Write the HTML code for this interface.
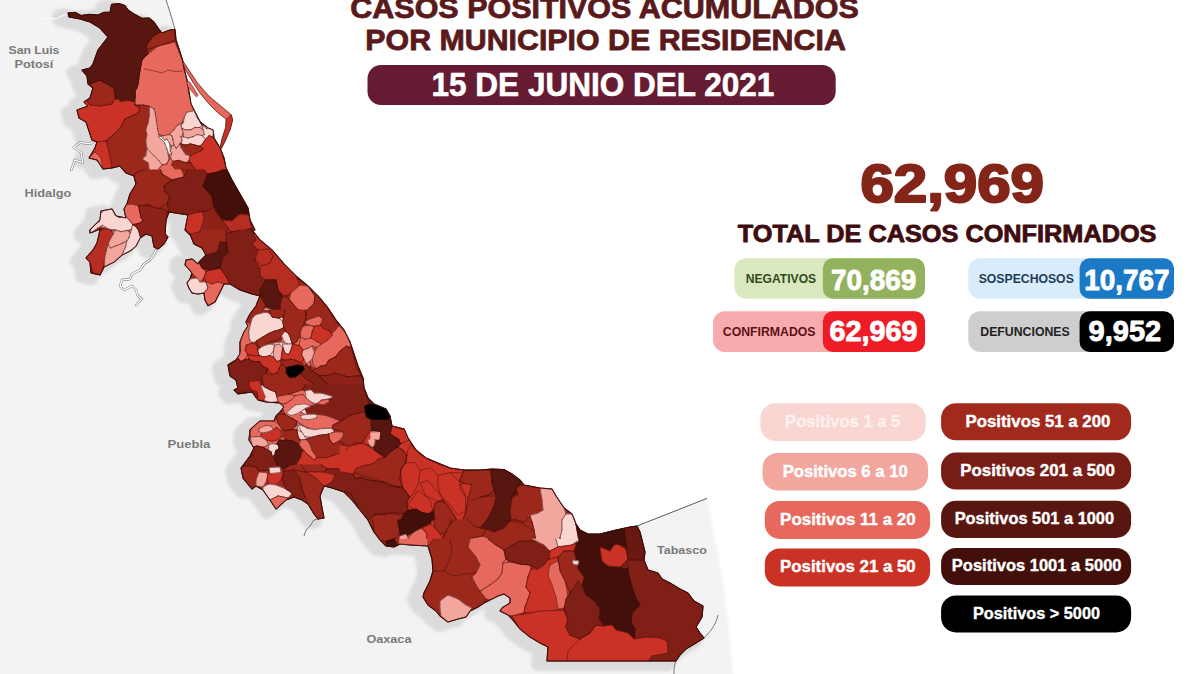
<!DOCTYPE html>
<html><head><meta charset="utf-8"><title>Casos positivos acumulados por municipio</title>
<style>
html,body{margin:0;padding:0;background:#fff;}
body{width:1200px;height:674px;overflow:hidden;font-family:"Liberation Sans",sans-serif;}
svg{display:block;font-family:"Liberation Sans",sans-serif;}
</style></head><body>
<svg width="1200" height="674" viewBox="0 0 1200 674">
<rect width="1200" height="674" fill="#ffffff"/>
<g id="map">
<defs><clipPath id="land"><path d="M-20,-20 L162,-20 L166.0,0.0 L170.0,12.0 L173.0,22.0 L175.0,29.6 L176.0,40.0 L180.0,52.0 L183.0,62.0 L184.0,69.0 L187.0,80.0 L189.0,92.0 L191.0,104.0 L194.0,110.0 L198.0,118.0 L202.0,125.0 L200.0,122.0 L208.0,128.0 L213.0,130.0 L214.0,138.0 L220.0,148.0 L224.0,158.0 L226.0,168.0 L232.0,180.0 L240.0,194.0 L248.0,208.0 L250.0,220.0 L255.0,230.0 L252.0,230.0 L260.0,240.0 L272.0,250.0 L284.0,264.0 L296.0,276.0 L308.0,286.0 L318.0,296.0 L328.0,308.0 L336.0,320.0 L344.0,330.0 L350.0,342.0 L354.0,354.0 L358.0,366.0 L363.0,378.0 L364.0,388.0 L368.0,398.0 L374.0,404.0 L386.0,409.0 L390.0,416.0 L392.0,426.0 L404.0,429.0 L408.0,438.0 L416.0,450.0 L426.0,458.0 L438.0,463.0 L450.0,468.0 L464.0,470.0 L480.0,470.0 L492.0,469.0 L504.0,469.6 L512.0,474.0 L520.0,480.0 L524.0,485.0 L540.0,488.0 L552.0,489.0 L556.0,496.0 L564.0,508.0 L572.0,514.0 L576.0,524.0 L580.0,530.0 L588.0,534.0 L600.0,534.0 L616.0,530.0 L630.0,527.0 L637.0,526.0 L707.0,498.4 L713.0,530.0 L719.0,560.0 L724.0,590.0 L728.0,620.0 L731.0,650.0 L733.0,674.0 L736,700 L-20,700 Z"/></clipPath><filter id="bl" x="-10%" y="-10%" width="120%" height="120%"><feGaussianBlur stdDeviation="1.4"/></filter><filter id="bl2" x="-10%" y="-10%" width="120%" height="120%"><feGaussianBlur stdDeviation="1.2"/></filter></defs>
<path d="M-20,-20 L162,-20 L166.0,0.0 L170.0,12.0 L173.0,22.0 L175.0,29.6 L176.0,40.0 L180.0,52.0 L183.0,62.0 L184.0,69.0 L187.0,80.0 L189.0,92.0 L191.0,104.0 L194.0,110.0 L198.0,118.0 L202.0,125.0 L200.0,122.0 L208.0,128.0 L213.0,130.0 L214.0,138.0 L220.0,148.0 L224.0,158.0 L226.0,168.0 L232.0,180.0 L240.0,194.0 L248.0,208.0 L250.0,220.0 L255.0,230.0 L252.0,230.0 L260.0,240.0 L272.0,250.0 L284.0,264.0 L296.0,276.0 L308.0,286.0 L318.0,296.0 L328.0,308.0 L336.0,320.0 L344.0,330.0 L350.0,342.0 L354.0,354.0 L358.0,366.0 L363.0,378.0 L364.0,388.0 L368.0,398.0 L374.0,404.0 L386.0,409.0 L390.0,416.0 L392.0,426.0 L404.0,429.0 L408.0,438.0 L416.0,450.0 L426.0,458.0 L438.0,463.0 L450.0,468.0 L464.0,470.0 L480.0,470.0 L492.0,469.0 L504.0,469.6 L512.0,474.0 L520.0,480.0 L524.0,485.0 L540.0,488.0 L552.0,489.0 L556.0,496.0 L564.0,508.0 L572.0,514.0 L576.0,524.0 L580.0,530.0 L588.0,534.0 L600.0,534.0 L616.0,530.0 L630.0,527.0 L637.0,526.0 L707.0,498.4 L713.0,530.0 L719.0,560.0 L724.0,590.0 L728.0,620.0 L731.0,650.0 L733.0,674.0 L736,700 L-20,700 Z" fill="#f3f3f3" filter="url(#bl2)"/>
<g clip-path="url(#land)"><path d="M68.0,13.0 L75.0,12.4 L81.0,15.6 L89.0,14.4 L98.0,15.0 L104.0,12.4 L110.0,12.4 L111.6,4.4 L119.0,3.6 L125.0,5.6 L128.0,10.0 L134.0,14.0 L142.0,18.4 L149.0,18.0 L154.0,22.0 L158.0,28.0 L162.0,33.0 L170.0,30.0 L175.0,29.6 L176.0,40.0 L180.0,52.0 L183.0,62.0 L184.0,69.0 L187.0,80.0 L189.0,92.0 L191.0,104.0 L194.0,110.0 L198.0,118.0 L202.0,125.0 L200.0,122.0 L208.0,128.0 L213.0,130.0 L214.0,138.0 L220.0,148.0 L224.0,158.0 L226.0,168.0 L232.0,180.0 L240.0,194.0 L248.0,208.0 L250.0,220.0 L255.0,230.0 L252.0,230.0 L260.0,240.0 L272.0,250.0 L284.0,264.0 L296.0,276.0 L308.0,286.0 L318.0,296.0 L328.0,308.0 L336.0,320.0 L344.0,330.0 L350.0,342.0 L354.0,354.0 L358.0,366.0 L363.0,378.0 L364.0,388.0 L368.0,398.0 L374.0,404.0 L386.0,409.0 L390.0,416.0 L392.0,426.0 L404.0,429.0 L408.0,438.0 L416.0,450.0 L426.0,458.0 L438.0,463.0 L450.0,468.0 L464.0,470.0 L480.0,470.0 L492.0,469.0 L504.0,469.6 L512.0,474.0 L520.0,480.0 L524.0,485.0 L540.0,488.0 L552.0,489.0 L556.0,496.0 L564.0,508.0 L572.0,514.0 L576.0,524.0 L580.0,530.0 L588.0,534.0 L600.0,534.0 L616.0,530.0 L630.0,527.0 L637.0,526.0 L640.0,532.0 L642.0,540.0 L645.0,552.0 L644.0,560.0 L648.0,570.0 L658.0,573.0 L662.0,579.0 L670.0,583.0 L680.0,589.0 L688.0,593.0 L694.0,601.0 L703.0,606.0 L702.0,617.0 L696.0,627.0 L700.0,633.0 L704.0,638.0 L696.0,643.0 L686.0,649.0 L680.0,655.0 L676.0,661.0 L547.0,661.0 L548.0,647.0 L540.0,643.0 L530.0,637.0 L520.0,629.0 L512.0,619.0 L508.0,615.0 L500.0,611.0 L502.0,608.0 L510.0,603.0 L510.0,598.0 L504.0,594.0 L498.0,596.0 L490.0,600.0 L484.0,603.0 L478.0,607.0 L470.0,611.0 L466.0,617.0 L458.0,619.0 L448.0,622.0 L440.0,616.0 L436.0,611.0 L428.0,605.0 L423.0,597.0 L424.0,593.0 L430.0,581.0 L433.0,571.0 L432.0,559.0 L428.0,546.0 L410.0,545.0 L400.0,544.0 L394.0,547.0 L386.0,546.0 L380.0,540.0 L374.0,532.0 L368.0,520.0 L360.0,510.0 L352.0,500.0 L344.0,492.0 L332.0,488.0 L324.0,486.0 L320.0,496.0 L322.0,508.0 L324.0,518.0 L318.0,519.0 L314.0,514.0 L308.0,504.0 L302.0,500.0 L294.0,497.0 L286.0,500.0 L276.0,509.0 L270.0,500.0 L263.0,490.0 L256.0,486.0 L252.0,489.0 L243.0,478.0 L241.0,468.0 L250.0,456.0 L254.0,448.0 L249.0,440.0 L250.0,430.0 L252.0,428.0 L260.0,421.0 L274.0,421.0 L276.0,416.0 L280.0,412.0 L284.0,407.0 L280.0,403.0 L266.0,402.0 L258.0,400.0 L252.0,392.0 L238.0,394.0 L234.0,390.0 L238.0,388.0 L236.0,380.0 L230.0,376.0 L228.0,365.0 L228.0,364.8 L236.0,360.0 L240.0,354.0 L240.0,342.0 L244.0,332.0 L248.0,326.0 L246.0,322.0 L250.0,314.0 L256.0,306.0 L260.0,296.0 L252.0,294.0 L240.0,290.0 L230.0,284.0 L224.0,284.0 L222.0,288.0 L218.0,296.0 L215.0,302.0 L208.0,305.6 L205.0,300.0 L204.0,293.0 L198.0,294.0 L192.0,293.0 L189.0,288.0 L187.0,283.0 L190.0,279.0 L192.0,273.0 L188.0,268.0 L185.0,265.0 L186.0,260.0 L192.0,259.0 L198.0,264.0 L199.0,262.0 L206.0,255.0 L202.0,248.0 L194.0,244.0 L190.0,234.0 L190.0,235.0 L185.0,230.0 L187.0,220.0 L188.0,215.0 L169.0,212.0 L166.0,220.0 L165.0,234.0 L168.0,237.0 L164.0,244.0 L158.0,249.0 L154.0,247.0 L152.0,236.0 L146.0,234.0 L140.0,238.0 L136.0,246.0 L130.0,251.0 L122.0,255.0 L114.0,262.0 L104.0,267.0 L100.0,275.0 L91.0,273.0 L90.0,262.0 L86.0,258.0 L93.0,250.0 L97.0,243.0 L99.0,235.0 L100.0,229.0 L93.0,232.0 L90.0,233.0 L90.0,230.0 L95.0,225.0 L100.0,220.0 L101.0,211.0 L112.0,209.0 L116.0,216.0 L126.0,218.0 L124.0,209.0 L127.0,204.0 L130.0,194.0 L136.0,184.0 L134.0,176.0 L126.0,173.0 L120.0,166.0 L112.0,168.0 L103.0,169.0 L97.0,160.0 L89.0,158.0 L95.0,148.0 L97.0,142.0 L92.0,140.0 L86.0,122.0 L79.0,118.0 L77.0,110.0 L88.0,106.0 L84.0,102.0 L90.0,98.0 L93.0,88.0 L88.0,84.0 L87.0,76.0 L82.0,70.0 L90.0,68.0 L93.0,64.0 L98.0,50.0 L108.0,37.0 L100.0,28.0 L90.0,22.0 L80.0,19.0 L69.0,17.0Z" fill="#dbdbdb" stroke="#dbdbdb" stroke-width="14" stroke-linejoin="round" transform="translate(-9,3)" filter="url(#bl)"/></g>
<path d="M71.3,170.0 L75.0,160.0 L82.6,162.6 L81.3,152.6 L73.8,147.6 L80.0,142.5 L90.0,143.8 L94.0,141.3" fill="none" stroke="#666" stroke-width="2.3" stroke-linejoin="round" stroke-linecap="round"/><path d="M71.3,170.0 L75.0,160.0 L82.6,162.6 L81.3,152.6 L73.8,147.6 L80.0,142.5 L90.0,143.8 L94.0,141.3" fill="none" stroke="#fafafa" stroke-width="1.5" stroke-linejoin="round" stroke-linecap="round"/>
<path d="M156.0,250.0 L154.0,254.0 L150.0,260.0 L144.0,264.0 L140.0,270.0 L132.0,274.0 L130.0,279.0 L122.0,280.0 L120.0,286.0 L124.0,290.0 L132.0,286.0 L136.0,290.0 L138.0,296.0 L142.0,299.0 L136.0,305.0" fill="none" stroke="#666" stroke-width="2.3" stroke-linejoin="round" stroke-linecap="round"/><path d="M156.0,250.0 L154.0,254.0 L150.0,260.0 L144.0,264.0 L140.0,270.0 L132.0,274.0 L130.0,279.0 L122.0,280.0 L120.0,286.0 L124.0,290.0 L132.0,286.0 L136.0,290.0 L138.0,296.0 L142.0,299.0 L136.0,305.0" fill="none" stroke="#fafafa" stroke-width="1.5" stroke-linejoin="round" stroke-linecap="round"/>
<path d="M318,519 L314,520 L310,526 L306,530 L304,536" fill="none" stroke="#444" stroke-width="0.7"/>
<path d="M43,19.5 L50,18 L56,19 L62,16 L68,13.8" fill="none" stroke="#ffffff" stroke-width="1.0"/>
<path d="M68.0,13.0 L75.0,12.4 L81.0,15.6 L89.0,14.4 L98.0,15.0 L104.0,12.4 L110.0,12.4 L111.6,4.4 L119.0,3.6 L125.0,5.6 L128.0,10.0 L134.0,14.0 L142.0,18.4 L149.0,18.0 L154.0,22.0 L158.0,28.0 L162.0,33.0 L170.0,30.0 L175.0,29.6 L176.0,40.0 L180.0,52.0 L183.0,62.0 L184.0,69.0 L187.0,80.0 L189.0,92.0 L191.0,104.0 L194.0,110.0 L198.0,118.0 L202.0,125.0 L200.0,122.0 L208.0,128.0 L213.0,130.0 L214.0,138.0 L220.0,148.0 L224.0,158.0 L226.0,168.0 L232.0,180.0 L240.0,194.0 L248.0,208.0 L250.0,220.0 L255.0,230.0 L252.0,230.0 L260.0,240.0 L272.0,250.0 L284.0,264.0 L296.0,276.0 L308.0,286.0 L318.0,296.0 L328.0,308.0 L336.0,320.0 L344.0,330.0 L350.0,342.0 L354.0,354.0 L358.0,366.0 L363.0,378.0 L364.0,388.0 L368.0,398.0 L374.0,404.0 L386.0,409.0 L390.0,416.0 L392.0,426.0 L404.0,429.0 L408.0,438.0 L416.0,450.0 L426.0,458.0 L438.0,463.0 L450.0,468.0 L464.0,470.0 L480.0,470.0 L492.0,469.0 L504.0,469.6 L512.0,474.0 L520.0,480.0 L524.0,485.0 L540.0,488.0 L552.0,489.0 L556.0,496.0 L564.0,508.0 L572.0,514.0 L576.0,524.0 L580.0,530.0 L588.0,534.0 L600.0,534.0 L616.0,530.0 L630.0,527.0 L637.0,526.0 L640.0,532.0 L642.0,540.0 L645.0,552.0 L644.0,560.0 L648.0,570.0 L658.0,573.0 L662.0,579.0 L670.0,583.0 L680.0,589.0 L688.0,593.0 L694.0,601.0 L703.0,606.0 L702.0,617.0 L696.0,627.0 L700.0,633.0 L704.0,638.0 L696.0,643.0 L686.0,649.0 L680.0,655.0 L676.0,661.0 L547.0,661.0 L548.0,647.0 L540.0,643.0 L530.0,637.0 L520.0,629.0 L512.0,619.0 L508.0,615.0 L500.0,611.0 L502.0,608.0 L510.0,603.0 L510.0,598.0 L504.0,594.0 L498.0,596.0 L490.0,600.0 L484.0,603.0 L478.0,607.0 L470.0,611.0 L466.0,617.0 L458.0,619.0 L448.0,622.0 L440.0,616.0 L436.0,611.0 L428.0,605.0 L423.0,597.0 L424.0,593.0 L430.0,581.0 L433.0,571.0 L432.0,559.0 L428.0,546.0 L410.0,545.0 L400.0,544.0 L394.0,547.0 L386.0,546.0 L380.0,540.0 L374.0,532.0 L368.0,520.0 L360.0,510.0 L352.0,500.0 L344.0,492.0 L332.0,488.0 L324.0,486.0 L320.0,496.0 L322.0,508.0 L324.0,518.0 L318.0,519.0 L314.0,514.0 L308.0,504.0 L302.0,500.0 L294.0,497.0 L286.0,500.0 L276.0,509.0 L270.0,500.0 L263.0,490.0 L256.0,486.0 L252.0,489.0 L243.0,478.0 L241.0,468.0 L250.0,456.0 L254.0,448.0 L249.0,440.0 L250.0,430.0 L252.0,428.0 L260.0,421.0 L274.0,421.0 L276.0,416.0 L280.0,412.0 L284.0,407.0 L280.0,403.0 L266.0,402.0 L258.0,400.0 L252.0,392.0 L238.0,394.0 L234.0,390.0 L238.0,388.0 L236.0,380.0 L230.0,376.0 L228.0,365.0 L228.0,364.8 L236.0,360.0 L240.0,354.0 L240.0,342.0 L244.0,332.0 L248.0,326.0 L246.0,322.0 L250.0,314.0 L256.0,306.0 L260.0,296.0 L252.0,294.0 L240.0,290.0 L230.0,284.0 L224.0,284.0 L222.0,288.0 L218.0,296.0 L215.0,302.0 L208.0,305.6 L205.0,300.0 L204.0,293.0 L198.0,294.0 L192.0,293.0 L189.0,288.0 L187.0,283.0 L190.0,279.0 L192.0,273.0 L188.0,268.0 L185.0,265.0 L186.0,260.0 L192.0,259.0 L198.0,264.0 L199.0,262.0 L206.0,255.0 L202.0,248.0 L194.0,244.0 L190.0,234.0 L190.0,235.0 L185.0,230.0 L187.0,220.0 L188.0,215.0 L169.0,212.0 L166.0,220.0 L165.0,234.0 L168.0,237.0 L164.0,244.0 L158.0,249.0 L154.0,247.0 L152.0,236.0 L146.0,234.0 L140.0,238.0 L136.0,246.0 L130.0,251.0 L122.0,255.0 L114.0,262.0 L104.0,267.0 L100.0,275.0 L91.0,273.0 L90.0,262.0 L86.0,258.0 L93.0,250.0 L97.0,243.0 L99.0,235.0 L100.0,229.0 L93.0,232.0 L90.0,233.0 L90.0,230.0 L95.0,225.0 L100.0,220.0 L101.0,211.0 L112.0,209.0 L116.0,216.0 L126.0,218.0 L124.0,209.0 L127.0,204.0 L130.0,194.0 L136.0,184.0 L134.0,176.0 L126.0,173.0 L120.0,166.0 L112.0,168.0 L103.0,169.0 L97.0,160.0 L89.0,158.0 L95.0,148.0 L97.0,142.0 L92.0,140.0 L86.0,122.0 L79.0,118.0 L77.0,110.0 L88.0,106.0 L84.0,102.0 L90.0,98.0 L93.0,88.0 L88.0,84.0 L87.0,76.0 L82.0,70.0 L90.0,68.0 L93.0,64.0 L98.0,50.0 L108.0,37.0 L100.0,28.0 L90.0,22.0 L80.0,19.0 L69.0,17.0Z" fill="#9c271b" stroke="#3a0c09" stroke-width="1.2" stroke-linejoin="round"/>
<clipPath id="st"><path d="M68.0,13.0 L75.0,12.4 L81.0,15.6 L89.0,14.4 L98.0,15.0 L104.0,12.4 L110.0,12.4 L111.6,4.4 L119.0,3.6 L125.0,5.6 L128.0,10.0 L134.0,14.0 L142.0,18.4 L149.0,18.0 L154.0,22.0 L158.0,28.0 L162.0,33.0 L170.0,30.0 L175.0,29.6 L176.0,40.0 L180.0,52.0 L183.0,62.0 L184.0,69.0 L187.0,80.0 L189.0,92.0 L191.0,104.0 L194.0,110.0 L198.0,118.0 L202.0,125.0 L200.0,122.0 L208.0,128.0 L213.0,130.0 L214.0,138.0 L220.0,148.0 L224.0,158.0 L226.0,168.0 L232.0,180.0 L240.0,194.0 L248.0,208.0 L250.0,220.0 L255.0,230.0 L252.0,230.0 L260.0,240.0 L272.0,250.0 L284.0,264.0 L296.0,276.0 L308.0,286.0 L318.0,296.0 L328.0,308.0 L336.0,320.0 L344.0,330.0 L350.0,342.0 L354.0,354.0 L358.0,366.0 L363.0,378.0 L364.0,388.0 L368.0,398.0 L374.0,404.0 L386.0,409.0 L390.0,416.0 L392.0,426.0 L404.0,429.0 L408.0,438.0 L416.0,450.0 L426.0,458.0 L438.0,463.0 L450.0,468.0 L464.0,470.0 L480.0,470.0 L492.0,469.0 L504.0,469.6 L512.0,474.0 L520.0,480.0 L524.0,485.0 L540.0,488.0 L552.0,489.0 L556.0,496.0 L564.0,508.0 L572.0,514.0 L576.0,524.0 L580.0,530.0 L588.0,534.0 L600.0,534.0 L616.0,530.0 L630.0,527.0 L637.0,526.0 L640.0,532.0 L642.0,540.0 L645.0,552.0 L644.0,560.0 L648.0,570.0 L658.0,573.0 L662.0,579.0 L670.0,583.0 L680.0,589.0 L688.0,593.0 L694.0,601.0 L703.0,606.0 L702.0,617.0 L696.0,627.0 L700.0,633.0 L704.0,638.0 L696.0,643.0 L686.0,649.0 L680.0,655.0 L676.0,661.0 L547.0,661.0 L548.0,647.0 L540.0,643.0 L530.0,637.0 L520.0,629.0 L512.0,619.0 L508.0,615.0 L500.0,611.0 L502.0,608.0 L510.0,603.0 L510.0,598.0 L504.0,594.0 L498.0,596.0 L490.0,600.0 L484.0,603.0 L478.0,607.0 L470.0,611.0 L466.0,617.0 L458.0,619.0 L448.0,622.0 L440.0,616.0 L436.0,611.0 L428.0,605.0 L423.0,597.0 L424.0,593.0 L430.0,581.0 L433.0,571.0 L432.0,559.0 L428.0,546.0 L410.0,545.0 L400.0,544.0 L394.0,547.0 L386.0,546.0 L380.0,540.0 L374.0,532.0 L368.0,520.0 L360.0,510.0 L352.0,500.0 L344.0,492.0 L332.0,488.0 L324.0,486.0 L320.0,496.0 L322.0,508.0 L324.0,518.0 L318.0,519.0 L314.0,514.0 L308.0,504.0 L302.0,500.0 L294.0,497.0 L286.0,500.0 L276.0,509.0 L270.0,500.0 L263.0,490.0 L256.0,486.0 L252.0,489.0 L243.0,478.0 L241.0,468.0 L250.0,456.0 L254.0,448.0 L249.0,440.0 L250.0,430.0 L252.0,428.0 L260.0,421.0 L274.0,421.0 L276.0,416.0 L280.0,412.0 L284.0,407.0 L280.0,403.0 L266.0,402.0 L258.0,400.0 L252.0,392.0 L238.0,394.0 L234.0,390.0 L238.0,388.0 L236.0,380.0 L230.0,376.0 L228.0,365.0 L228.0,364.8 L236.0,360.0 L240.0,354.0 L240.0,342.0 L244.0,332.0 L248.0,326.0 L246.0,322.0 L250.0,314.0 L256.0,306.0 L260.0,296.0 L252.0,294.0 L240.0,290.0 L230.0,284.0 L224.0,284.0 L222.0,288.0 L218.0,296.0 L215.0,302.0 L208.0,305.6 L205.0,300.0 L204.0,293.0 L198.0,294.0 L192.0,293.0 L189.0,288.0 L187.0,283.0 L190.0,279.0 L192.0,273.0 L188.0,268.0 L185.0,265.0 L186.0,260.0 L192.0,259.0 L198.0,264.0 L199.0,262.0 L206.0,255.0 L202.0,248.0 L194.0,244.0 L190.0,234.0 L190.0,235.0 L185.0,230.0 L187.0,220.0 L188.0,215.0 L169.0,212.0 L166.0,220.0 L165.0,234.0 L168.0,237.0 L164.0,244.0 L158.0,249.0 L154.0,247.0 L152.0,236.0 L146.0,234.0 L140.0,238.0 L136.0,246.0 L130.0,251.0 L122.0,255.0 L114.0,262.0 L104.0,267.0 L100.0,275.0 L91.0,273.0 L90.0,262.0 L86.0,258.0 L93.0,250.0 L97.0,243.0 L99.0,235.0 L100.0,229.0 L93.0,232.0 L90.0,233.0 L90.0,230.0 L95.0,225.0 L100.0,220.0 L101.0,211.0 L112.0,209.0 L116.0,216.0 L126.0,218.0 L124.0,209.0 L127.0,204.0 L130.0,194.0 L136.0,184.0 L134.0,176.0 L126.0,173.0 L120.0,166.0 L112.0,168.0 L103.0,169.0 L97.0,160.0 L89.0,158.0 L95.0,148.0 L97.0,142.0 L92.0,140.0 L86.0,122.0 L79.0,118.0 L77.0,110.0 L88.0,106.0 L84.0,102.0 L90.0,98.0 L93.0,88.0 L88.0,84.0 L87.0,76.0 L82.0,70.0 L90.0,68.0 L93.0,64.0 L98.0,50.0 L108.0,37.0 L100.0,28.0 L90.0,22.0 L80.0,19.0 L69.0,17.0Z"/></clipPath>
<g clip-path="url(#st)" stroke-linejoin="round">
<path d="M148.0,54.0 L158.0,46.0 L175.0,42.0 L183.0,62.0 L184.0,69.0 L187.0,80.0 L189.0,92.0 L191.0,104.0 L194.0,110.0 L188.0,114.0 L180.0,124.0 L170.0,134.8 L158.0,134.8 L154.0,120.0 L152.0,108.0 L134.0,98.0 L138.0,84.0 L140.0,70.0 L142.0,60.0Z" fill="#e7695d" stroke="#e7695d" stroke-width="0.7"/>
<path d="M148.0,54.0L158.0,46.0M158.0,46.0L175.0,42.0M175.0,42.0L183.0,62.0M183.0,62.0L184.0,69.0M184.0,69.0L187.0,80.0M187.0,80.0L189.0,92.0M189.0,92.0L191.0,104.0M191.0,104.0L194.0,110.0M194.0,110.0L188.0,114.0M188.0,114.0L180.0,124.0M180.0,124.0L170.0,134.8M158.0,134.8L154.0,120.0M154.0,120.0L152.0,108.0M152.0,108.0L134.0,98.0M134.0,98.0L138.0,84.0M138.0,84.0L140.0,70.0M140.0,70.0L142.0,60.0M142.0,60.0L148.0,54.0" fill="none" stroke="#3a0c09" stroke-width="0.55" stroke-linecap="round"/>
<path d="M152.0,37.0 L160.0,32.0 L170.0,30.0 L174.4,29.0 L175.0,40.0 L168.0,43.0 L158.0,46.0 L149.0,49.0 L146.0,46.0Z" fill="#9c271b" stroke="#9c271b" stroke-width="0.7"/>
<path d="M152.0,37.0L160.0,32.0M160.0,32.0L170.0,30.0M170.0,30.0L174.4,29.0M174.4,29.0L175.0,40.0M175.0,40.0L168.0,43.0M168.0,43.0L158.0,46.0M158.0,46.0L149.0,49.0M149.0,49.0L146.0,46.0M146.0,46.0L152.0,37.0" fill="none" stroke="#3a0c09" stroke-width="0.55" stroke-linecap="round"/>
<path d="M100.0,80.0 L114.0,88.0 L116.0,102.0 L106.0,105.0 L88.0,107.0 L84.0,102.0 L90.0,98.0 L93.0,88.0 L88.0,84.0 L90.0,83.0Z" fill="#9c271b" stroke="#9c271b" stroke-width="0.7"/>
<path d="M100.0,80.0L114.0,88.0M114.0,88.0L116.0,102.0M116.0,102.0L106.0,105.0M106.0,105.0L88.0,107.0M88.0,107.0L84.0,102.0M84.0,102.0L90.0,98.0M90.0,98.0L93.0,88.0M93.0,88.0L88.0,84.0M88.0,84.0L90.0,83.0M90.0,83.0L100.0,80.0" fill="none" stroke="#3a0c09" stroke-width="0.55" stroke-linecap="round"/>
<path d="M77.0,109.0 L88.0,107.0 L106.0,105.0 L116.0,102.0 L134.0,98.0 L140.0,108.0 L130.0,118.0 L124.0,120.0 L112.0,132.0 L110.0,134.8 L92.0,134.8 L86.0,128.0 L79.0,120.0Z" fill="#cb3226" stroke="#cb3226" stroke-width="0.7"/>
<path d="M77.0,109.0L88.0,107.0M88.0,107.0L106.0,105.0M106.0,105.0L116.0,102.0M116.0,102.0L134.0,98.0M134.0,98.0L140.0,108.0M140.0,108.0L130.0,118.0M130.0,118.0L124.0,120.0M124.0,120.0L112.0,132.0M112.0,132.0L110.0,134.8M92.0,134.8L86.0,128.0M86.0,128.0L79.0,120.0M79.0,120.0L77.0,109.0" fill="none" stroke="#3a0c09" stroke-width="0.55" stroke-linecap="round"/>
<path d="M140.0,108.0 L152.0,108.0 L154.0,120.0 L149.0,128.0 L146.0,134.8 L110.0,134.8 L112.0,132.0 L124.0,120.0 L130.0,118.0Z" fill="#9c271b" stroke="#9c271b" stroke-width="0.7"/>
<path d="M140.0,108.0L152.0,108.0M152.0,108.0L154.0,120.0M154.0,120.0L149.0,128.0M149.0,128.0L146.0,134.8M110.0,134.8L112.0,132.0M112.0,132.0L124.0,120.0M124.0,120.0L130.0,118.0M130.0,118.0L140.0,108.0" fill="none" stroke="#3a0c09" stroke-width="0.55" stroke-linecap="round"/>
<path d="M154.0,120.0 L158.0,134.8 L146.0,134.8 L149.0,128.0Z" fill="#f3a69e" stroke="#f3a69e" stroke-width="0.7"/>
<path d="M154.0,120.0L158.0,134.8M146.0,134.8L149.0,128.0M149.0,128.0L154.0,120.0" fill="none" stroke="#3a0c09" stroke-width="0.55" stroke-linecap="round"/>
<path d="M188.0,114.0 L194.0,110.0 L198.0,118.0 L202.0,125.0 L210.0,128.0 L212.0,134.8 L180.0,134.8 L180.0,124.0Z" fill="#f9d6d2" stroke="#f9d6d2" stroke-width="0.7"/>
<path d="M188.0,114.0L194.0,110.0M194.0,110.0L198.0,118.0M198.0,118.0L202.0,125.0M202.0,125.0L210.0,128.0M210.0,128.0L212.0,134.8M180.0,134.8L180.0,124.0M180.0,124.0L188.0,114.0" fill="none" stroke="#3a0c09" stroke-width="0.55" stroke-linecap="round"/>
<path d="M68.0,13.0 L75.0,12.4 L81.0,15.6 L89.0,14.4 L98.0,15.0 L104.0,12.4 L110.0,12.4 L111.6,4.4 L119.0,3.6 L125.0,5.6 L128.0,10.0 L134.0,14.0 L142.0,18.4 L149.0,18.0 L154.0,22.0 L158.0,28.0 L160.0,32.0 L152.0,37.0 L146.0,46.0 L148.0,54.0 L142.0,60.0 L140.0,70.0 L138.0,84.0 L134.0,98.0 L116.0,102.0 L114.0,88.0 L100.0,80.0 L90.0,84.0 L87.0,76.0 L82.0,70.0 L90.0,68.0 L93.0,64.0 L98.0,50.0 L108.0,37.0 L100.0,28.0 L90.0,22.0 L80.0,19.0 L69.0,17.0Z" fill="#57160f" stroke="#57160f" stroke-width="0.7"/>
<path d="M68.0,13.0L75.0,12.4M75.0,12.4L81.0,15.6M81.0,15.6L89.0,14.4M89.0,14.4L98.0,15.0M98.0,15.0L104.0,12.4M104.0,12.4L110.0,12.4M110.0,12.4L111.6,4.4M111.6,4.4L119.0,3.6M119.0,3.6L125.0,5.6M125.0,5.6L128.0,10.0M128.0,10.0L134.0,14.0M134.0,14.0L142.0,18.4M142.0,18.4L149.0,18.0M149.0,18.0L154.0,22.0M154.0,22.0L158.0,28.0M158.0,28.0L160.0,32.0M160.0,32.0L152.0,37.0M152.0,37.0L146.0,46.0M146.0,46.0L148.0,54.0M148.0,54.0L142.0,60.0M142.0,60.0L140.0,70.0M140.0,70.0L138.0,84.0M138.0,84.0L134.0,98.0M134.0,98.0L116.0,102.0M116.0,102.0L114.0,88.0M114.0,88.0L100.0,80.0M100.0,80.0L90.0,84.0M90.0,84.0L87.0,76.0M87.0,76.0L82.0,70.0M82.0,70.0L90.0,68.0M90.0,68.0L93.0,64.0M93.0,64.0L98.0,50.0M98.0,50.0L108.0,37.0M108.0,37.0L100.0,28.0M100.0,28.0L90.0,22.0M90.0,22.0L80.0,19.0M80.0,19.0L69.0,17.0M69.0,17.0L68.0,13.0" fill="none" stroke="#3a0c09" stroke-width="0.55" stroke-linecap="round"/>
<path d="M86.0,100.0 L77.0,110.0 L79.0,118.0 L86.0,122.0 L92.0,140.0 L97.0,142.0 L106.0,141.0 L113.0,135.0 L120.0,128.0 L124.0,120.0 L136.0,115.0 L144.0,108.0 L140.0,100.0Z" fill="#cb3226" stroke="#cb3226" stroke-width="0.7"/>
<path d="M86.0,100.0L77.0,110.0M77.0,110.0L79.0,118.0M79.0,118.0L86.0,122.0M86.0,122.0L92.0,140.0M92.0,140.0L97.0,142.0M97.0,142.0L106.0,141.0M106.0,141.0L113.0,135.0M113.0,135.0L120.0,128.0M120.0,128.0L124.0,120.0M124.0,120.0L136.0,115.0M136.0,115.0L144.0,108.0M144.0,108.0L140.0,100.0" fill="none" stroke="#3a0c09" stroke-width="0.55" stroke-linecap="round"/>
<path d="M144.0,108.0 L153.0,114.0 L149.0,124.0 L146.0,134.0 L148.0,148.0 L142.0,158.0 L148.0,168.0 L136.0,173.0 L134.0,176.0 L126.0,173.0 L120.0,166.0 L112.0,168.0 L109.0,152.0 L106.0,141.0 L113.0,135.0 L120.0,128.0 L124.0,120.0 L136.0,115.0Z" fill="#9c271b" stroke="#9c271b" stroke-width="0.7"/>
<path d="M144.0,108.0L153.0,114.0M153.0,114.0L149.0,124.0M149.0,124.0L146.0,134.0M146.0,134.0L148.0,148.0M148.0,148.0L142.0,158.0M142.0,158.0L148.0,168.0M148.0,168.0L136.0,173.0M136.0,173.0L134.0,176.0M134.0,176.0L126.0,173.0M126.0,173.0L120.0,166.0M120.0,166.0L112.0,168.0M112.0,168.0L109.0,152.0M109.0,152.0L106.0,141.0M106.0,141.0L113.0,135.0M113.0,135.0L120.0,128.0M120.0,128.0L124.0,120.0M124.0,120.0L136.0,115.0M136.0,115.0L144.0,108.0" fill="none" stroke="#3a0c09" stroke-width="0.55" stroke-linecap="round"/>
<path d="M86.0,100.0 L114.0,100.0 L112.0,104.0 L100.0,106.0 L90.0,105.0Z" fill="#9c271b" stroke="#9c271b" stroke-width="0.7"/>
<path d="M114.0,100.0L112.0,104.0M112.0,104.0L100.0,106.0M100.0,106.0L90.0,105.0M90.0,105.0L86.0,100.0" fill="none" stroke="#3a0c09" stroke-width="0.55" stroke-linecap="round"/>
<path d="M97.0,142.0 L106.0,141.0 L109.0,152.0 L112.0,168.0 L103.0,169.0 L97.0,160.0 L89.0,158.0 L95.0,148.0Z" fill="#cb3226" stroke="#cb3226" stroke-width="0.7"/>
<path d="M97.0,142.0L106.0,141.0M106.0,141.0L109.0,152.0M109.0,152.0L112.0,168.0M112.0,168.0L103.0,169.0M103.0,169.0L97.0,160.0M97.0,160.0L89.0,158.0M89.0,158.0L95.0,148.0M95.0,148.0L97.0,142.0" fill="none" stroke="#3a0c09" stroke-width="0.55" stroke-linecap="round"/>
<path d="M89.0,158.0 L95.0,152.0 L101.0,158.0 L103.0,169.0 L97.0,160.0Z" fill="#e7695d" stroke="#e7695d" stroke-width="0.7"/>
<path d="M89.0,158.0L95.0,152.0M95.0,152.0L101.0,158.0M101.0,158.0L103.0,169.0M103.0,169.0L97.0,160.0M97.0,160.0L89.0,158.0" fill="none" stroke="#3a0c09" stroke-width="0.55" stroke-linecap="round"/>
<path d="M153.0,114.0 L156.0,126.0 L160.0,136.0 L168.0,139.0 L172.0,148.0 L169.0,156.0 L164.0,166.0 L154.0,170.0 L148.0,168.0 L142.0,158.0 L148.0,148.0 L146.0,134.0 L149.0,124.0Z" fill="#f3a69e" stroke="#f3a69e" stroke-width="0.7"/>
<path d="M153.0,114.0L156.0,126.0M156.0,126.0L160.0,136.0M160.0,136.0L168.0,139.0M168.0,139.0L172.0,148.0M172.0,148.0L169.0,156.0M169.0,156.0L164.0,166.0M164.0,166.0L154.0,170.0M154.0,170.0L148.0,168.0M148.0,168.0L142.0,158.0M142.0,158.0L148.0,148.0M148.0,148.0L146.0,134.0M146.0,134.0L149.0,124.0M149.0,124.0L153.0,114.0" fill="none" stroke="#3a0c09" stroke-width="0.55" stroke-linecap="round"/>
<path d="M140.0,100.0 L190.0,100.0 L192.0,110.0 L186.0,114.0 L182.0,124.0 L176.0,130.0 L168.0,139.0 L160.0,136.0 L156.0,126.0 L153.0,114.0 L144.0,108.0Z" fill="#e7695d" stroke="#e7695d" stroke-width="0.7"/>
<path d="M190.0,100.0L192.0,110.0M192.0,110.0L186.0,114.0M186.0,114.0L182.0,124.0M182.0,124.0L176.0,130.0M176.0,130.0L168.0,139.0M168.0,139.0L160.0,136.0M160.0,136.0L156.0,126.0M156.0,126.0L153.0,114.0M153.0,114.0L144.0,108.0M144.0,108.0L140.0,100.0" fill="none" stroke="#3a0c09" stroke-width="0.55" stroke-linecap="round"/>
<path d="M186.0,114.0 L192.0,110.0 L200.0,122.0 L203.0,128.0 L198.0,130.0 L190.0,130.0 L182.0,132.0 L182.0,124.0Z" fill="#f9d6d2" stroke="#f9d6d2" stroke-width="0.7"/>
<path d="M186.0,114.0L192.0,110.0M192.0,110.0L200.0,122.0M200.0,122.0L203.0,128.0M203.0,128.0L198.0,130.0M198.0,130.0L190.0,130.0M190.0,130.0L182.0,132.0M182.0,132.0L182.0,124.0M182.0,124.0L186.0,114.0" fill="none" stroke="#3a0c09" stroke-width="0.55" stroke-linecap="round"/>
<path d="M182.0,132.0 L190.0,130.0 L203.0,128.0 L204.0,135.0 L198.0,138.0 L188.0,137.0 L182.0,139.0Z" fill="#f3a69e" stroke="#f3a69e" stroke-width="0.7"/>
<path d="M182.0,132.0L190.0,130.0M190.0,130.0L203.0,128.0M203.0,128.0L204.0,135.0M204.0,135.0L198.0,138.0M198.0,138.0L188.0,137.0M188.0,137.0L182.0,139.0M182.0,139.0L182.0,132.0" fill="none" stroke="#3a0c09" stroke-width="0.55" stroke-linecap="round"/>
<path d="M182.0,139.0 L188.0,137.0 L198.0,138.0 L204.0,135.0 L208.0,130.0 L213.0,130.0 L214.0,138.0 L204.0,143.0 L198.0,145.0 L184.0,146.0 L180.0,143.0Z" fill="#f9d6d2" stroke="#f9d6d2" stroke-width="0.7"/>
<path d="M182.0,139.0L188.0,137.0M188.0,137.0L198.0,138.0M198.0,138.0L204.0,135.0M204.0,135.0L208.0,130.0M208.0,130.0L213.0,130.0M213.0,130.0L214.0,138.0M214.0,138.0L204.0,143.0M204.0,143.0L198.0,145.0M198.0,145.0L184.0,146.0M184.0,146.0L180.0,143.0M180.0,143.0L182.0,139.0" fill="none" stroke="#3a0c09" stroke-width="0.55" stroke-linecap="round"/>
<path d="M171.0,152.0 L180.0,148.0 L188.0,156.0 L190.0,160.0 L180.0,160.0 L170.0,160.0 L169.0,156.0Z" fill="#f3a69e" stroke="#f3a69e" stroke-width="0.7"/>
<path d="M171.0,152.0L180.0,148.0M180.0,148.0L188.0,156.0M188.0,156.0L190.0,160.0M190.0,160.0L180.0,160.0M180.0,160.0L170.0,160.0M170.0,160.0L169.0,156.0M169.0,156.0L171.0,152.0" fill="none" stroke="#3a0c09" stroke-width="0.55" stroke-linecap="round"/>
<path d="M168.0,139.0 L176.0,130.0 L182.0,132.0 L182.0,139.0 L180.0,143.0 L180.0,148.0 L171.0,152.0 L172.0,148.0Z" fill="#f3a69e" stroke="#f3a69e" stroke-width="0.7"/>
<path d="M168.0,139.0L176.0,130.0M176.0,130.0L182.0,132.0M182.0,132.0L182.0,139.0M182.0,139.0L180.0,143.0M180.0,143.0L180.0,148.0M180.0,148.0L171.0,152.0M171.0,152.0L172.0,148.0M172.0,148.0L168.0,139.0" fill="none" stroke="#3a0c09" stroke-width="0.55" stroke-linecap="round"/>
<path d="M180.0,148.0 L184.0,146.0 L198.0,145.0 L203.0,148.0 L200.0,152.0 L192.0,155.0 L188.0,156.0Z" fill="#9c271b" stroke="#9c271b" stroke-width="0.7"/>
<path d="M180.0,148.0L184.0,146.0M184.0,146.0L198.0,145.0M198.0,145.0L203.0,148.0M203.0,148.0L200.0,152.0M200.0,152.0L192.0,155.0M192.0,155.0L188.0,156.0M188.0,156.0L180.0,148.0" fill="none" stroke="#3a0c09" stroke-width="0.55" stroke-linecap="round"/>
<path d="M190.0,160.0 L192.0,155.0 L200.0,152.0 L203.0,148.0 L204.0,143.0 L214.0,138.0 L220.0,148.0 L224.0,158.0 L226.0,168.0 L218.0,172.0 L208.0,174.0 L200.0,166.0 L190.0,164.0Z" fill="#cb3226" stroke="#cb3226" stroke-width="0.7"/>
<path d="M190.0,160.0L192.0,155.0M192.0,155.0L200.0,152.0M200.0,152.0L203.0,148.0M203.0,148.0L204.0,143.0M204.0,143.0L214.0,138.0M214.0,138.0L220.0,148.0M220.0,148.0L224.0,158.0M224.0,158.0L226.0,168.0M226.0,168.0L218.0,172.0M218.0,172.0L208.0,174.0M208.0,174.0L200.0,166.0M200.0,166.0L190.0,164.0M190.0,164.0L190.0,160.0" fill="none" stroke="#3a0c09" stroke-width="0.55" stroke-linecap="round"/>
<path d="M164.0,166.0 L169.0,156.0 L170.0,160.0 L180.0,160.0 L182.0,170.0 L184.0,177.0 L172.0,180.0 L162.0,174.0 L160.0,168.0Z" fill="#e7695d" stroke="#e7695d" stroke-width="0.7"/>
<path d="M164.0,166.0L169.0,156.0M169.0,156.0L170.0,160.0M170.0,160.0L180.0,160.0M180.0,160.0L182.0,170.0M182.0,170.0L184.0,177.0M184.0,177.0L172.0,180.0M172.0,180.0L162.0,174.0M162.0,174.0L160.0,168.0M160.0,168.0L164.0,166.0" fill="none" stroke="#3a0c09" stroke-width="0.55" stroke-linecap="round"/>
<path d="M180.0,160.0 L190.0,160.0 L190.0,164.0 L184.0,170.0 L182.0,170.0Z" fill="#9c271b" stroke="#9c271b" stroke-width="0.7"/>
<path d="M180.0,160.0L190.0,160.0M190.0,160.0L190.0,164.0M190.0,164.0L184.0,170.0M184.0,170.0L182.0,170.0M182.0,170.0L180.0,160.0" fill="none" stroke="#3a0c09" stroke-width="0.55" stroke-linecap="round"/>
<path d="M134.0,176.0 L136.0,173.0 L148.0,168.0 L154.0,170.0 L160.0,168.0 L162.0,174.0 L172.0,180.0 L164.0,186.0 L165.0,192.0 L170.0,196.0 L167.0,204.0 L158.0,209.0 L148.0,205.0 L140.0,207.0 L127.0,204.0 L130.0,194.0 L136.0,184.0Z" fill="#9c271b" stroke="#9c271b" stroke-width="0.7"/>
<path d="M134.0,176.0L136.0,173.0M136.0,173.0L148.0,168.0M148.0,168.0L154.0,170.0M154.0,170.0L160.0,168.0M160.0,168.0L162.0,174.0M162.0,174.0L172.0,180.0M172.0,180.0L164.0,186.0M164.0,186.0L165.0,192.0M165.0,192.0L170.0,196.0M170.0,196.0L167.0,204.0M167.0,204.0L158.0,209.0M158.0,209.0L148.0,205.0M148.0,205.0L140.0,207.0M140.0,207.0L127.0,204.0M127.0,204.0L130.0,194.0M130.0,194.0L136.0,184.0M136.0,184.0L134.0,176.0" fill="none" stroke="#3a0c09" stroke-width="0.55" stroke-linecap="round"/>
<path d="M172.0,180.0 L184.0,177.0 L190.0,164.0 L200.0,166.0 L208.0,174.0 L203.0,186.0 L212.0,196.0 L214.0,207.0 L208.0,211.0 L200.0,212.0 L188.0,215.0 L169.0,212.0 L167.0,204.0 L170.0,196.0 L165.0,192.0 L164.0,186.0Z" fill="#801f16" stroke="#801f16" stroke-width="0.7"/>
<path d="M172.0,180.0L184.0,177.0M184.0,177.0L190.0,164.0M190.0,164.0L200.0,166.0M200.0,166.0L208.0,174.0M208.0,174.0L203.0,186.0M203.0,186.0L212.0,196.0M212.0,196.0L214.0,207.0M214.0,207.0L208.0,211.0M208.0,211.0L200.0,212.0M200.0,212.0L188.0,215.0M188.0,215.0L169.0,212.0M169.0,212.0L167.0,204.0M167.0,204.0L170.0,196.0M170.0,196.0L165.0,192.0M165.0,192.0L164.0,186.0M164.0,186.0L172.0,180.0" fill="none" stroke="#3a0c09" stroke-width="0.55" stroke-linecap="round"/>
<path d="M208.0,174.0 L218.0,172.0 L226.0,168.0 L232.0,180.0 L240.0,194.0 L248.0,208.0 L249.0,215.0 L240.0,214.0 L232.0,221.0 L222.0,220.0 L216.0,212.0 L214.0,207.0 L212.0,196.0 L203.0,186.0Z" fill="#420f0b" stroke="#420f0b" stroke-width="0.7"/>
<path d="M208.0,174.0L218.0,172.0M218.0,172.0L226.0,168.0M226.0,168.0L232.0,180.0M232.0,180.0L240.0,194.0M240.0,194.0L248.0,208.0M248.0,208.0L249.0,215.0M249.0,215.0L240.0,214.0M240.0,214.0L232.0,221.0M232.0,221.0L222.0,220.0M222.0,220.0L216.0,212.0M216.0,212.0L214.0,207.0M214.0,207.0L212.0,196.0M212.0,196.0L203.0,186.0M203.0,186.0L208.0,174.0" fill="none" stroke="#3a0c09" stroke-width="0.55" stroke-linecap="round"/>
<path d="M127.0,204.0 L140.0,207.0 L142.0,220.0 L136.0,224.0 L131.0,222.0 L126.0,218.0 L124.0,209.0Z" fill="#e7695d" stroke="#e7695d" stroke-width="0.7"/>
<path d="M127.0,204.0L140.0,207.0M140.0,207.0L142.0,220.0M142.0,220.0L136.0,224.0M136.0,224.0L131.0,222.0M131.0,222.0L126.0,218.0M126.0,218.0L124.0,209.0M124.0,209.0L127.0,204.0" fill="none" stroke="#3a0c09" stroke-width="0.55" stroke-linecap="round"/>
<path d="M140.0,207.0 L148.0,205.0 L158.0,209.0 L169.0,212.0 L166.0,220.0 L166.0,234.8 L140.0,234.8 L138.0,228.0 L142.0,220.0Z" fill="#9c271b" stroke="#9c271b" stroke-width="0.7"/>
<path d="M140.0,207.0L148.0,205.0M148.0,205.0L158.0,209.0M158.0,209.0L169.0,212.0M169.0,212.0L166.0,220.0M166.0,220.0L166.0,234.8M140.0,234.8L138.0,228.0M138.0,228.0L142.0,220.0M142.0,220.0L140.0,207.0" fill="none" stroke="#3a0c09" stroke-width="0.55" stroke-linecap="round"/>
<path d="M188.0,215.0 L200.0,212.0 L204.0,216.0 L200.0,228.0 L198.0,234.8 L185.0,234.8 L187.0,220.0Z" fill="#cb3226" stroke="#cb3226" stroke-width="0.7"/>
<path d="M188.0,215.0L200.0,212.0M200.0,212.0L204.0,216.0M204.0,216.0L200.0,228.0M200.0,228.0L198.0,234.8M185.0,234.8L187.0,220.0M187.0,220.0L188.0,215.0" fill="none" stroke="#3a0c09" stroke-width="0.55" stroke-linecap="round"/>
<path d="M200.0,212.0 L208.0,211.0 L214.0,207.0 L216.0,212.0 L222.0,220.0 L228.0,228.0 L230.0,234.8 L198.0,234.8 L200.0,228.0 L204.0,216.0Z" fill="#8d2219" stroke="#8d2219" stroke-width="0.7"/>
<path d="M200.0,212.0L208.0,211.0M208.0,211.0L214.0,207.0M214.0,207.0L216.0,212.0M216.0,212.0L222.0,220.0M222.0,220.0L228.0,228.0M228.0,228.0L230.0,234.8M198.0,234.8L200.0,228.0M200.0,228.0L204.0,216.0M204.0,216.0L200.0,212.0" fill="none" stroke="#3a0c09" stroke-width="0.55" stroke-linecap="round"/>
<path d="M222.0,220.0 L232.0,221.0 L240.0,214.0 L249.0,215.0 L250.0,220.0 L255.0,230.0 L258.0,234.8 L230.0,234.8 L228.0,228.0Z" fill="#b62d21" stroke="#b62d21" stroke-width="0.7"/>
<path d="M222.0,220.0L232.0,221.0M232.0,221.0L240.0,214.0M240.0,214.0L249.0,215.0M249.0,215.0L250.0,220.0M250.0,220.0L255.0,230.0M255.0,230.0L258.0,234.8M230.0,234.8L228.0,228.0M228.0,228.0L222.0,220.0" fill="none" stroke="#3a0c09" stroke-width="0.55" stroke-linecap="round"/>
<path d="M166.0,140.0 L170.0,139.0 L171.0,152.0 L168.0,154.0Z" fill="#ffffff" stroke="#ffffff" stroke-width="0.7"/>
<path d="M166.0,140.0L170.0,139.0M170.0,139.0L171.0,152.0M171.0,152.0L168.0,154.0M168.0,154.0L166.0,140.0" fill="none" stroke="#3a0c09" stroke-width="0.55" stroke-linecap="round"/>
<path d="M101.0,211.0 L112.0,209.0 L116.0,217.0 L126.0,218.0 L131.0,222.0 L132.0,229.0 L122.0,232.0 L114.0,230.0 L105.0,228.0 L100.0,226.0 L93.0,232.0 L90.0,233.0 L90.0,230.0 L95.0,225.0 L100.0,220.0Z" fill="#f9d6d2" stroke="#f9d6d2" stroke-width="0.7"/>
<path d="M101.0,211.0L112.0,209.0M112.0,209.0L116.0,217.0M116.0,217.0L126.0,218.0M126.0,218.0L131.0,222.0M131.0,222.0L132.0,229.0M132.0,229.0L122.0,232.0M122.0,232.0L114.0,230.0M114.0,230.0L105.0,228.0M105.0,228.0L100.0,226.0M100.0,226.0L93.0,232.0M93.0,232.0L90.0,233.0M90.0,233.0L90.0,230.0M90.0,230.0L95.0,225.0M95.0,225.0L100.0,220.0M100.0,220.0L101.0,211.0" fill="none" stroke="#3a0c09" stroke-width="0.55" stroke-linecap="round"/>
<path d="M100.0,229.0 L112.0,231.0 L108.0,240.0 L106.0,248.0 L103.0,266.0 L100.0,275.0 L91.0,273.0 L90.0,262.0 L86.0,258.0 L93.0,250.0 L97.0,243.0 L99.0,235.0Z" fill="#9c271b" stroke="#9c271b" stroke-width="0.7"/>
<path d="M100.0,229.0L112.0,231.0M112.0,231.0L108.0,240.0M108.0,240.0L106.0,248.0M106.0,248.0L103.0,266.0M103.0,266.0L100.0,275.0M100.0,275.0L91.0,273.0M91.0,273.0L90.0,262.0M90.0,262.0L86.0,258.0M86.0,258.0L93.0,250.0M93.0,250.0L97.0,243.0M97.0,243.0L99.0,235.0M99.0,235.0L100.0,229.0" fill="none" stroke="#3a0c09" stroke-width="0.55" stroke-linecap="round"/>
<path d="M112.0,231.0 L122.0,232.0 L130.0,234.0 L126.0,246.0 L122.0,255.0 L114.0,262.0 L104.0,267.0 L103.0,266.0 L106.0,248.0 L108.0,240.0Z" fill="#f3a69e" stroke="#f3a69e" stroke-width="0.7"/>
<path d="M112.0,231.0L122.0,232.0M122.0,232.0L130.0,234.0M130.0,234.0L126.0,246.0M126.0,246.0L122.0,255.0M122.0,255.0L114.0,262.0M114.0,262.0L104.0,267.0M104.0,267.0L103.0,266.0M103.0,266.0L106.0,248.0M106.0,248.0L108.0,240.0M108.0,240.0L112.0,231.0" fill="none" stroke="#3a0c09" stroke-width="0.55" stroke-linecap="round"/>
<path d="M130.0,234.0 L132.0,229.0 L131.0,222.0 L136.0,224.0 L139.0,230.0 L140.0,238.0 L136.0,246.0 L130.0,251.0 L122.0,255.0 L126.0,246.0Z" fill="#f9d6d2" stroke="#f9d6d2" stroke-width="0.7"/>
<path d="M130.0,234.0L132.0,229.0M132.0,229.0L131.0,222.0M131.0,222.0L136.0,224.0M136.0,224.0L139.0,230.0M139.0,230.0L140.0,238.0M140.0,238.0L136.0,246.0M136.0,246.0L130.0,251.0M130.0,251.0L122.0,255.0M122.0,255.0L126.0,246.0M126.0,246.0L130.0,234.0" fill="none" stroke="#3a0c09" stroke-width="0.55" stroke-linecap="round"/>
<path d="M127.0,204.0 L140.0,207.0 L142.0,220.0 L136.0,224.0 L131.0,222.0 L126.0,218.0 L124.0,209.0Z" fill="#e7695d" stroke="#e7695d" stroke-width="0.7"/>
<path d="M127.0,204.0L140.0,207.0M140.0,207.0L142.0,220.0M142.0,220.0L136.0,224.0M136.0,224.0L131.0,222.0M131.0,222.0L126.0,218.0M126.0,218.0L124.0,209.0M124.0,209.0L127.0,204.0" fill="none" stroke="#3a0c09" stroke-width="0.55" stroke-linecap="round"/>
<path d="M140.0,207.0 L148.0,205.0 L158.0,209.0 L169.0,212.0 L166.0,220.0 L165.0,234.0 L168.0,237.0 L164.0,244.0 L158.0,249.0 L154.0,247.0 L152.0,236.0 L146.0,234.0 L140.0,238.0 L139.0,230.0 L136.0,224.0 L142.0,220.0Z" fill="#9c271b" stroke="#9c271b" stroke-width="0.7"/>
<path d="M140.0,207.0L148.0,205.0M148.0,205.0L158.0,209.0M158.0,209.0L169.0,212.0M169.0,212.0L166.0,220.0M166.0,220.0L165.0,234.0M165.0,234.0L168.0,237.0M168.0,237.0L164.0,244.0M164.0,244.0L158.0,249.0M158.0,249.0L154.0,247.0M154.0,247.0L152.0,236.0M152.0,236.0L146.0,234.0M146.0,234.0L140.0,238.0M140.0,238.0L139.0,230.0M139.0,230.0L136.0,224.0M136.0,224.0L142.0,220.0M142.0,220.0L140.0,207.0" fill="none" stroke="#3a0c09" stroke-width="0.55" stroke-linecap="round"/>
<path d="M188.0,215.0 L200.0,212.0 L204.0,216.0 L200.0,228.0 L198.0,235.0 L190.0,235.0 L185.0,230.0 L187.0,220.0Z" fill="#cb3226" stroke="#cb3226" stroke-width="0.7"/>
<path d="M188.0,215.0L200.0,212.0M200.0,212.0L204.0,216.0M204.0,216.0L200.0,228.0M200.0,228.0L198.0,235.0M198.0,235.0L190.0,235.0M190.0,235.0L185.0,230.0M185.0,230.0L187.0,220.0M187.0,220.0L188.0,215.0" fill="none" stroke="#3a0c09" stroke-width="0.55" stroke-linecap="round"/>
<path d="M200.0,212.0 L208.0,211.0 L214.0,207.0 L216.0,212.0 L222.0,220.0 L228.0,228.0 L231.0,232.0 L226.0,238.0 L222.0,246.0 L218.0,250.0 L212.0,251.0 L207.0,247.0 L198.0,245.0 L192.0,240.0 L190.0,235.0 L198.0,235.0 L200.0,228.0 L204.0,216.0Z" fill="#8d2219" stroke="#8d2219" stroke-width="0.7"/>
<path d="M200.0,212.0L208.0,211.0M208.0,211.0L214.0,207.0M214.0,207.0L216.0,212.0M216.0,212.0L222.0,220.0M222.0,220.0L228.0,228.0M228.0,228.0L231.0,232.0M231.0,232.0L226.0,238.0M226.0,238.0L222.0,246.0M222.0,246.0L218.0,250.0M218.0,250.0L212.0,251.0M212.0,251.0L207.0,247.0M207.0,247.0L198.0,245.0M198.0,245.0L192.0,240.0M192.0,240.0L190.0,235.0M190.0,235.0L198.0,235.0M198.0,235.0L200.0,228.0M200.0,228.0L204.0,216.0M204.0,216.0L200.0,212.0" fill="none" stroke="#3a0c09" stroke-width="0.55" stroke-linecap="round"/>
<path d="M222.0,220.0 L232.0,221.0 L240.0,214.0 L249.0,215.0 L250.0,220.0 L252.0,228.0 L240.0,232.0 L231.0,232.0 L228.0,228.0Z" fill="#b62d21" stroke="#b62d21" stroke-width="0.7"/>
<path d="M222.0,220.0L232.0,221.0M232.0,221.0L240.0,214.0M240.0,214.0L249.0,215.0M249.0,215.0L250.0,220.0M250.0,220.0L252.0,228.0M252.0,228.0L240.0,232.0M240.0,232.0L231.0,232.0M231.0,232.0L228.0,228.0M228.0,228.0L222.0,220.0" fill="none" stroke="#3a0c09" stroke-width="0.55" stroke-linecap="round"/>
<path d="M231.0,232.0 L240.0,232.0 L252.0,228.0 L255.0,238.0 L252.0,246.0 L258.0,254.0 L260.0,266.0 L266.0,278.0 L262.0,284.0 L260.0,294.0 L246.0,288.0 L232.0,284.0 L228.0,278.0 L220.0,272.0 L222.0,264.0 L226.0,254.0 L228.0,246.0 L222.0,246.0 L226.0,238.0Z" fill="#801f16" stroke="#801f16" stroke-width="0.7"/>
<path d="M231.0,232.0L240.0,232.0M240.0,232.0L252.0,228.0M252.0,228.0L255.0,238.0M255.0,238.0L252.0,246.0M252.0,246.0L258.0,254.0M258.0,254.0L260.0,266.0M260.0,266.0L266.0,278.0M266.0,278.0L262.0,284.0M262.0,284.0L260.0,294.0M260.0,294.0L246.0,288.0M246.0,288.0L232.0,284.0M232.0,284.0L228.0,278.0M228.0,278.0L220.0,272.0M220.0,272.0L222.0,264.0M222.0,264.0L226.0,254.0M226.0,254.0L228.0,246.0M228.0,246.0L222.0,246.0M222.0,246.0L226.0,238.0M226.0,238.0L231.0,232.0" fill="none" stroke="#3a0c09" stroke-width="0.55" stroke-linecap="round"/>
<path d="M212.0,251.0 L218.0,250.0 L222.0,246.0 L228.0,246.0 L226.0,254.0 L222.0,264.0 L220.0,272.0 L210.0,270.0 L204.0,268.0 L200.0,262.0 L204.0,257.0Z" fill="#57160f" stroke="#57160f" stroke-width="0.7"/>
<path d="M212.0,251.0L218.0,250.0M218.0,250.0L222.0,246.0M222.0,246.0L228.0,246.0M228.0,246.0L226.0,254.0M226.0,254.0L222.0,264.0M222.0,264.0L220.0,272.0M220.0,272.0L210.0,270.0M210.0,270.0L204.0,268.0M204.0,268.0L200.0,262.0M200.0,262.0L204.0,257.0M204.0,257.0L212.0,251.0" fill="none" stroke="#3a0c09" stroke-width="0.55" stroke-linecap="round"/>
<path d="M252.0,228.0 L255.0,238.0 L252.0,246.0 L258.0,254.0 L260.0,266.0 L266.0,278.0 L276.0,276.0 L288.0,275.0 L299.6,280.0 L299.6,278.0 L288.0,266.0 L276.0,254.0 L264.0,242.0 L255.0,230.0 L250.0,220.0Z" fill="#b62d21" stroke="#b62d21" stroke-width="0.7"/>
<path d="M252.0,228.0L255.0,238.0M255.0,238.0L252.0,246.0M252.0,246.0L258.0,254.0M258.0,254.0L260.0,266.0M260.0,266.0L266.0,278.0M266.0,278.0L276.0,276.0M276.0,276.0L288.0,275.0M288.0,275.0L299.6,280.0M299.6,278.0L288.0,266.0M288.0,266.0L276.0,254.0M276.0,254.0L264.0,242.0M264.0,242.0L255.0,230.0M255.0,230.0L250.0,220.0M250.0,220.0L252.0,228.0" fill="none" stroke="#3a0c09" stroke-width="0.55" stroke-linecap="round"/>
<path d="M255.0,240.0 L262.0,245.0 L272.0,254.0 L270.0,262.0 L262.0,266.0 L258.0,254.0 L252.0,246.0Z" fill="#b62d21" stroke="#b62d21" stroke-width="0.7"/>
<path d="M255.0,240.0L262.0,245.0M262.0,245.0L272.0,254.0M272.0,254.0L270.0,262.0M270.0,262.0L262.0,266.0M262.0,266.0L258.0,254.0M258.0,254.0L252.0,246.0M252.0,246.0L255.0,240.0" fill="none" stroke="#3a0c09" stroke-width="0.55" stroke-linecap="round"/>
<path d="M266.0,278.0 L276.0,276.0 L280.0,286.0 L282.0,296.0 L280.0,308.0 L282.0,314.0 L278.0,317.0 L272.0,308.0 L266.0,300.0 L260.0,294.0 L262.0,284.0Z" fill="#57160f" stroke="#57160f" stroke-width="0.7"/>
<path d="M266.0,278.0L276.0,276.0M276.0,276.0L280.0,286.0M280.0,286.0L282.0,296.0M282.0,296.0L280.0,308.0M280.0,308.0L282.0,314.0M282.0,314.0L278.0,317.0M278.0,317.0L272.0,308.0M272.0,308.0L266.0,300.0M266.0,300.0L260.0,294.0M260.0,294.0L262.0,284.0M262.0,284.0L266.0,278.0" fill="none" stroke="#3a0c09" stroke-width="0.55" stroke-linecap="round"/>
<path d="M276.0,276.0 L288.0,275.0 L299.6,280.0 L299.6,290.0 L290.0,296.0 L282.0,296.0 L280.0,286.0Z" fill="#9c271b" stroke="#9c271b" stroke-width="0.7"/>
<path d="M276.0,276.0L288.0,275.0M288.0,275.0L299.6,280.0M299.6,290.0L290.0,296.0M290.0,296.0L282.0,296.0M282.0,296.0L280.0,286.0M280.0,286.0L276.0,276.0" fill="none" stroke="#3a0c09" stroke-width="0.55" stroke-linecap="round"/>
<path d="M260.0,294.0 L266.0,300.0 L272.0,308.0 L264.0,312.0 L256.0,318.0 L250.0,324.0 L246.0,320.0 L252.0,312.0 L254.0,304.0Z" fill="#9c271b" stroke="#9c271b" stroke-width="0.7"/>
<path d="M260.0,294.0L266.0,300.0M266.0,300.0L272.0,308.0M272.0,308.0L264.0,312.0M264.0,312.0L256.0,318.0M256.0,318.0L250.0,324.0M250.0,324.0L246.0,320.0M246.0,320.0L252.0,312.0M252.0,312.0L254.0,304.0M254.0,304.0L260.0,294.0" fill="none" stroke="#3a0c09" stroke-width="0.55" stroke-linecap="round"/>
<path d="M272.0,308.0 L278.0,317.0 L282.0,314.0 L284.0,324.0 L290.0,334.8 L248.0,334.8 L250.0,324.0 L256.0,318.0 L264.0,312.0Z" fill="#f9d6d2" stroke="#f9d6d2" stroke-width="0.7"/>
<path d="M272.0,308.0L278.0,317.0M278.0,317.0L282.0,314.0M282.0,314.0L284.0,324.0M284.0,324.0L290.0,334.8M248.0,334.8L250.0,324.0M250.0,324.0L256.0,318.0M256.0,318.0L264.0,312.0M264.0,312.0L272.0,308.0" fill="none" stroke="#3a0c09" stroke-width="0.55" stroke-linecap="round"/>
<path d="M246.0,320.0 L250.0,324.0 L248.0,334.8 L241.0,334.8 L243.0,328.0Z" fill="#e7695d" stroke="#e7695d" stroke-width="0.7"/>
<path d="M246.0,320.0L250.0,324.0M250.0,324.0L248.0,334.8M241.0,334.8L243.0,328.0M243.0,328.0L246.0,320.0" fill="none" stroke="#3a0c09" stroke-width="0.55" stroke-linecap="round"/>
<path d="M186.0,260.0 L192.0,259.0 L198.0,264.0 L199.0,262.0 L202.0,268.0 L206.0,272.0 L204.0,278.0 L200.0,282.0 L197.0,278.0 L192.0,273.0 L188.0,268.0 L185.0,265.0Z" fill="#e7695d" stroke="#e7695d" stroke-width="0.7"/>
<path d="M186.0,260.0L192.0,259.0M192.0,259.0L198.0,264.0M198.0,264.0L199.0,262.0M199.0,262.0L202.0,268.0M202.0,268.0L206.0,272.0M206.0,272.0L204.0,278.0M204.0,278.0L200.0,282.0M200.0,282.0L197.0,278.0M197.0,278.0L192.0,273.0M192.0,273.0L188.0,268.0M188.0,268.0L185.0,265.0M185.0,265.0L186.0,260.0" fill="none" stroke="#3a0c09" stroke-width="0.55" stroke-linecap="round"/>
<path d="M206.0,272.0 L210.0,270.0 L220.0,268.0 L226.0,276.0 L230.0,284.0 L224.0,284.0 L218.0,282.0 L212.0,284.0 L206.0,282.0 L204.0,278.0Z" fill="#cb3226" stroke="#cb3226" stroke-width="0.7"/>
<path d="M206.0,272.0L210.0,270.0M210.0,270.0L220.0,268.0M220.0,268.0L226.0,276.0M226.0,276.0L230.0,284.0M230.0,284.0L224.0,284.0M224.0,284.0L218.0,282.0M218.0,282.0L212.0,284.0M212.0,284.0L206.0,282.0M206.0,282.0L204.0,278.0M204.0,278.0L206.0,272.0" fill="none" stroke="#3a0c09" stroke-width="0.55" stroke-linecap="round"/>
<path d="M190.0,279.0 L197.0,278.0 L200.0,282.0 L206.0,282.0 L208.0,288.0 L204.0,293.0 L198.0,294.0 L192.0,293.0 L189.0,288.0 L187.0,283.0Z" fill="#f9d6d2" stroke="#f9d6d2" stroke-width="0.7"/>
<path d="M190.0,279.0L197.0,278.0M197.0,278.0L200.0,282.0M200.0,282.0L206.0,282.0M206.0,282.0L208.0,288.0M208.0,288.0L204.0,293.0M204.0,293.0L198.0,294.0M198.0,294.0L192.0,293.0M192.0,293.0L189.0,288.0M189.0,288.0L187.0,283.0M187.0,283.0L190.0,279.0" fill="none" stroke="#3a0c09" stroke-width="0.55" stroke-linecap="round"/>
<path d="M206.0,282.0 L212.0,284.0 L218.0,282.0 L224.0,284.0 L222.0,288.0 L218.0,296.0 L215.0,302.0 L208.0,305.6 L205.0,300.0 L204.0,293.0 L208.0,288.0Z" fill="#e7695d" stroke="#e7695d" stroke-width="0.7"/>
<path d="M206.0,282.0L212.0,284.0M212.0,284.0L218.0,282.0M218.0,282.0L224.0,284.0M224.0,284.0L222.0,288.0M222.0,288.0L218.0,296.0M218.0,296.0L215.0,302.0M215.0,302.0L208.0,305.6M208.0,305.6L205.0,300.0M205.0,300.0L204.0,293.0M204.0,293.0L208.0,288.0M208.0,288.0L206.0,282.0" fill="none" stroke="#3a0c09" stroke-width="0.55" stroke-linecap="round"/>
<path d="M226.0,234.0 L240.0,230.0 L252.0,230.0 L256.0,240.0 L252.0,244.0 L258.0,250.0 L254.0,260.0 L260.0,268.0 L260.0,276.0 L266.0,280.0 L260.0,290.0 L260.0,296.0 L252.0,294.0 L240.0,290.0 L230.0,284.0 L226.0,276.0 L220.0,268.0 L222.0,258.0 L228.0,252.0 L226.0,242.0Z" fill="#801f16" stroke="#801f16" stroke-width="0.7"/>
<path d="M226.0,234.0L240.0,230.0M252.0,230.0L256.0,240.0M256.0,240.0L252.0,244.0M252.0,244.0L258.0,250.0M258.0,250.0L254.0,260.0M254.0,260.0L260.0,268.0M260.0,268.0L260.0,276.0M260.0,276.0L266.0,280.0M266.0,280.0L260.0,290.0M260.0,290.0L260.0,296.0M260.0,296.0L252.0,294.0M252.0,294.0L240.0,290.0M240.0,290.0L230.0,284.0M230.0,284.0L226.0,276.0M226.0,276.0L220.0,268.0M220.0,268.0L222.0,258.0M222.0,258.0L228.0,252.0M228.0,252.0L226.0,242.0M226.0,242.0L226.0,234.0" fill="none" stroke="#3a0c09" stroke-width="0.55" stroke-linecap="round"/>
<path d="M220.0,242.0 L226.0,242.0 L228.0,252.0 L222.0,258.0 L220.0,268.0 L210.0,270.0 L202.0,268.0 L199.0,262.0 L206.0,255.0 L217.0,252.0Z" fill="#57160f" stroke="#57160f" stroke-width="0.7"/>
<path d="M220.0,242.0L226.0,242.0M226.0,242.0L228.0,252.0M228.0,252.0L222.0,258.0M222.0,258.0L220.0,268.0M220.0,268.0L210.0,270.0M210.0,270.0L202.0,268.0M202.0,268.0L199.0,262.0M199.0,262.0L206.0,255.0M206.0,255.0L217.0,252.0M217.0,252.0L220.0,242.0" fill="none" stroke="#3a0c09" stroke-width="0.55" stroke-linecap="round"/>
<path d="M190.0,234.0 L200.0,230.0 L226.0,230.0 L226.0,234.0 L226.0,242.0 L220.0,242.0 L217.0,252.0 L206.0,255.0 L202.0,248.0 L194.0,244.0Z" fill="#9c271b" stroke="#9c271b" stroke-width="0.7"/>
<path d="M190.0,234.0L200.0,230.0M226.0,230.0L226.0,234.0M226.0,234.0L226.0,242.0M226.0,242.0L220.0,242.0M220.0,242.0L217.0,252.0M217.0,252.0L206.0,255.0M206.0,255.0L202.0,248.0M202.0,248.0L194.0,244.0M194.0,244.0L190.0,234.0" fill="none" stroke="#3a0c09" stroke-width="0.55" stroke-linecap="round"/>
<path d="M252.0,230.0 L260.0,240.0 L272.0,250.0 L284.0,264.0 L296.0,276.0 L300.0,285.0 L290.0,294.0 L284.0,296.0 L278.0,290.0 L276.0,280.0 L266.0,280.0 L260.0,276.0 L260.0,268.0 L254.0,260.0 L258.0,250.0 L252.0,244.0 L256.0,240.0Z" fill="#b62d21" stroke="#b62d21" stroke-width="0.7"/>
<path d="M252.0,230.0L260.0,240.0M260.0,240.0L272.0,250.0M272.0,250.0L284.0,264.0M284.0,264.0L296.0,276.0M296.0,276.0L300.0,285.0M300.0,285.0L290.0,294.0M290.0,294.0L284.0,296.0M284.0,296.0L278.0,290.0M278.0,290.0L276.0,280.0M276.0,280.0L266.0,280.0M266.0,280.0L260.0,276.0M260.0,276.0L260.0,268.0M260.0,268.0L254.0,260.0M254.0,260.0L258.0,250.0M258.0,250.0L252.0,244.0M252.0,244.0L256.0,240.0M256.0,240.0L252.0,230.0" fill="none" stroke="#3a0c09" stroke-width="0.55" stroke-linecap="round"/>
<path d="M258.0,250.0 L268.0,249.0 L273.0,256.0 L270.0,263.0 L262.0,266.0 L255.0,260.0Z" fill="#b62d21" stroke="#b62d21" stroke-width="0.7"/>
<path d="M258.0,250.0L268.0,249.0M268.0,249.0L273.0,256.0M273.0,256.0L270.0,263.0M270.0,263.0L262.0,266.0M262.0,266.0L255.0,260.0M255.0,260.0L258.0,250.0" fill="none" stroke="#3a0c09" stroke-width="0.55" stroke-linecap="round"/>
<path d="M266.0,280.0 L276.0,280.0 L278.0,290.0 L282.0,298.0 L280.0,306.0 L282.0,316.0 L276.0,318.0 L272.0,310.0 L266.0,306.0 L262.0,298.0 L260.0,290.0Z" fill="#57160f" stroke="#57160f" stroke-width="0.7"/>
<path d="M266.0,280.0L276.0,280.0M276.0,280.0L278.0,290.0M278.0,290.0L282.0,298.0M282.0,298.0L280.0,306.0M280.0,306.0L282.0,316.0M282.0,316.0L276.0,318.0M276.0,318.0L272.0,310.0M272.0,310.0L266.0,306.0M266.0,306.0L262.0,298.0M262.0,298.0L260.0,290.0M260.0,290.0L266.0,280.0" fill="none" stroke="#3a0c09" stroke-width="0.55" stroke-linecap="round"/>
<path d="M300.0,285.0 L308.0,286.0 L315.0,296.0 L314.0,304.0 L306.0,311.0 L298.0,310.0 L293.0,304.0 L289.0,299.0 L291.0,293.0Z" fill="#e7695d" stroke="#e7695d" stroke-width="0.7"/>
<path d="M300.0,285.0L308.0,286.0M308.0,286.0L315.0,296.0M315.0,296.0L314.0,304.0M314.0,304.0L306.0,311.0M306.0,311.0L298.0,310.0M298.0,310.0L293.0,304.0M293.0,304.0L289.0,299.0M289.0,299.0L291.0,293.0M291.0,293.0L300.0,285.0" fill="none" stroke="#3a0c09" stroke-width="0.55" stroke-linecap="round"/>
<path d="M308.0,286.0 L318.0,296.0 L328.0,308.0 L336.0,320.0 L335.0,328.0 L330.0,332.0 L324.0,326.0 L320.0,314.0 L312.0,316.0 L306.0,311.0 L314.0,304.0 L315.0,296.0Z" fill="#9c271b" stroke="#9c271b" stroke-width="0.7"/>
<path d="M308.0,286.0L318.0,296.0M318.0,296.0L328.0,308.0M328.0,308.0L336.0,320.0M336.0,320.0L335.0,328.0M335.0,328.0L330.0,332.0M330.0,332.0L324.0,326.0M324.0,326.0L320.0,314.0M320.0,314.0L312.0,316.0M312.0,316.0L306.0,311.0M306.0,311.0L314.0,304.0M314.0,304.0L315.0,296.0M315.0,296.0L308.0,286.0" fill="none" stroke="#3a0c09" stroke-width="0.55" stroke-linecap="round"/>
<path d="M284.0,296.0 L289.0,299.0 L293.0,304.0 L298.0,310.0 L306.0,311.0 L305.0,318.0 L304.0,326.0 L300.0,334.0 L296.0,342.0 L292.0,338.0 L288.0,326.0 L284.0,318.0 L282.0,316.0 L280.0,306.0 L282.0,298.0Z" fill="#9c271b" stroke="#9c271b" stroke-width="0.7"/>
<path d="M284.0,296.0L289.0,299.0M289.0,299.0L293.0,304.0M293.0,304.0L298.0,310.0M298.0,310.0L306.0,311.0M306.0,311.0L305.0,318.0M305.0,318.0L304.0,326.0M304.0,326.0L300.0,334.0M300.0,334.0L296.0,342.0M296.0,342.0L292.0,338.0M292.0,338.0L288.0,326.0M288.0,326.0L284.0,318.0M284.0,318.0L282.0,316.0M282.0,316.0L280.0,306.0M280.0,306.0L282.0,298.0M282.0,298.0L284.0,296.0" fill="none" stroke="#3a0c09" stroke-width="0.55" stroke-linecap="round"/>
<path d="M306.0,311.0 L312.0,316.0 L320.0,314.0 L322.0,320.0 L318.0,328.0 L310.0,326.0 L305.0,322.0Z" fill="#e7695d" stroke="#e7695d" stroke-width="0.7"/>
<path d="M306.0,311.0L312.0,316.0M312.0,316.0L320.0,314.0M320.0,314.0L322.0,320.0M322.0,320.0L318.0,328.0M318.0,328.0L310.0,326.0M310.0,326.0L305.0,322.0M305.0,322.0L306.0,311.0" fill="none" stroke="#3a0c09" stroke-width="0.55" stroke-linecap="round"/>
<path d="M304.0,326.0 L310.0,326.0 L313.0,330.0 L310.0,339.0 L302.0,339.0 L300.0,334.0Z" fill="#e7695d" stroke="#e7695d" stroke-width="0.7"/>
<path d="M304.0,326.0L310.0,326.0M310.0,326.0L313.0,330.0M313.0,330.0L310.0,339.0M310.0,339.0L302.0,339.0M302.0,339.0L300.0,334.0M300.0,334.0L304.0,326.0" fill="none" stroke="#3a0c09" stroke-width="0.55" stroke-linecap="round"/>
<path d="M318.0,328.0 L324.0,326.0 L330.0,332.0 L328.0,338.0 L320.0,342.0 L313.0,340.0 L310.0,339.0 L313.0,330.0Z" fill="#cb3226" stroke="#cb3226" stroke-width="0.7"/>
<path d="M318.0,328.0L324.0,326.0M324.0,326.0L330.0,332.0M330.0,332.0L328.0,338.0M328.0,338.0L320.0,342.0M320.0,342.0L313.0,340.0M313.0,340.0L310.0,339.0M310.0,339.0L313.0,330.0M313.0,330.0L318.0,328.0" fill="none" stroke="#3a0c09" stroke-width="0.55" stroke-linecap="round"/>
<path d="M335.0,328.0 L344.0,330.0 L350.0,342.0 L349.0,348.0 L342.0,350.0 L336.0,358.0 L328.0,362.0 L326.0,364.8 L308.0,364.8 L312.0,354.0 L318.0,348.0 L320.0,342.0 L328.0,338.0 L330.0,332.0Z" fill="#e7695d" stroke="#e7695d" stroke-width="0.7"/>
<path d="M335.0,328.0L344.0,330.0M344.0,330.0L350.0,342.0M350.0,342.0L349.0,348.0M349.0,348.0L342.0,350.0M342.0,350.0L336.0,358.0M336.0,358.0L328.0,362.0M328.0,362.0L326.0,364.8M308.0,364.8L312.0,354.0M312.0,354.0L318.0,348.0M318.0,348.0L320.0,342.0M320.0,342.0L328.0,338.0M328.0,338.0L330.0,332.0M330.0,332.0L335.0,328.0" fill="none" stroke="#3a0c09" stroke-width="0.55" stroke-linecap="round"/>
<path d="M342.0,350.0 L349.0,348.0 L354.0,354.0 L356.0,364.8 L326.0,364.8 L328.0,362.0 L336.0,358.0Z" fill="#9c271b" stroke="#9c271b" stroke-width="0.7"/>
<path d="M342.0,350.0L349.0,348.0M349.0,348.0L354.0,354.0M354.0,354.0L356.0,364.8M326.0,364.8L328.0,362.0M328.0,362.0L336.0,358.0M336.0,358.0L342.0,350.0" fill="none" stroke="#3a0c09" stroke-width="0.55" stroke-linecap="round"/>
<path d="M266.0,308.0 L272.0,310.0 L276.0,318.0 L282.0,316.0 L284.0,322.0 L283.0,328.0 L274.0,330.0 L266.0,334.0 L260.0,340.0 L256.0,344.0 L250.0,342.0 L249.0,334.0 L251.0,326.0 L256.0,318.0 L260.0,312.0Z" fill="#f9d6d2" stroke="#f9d6d2" stroke-width="0.7"/>
<path d="M266.0,308.0L272.0,310.0M272.0,310.0L276.0,318.0M276.0,318.0L282.0,316.0M282.0,316.0L284.0,322.0M284.0,322.0L283.0,328.0M283.0,328.0L274.0,330.0M274.0,330.0L266.0,334.0M266.0,334.0L260.0,340.0M260.0,340.0L256.0,344.0M256.0,344.0L250.0,342.0M250.0,342.0L249.0,334.0M249.0,334.0L251.0,326.0M251.0,326.0L256.0,318.0M256.0,318.0L260.0,312.0M260.0,312.0L266.0,308.0" fill="none" stroke="#3a0c09" stroke-width="0.55" stroke-linecap="round"/>
<path d="M260.0,296.0 L266.0,306.0 L260.0,312.0 L256.0,318.0 L251.0,326.0 L248.0,326.0 L246.0,322.0 L250.0,314.0 L256.0,306.0Z" fill="#9c271b" stroke="#9c271b" stroke-width="0.7"/>
<path d="M260.0,296.0L266.0,306.0M266.0,306.0L260.0,312.0M260.0,312.0L256.0,318.0M256.0,318.0L251.0,326.0M251.0,326.0L248.0,326.0M248.0,326.0L246.0,322.0M246.0,322.0L250.0,314.0M250.0,314.0L256.0,306.0M256.0,306.0L260.0,296.0" fill="none" stroke="#3a0c09" stroke-width="0.55" stroke-linecap="round"/>
<path d="M248.0,326.0 L251.0,326.0 L249.0,334.0 L250.0,342.0 L246.0,348.0 L244.0,358.0 L240.0,354.0 L240.0,342.0 L244.0,332.0Z" fill="#e7695d" stroke="#e7695d" stroke-width="0.7"/>
<path d="M248.0,326.0L251.0,326.0M251.0,326.0L249.0,334.0M249.0,334.0L250.0,342.0M250.0,342.0L246.0,348.0M246.0,348.0L244.0,358.0M244.0,358.0L240.0,354.0M240.0,354.0L240.0,342.0M240.0,342.0L244.0,332.0M244.0,332.0L248.0,326.0" fill="none" stroke="#3a0c09" stroke-width="0.55" stroke-linecap="round"/>
<path d="M274.0,330.0 L283.0,328.0 L284.0,334.0 L280.0,341.0 L272.0,344.0 L266.0,346.0 L260.0,345.0 L260.0,340.0 L266.0,334.0Z" fill="#9c271b" stroke="#9c271b" stroke-width="0.7"/>
<path d="M274.0,330.0L283.0,328.0M283.0,328.0L284.0,334.0M284.0,334.0L280.0,341.0M280.0,341.0L272.0,344.0M272.0,344.0L266.0,346.0M266.0,346.0L260.0,345.0M260.0,345.0L260.0,340.0M260.0,340.0L266.0,334.0M266.0,334.0L274.0,330.0" fill="none" stroke="#3a0c09" stroke-width="0.55" stroke-linecap="round"/>
<path d="M284.0,322.0 L288.0,326.0 L292.0,338.0 L289.0,344.0 L283.0,343.0 L280.0,341.0 L284.0,334.0Z" fill="#f9d6d2" stroke="#f9d6d2" stroke-width="0.7"/>
<path d="M284.0,322.0L288.0,326.0M288.0,326.0L292.0,338.0M292.0,338.0L289.0,344.0M289.0,344.0L283.0,343.0M283.0,343.0L280.0,341.0M280.0,341.0L284.0,334.0M284.0,334.0L284.0,322.0" fill="none" stroke="#3a0c09" stroke-width="0.55" stroke-linecap="round"/>
<path d="M240.0,330.0 L344.0,330.0 L330.0,338.0 L320.0,342.0 L314.0,350.0 L310.0,358.0 L311.0,366.0 L302.0,366.0 L294.0,365.0 L285.0,367.0 L268.0,370.0 L260.0,363.0 L246.0,362.0 L234.0,360.0 L240.0,352.0 L242.0,342.0Z" fill="#e7695d" stroke="#e7695d" stroke-width="0.7"/>
<path d="M344.0,330.0L330.0,338.0M330.0,338.0L320.0,342.0M320.0,342.0L314.0,350.0M314.0,350.0L310.0,358.0M310.0,358.0L311.0,366.0M311.0,366.0L302.0,366.0M302.0,366.0L294.0,365.0M294.0,365.0L285.0,367.0M285.0,367.0L268.0,370.0M268.0,370.0L260.0,363.0M260.0,363.0L246.0,362.0M246.0,362.0L234.0,360.0M234.0,360.0L240.0,352.0M240.0,352.0L242.0,342.0M242.0,342.0L240.0,330.0" fill="none" stroke="#3a0c09" stroke-width="0.55" stroke-linecap="round"/>
<path d="M250.0,330.0 L266.0,330.0 L264.0,338.0 L254.0,343.0 L249.0,340.0Z" fill="#f9d6d2" stroke="#f9d6d2" stroke-width="0.7"/>
<path d="M266.0,330.0L264.0,338.0M264.0,338.0L254.0,343.0M254.0,343.0L249.0,340.0M249.0,340.0L250.0,330.0" fill="none" stroke="#3a0c09" stroke-width="0.55" stroke-linecap="round"/>
<path d="M266.0,330.0 L280.0,330.0 L284.0,336.0 L280.0,342.0 L270.0,344.0 L260.0,347.0 L258.0,342.0 L264.0,338.0Z" fill="#9c271b" stroke="#9c271b" stroke-width="0.7"/>
<path d="M280.0,330.0L284.0,336.0M284.0,336.0L280.0,342.0M280.0,342.0L270.0,344.0M270.0,344.0L260.0,347.0M260.0,347.0L258.0,342.0M258.0,342.0L264.0,338.0M264.0,338.0L266.0,330.0" fill="none" stroke="#3a0c09" stroke-width="0.55" stroke-linecap="round"/>
<path d="M260.0,347.0 L270.0,344.0 L280.0,342.0 L288.0,344.0 L296.0,348.0 L294.0,356.0 L286.0,360.0 L276.0,359.0 L266.0,358.0 L258.0,356.0Z" fill="#f9d6d2" stroke="#f9d6d2" stroke-width="0.7"/>
<path d="M260.0,347.0L270.0,344.0M270.0,344.0L280.0,342.0M280.0,342.0L288.0,344.0M288.0,344.0L296.0,348.0M296.0,348.0L294.0,356.0M294.0,356.0L286.0,360.0M286.0,360.0L276.0,359.0M276.0,359.0L266.0,358.0M266.0,358.0L258.0,356.0M258.0,356.0L260.0,347.0" fill="none" stroke="#3a0c09" stroke-width="0.55" stroke-linecap="round"/>
<path d="M288.0,352.0 L296.0,348.0 L303.0,352.0 L306.0,360.0 L302.0,366.0 L294.0,365.0 L286.0,360.0Z" fill="#cb3226" stroke="#cb3226" stroke-width="0.7"/>
<path d="M288.0,352.0L296.0,348.0M296.0,348.0L303.0,352.0M303.0,352.0L306.0,360.0M306.0,360.0L302.0,366.0M302.0,366.0L294.0,365.0M294.0,365.0L286.0,360.0M286.0,360.0L288.0,352.0" fill="none" stroke="#3a0c09" stroke-width="0.55" stroke-linecap="round"/>
<path d="M283.0,330.0 L291.0,330.0 L292.0,340.0 L288.0,344.0 L284.0,336.0Z" fill="#f9d6d2" stroke="#f9d6d2" stroke-width="0.7"/>
<path d="M291.0,330.0L292.0,340.0M292.0,340.0L288.0,344.0M288.0,344.0L284.0,336.0M284.0,336.0L283.0,330.0" fill="none" stroke="#3a0c09" stroke-width="0.55" stroke-linecap="round"/>
<path d="M312.0,330.0 L332.0,330.0 L330.0,338.0 L320.0,342.0 L314.0,338.0Z" fill="#cb3226" stroke="#cb3226" stroke-width="0.7"/>
<path d="M332.0,330.0L330.0,338.0M330.0,338.0L320.0,342.0M320.0,342.0L314.0,338.0M314.0,338.0L312.0,330.0" fill="none" stroke="#3a0c09" stroke-width="0.55" stroke-linecap="round"/>
<path d="M247.0,344.0 L258.0,342.0 L260.0,347.0 L258.0,356.0 L250.0,355.0 L246.0,350.0Z" fill="#9c271b" stroke="#9c271b" stroke-width="0.7"/>
<path d="M247.0,344.0L258.0,342.0M258.0,342.0L260.0,347.0M260.0,347.0L258.0,356.0M258.0,356.0L250.0,355.0M250.0,355.0L246.0,350.0M246.0,350.0L247.0,344.0" fill="none" stroke="#3a0c09" stroke-width="0.55" stroke-linecap="round"/>
<path d="M303.0,352.0 L308.0,347.0 L314.0,350.0 L310.0,358.0 L306.0,360.0Z" fill="#f3a69e" stroke="#f3a69e" stroke-width="0.7"/>
<path d="M303.0,352.0L308.0,347.0M308.0,347.0L314.0,350.0M314.0,350.0L310.0,358.0M310.0,358.0L306.0,360.0M306.0,360.0L303.0,352.0" fill="none" stroke="#3a0c09" stroke-width="0.55" stroke-linecap="round"/>
<path d="M266.0,358.0 L276.0,359.0 L280.0,364.0 L276.0,370.0 L268.0,370.0 L264.0,364.0Z" fill="#cb3226" stroke="#cb3226" stroke-width="0.7"/>
<path d="M266.0,358.0L276.0,359.0M276.0,359.0L280.0,364.0M280.0,364.0L276.0,370.0M276.0,370.0L268.0,370.0M268.0,370.0L264.0,364.0M264.0,364.0L266.0,358.0" fill="none" stroke="#3a0c09" stroke-width="0.55" stroke-linecap="round"/>
<path d="M234.0,360.0 L246.0,362.0 L260.0,363.0 L268.0,370.0 L266.0,377.0 L260.0,380.0 L250.0,382.0 L248.0,388.0 L252.0,392.0 L238.0,394.0 L234.0,390.0 L238.0,388.0 L236.0,380.0 L230.0,376.0 L228.0,365.0Z" fill="#801f16" stroke="#801f16" stroke-width="0.7"/>
<path d="M234.0,360.0L246.0,362.0M246.0,362.0L260.0,363.0M260.0,363.0L268.0,370.0M268.0,370.0L266.0,377.0M266.0,377.0L260.0,380.0M260.0,380.0L250.0,382.0M250.0,382.0L248.0,388.0M248.0,388.0L252.0,392.0M252.0,392.0L238.0,394.0M238.0,394.0L234.0,390.0M234.0,390.0L238.0,388.0M238.0,388.0L236.0,380.0M236.0,380.0L230.0,376.0M230.0,376.0L228.0,365.0M228.0,365.0L234.0,360.0" fill="none" stroke="#3a0c09" stroke-width="0.55" stroke-linecap="round"/>
<path d="M250.0,382.0 L260.0,380.0 L262.0,384.0 L260.0,390.0 L264.0,398.0 L258.0,400.0 L252.0,392.0 L248.0,388.0Z" fill="#cb3226" stroke="#cb3226" stroke-width="0.7"/>
<path d="M250.0,382.0L260.0,380.0M260.0,380.0L262.0,384.0M262.0,384.0L260.0,390.0M260.0,390.0L264.0,398.0M264.0,398.0L258.0,400.0M258.0,400.0L252.0,392.0M252.0,392.0L248.0,388.0M248.0,388.0L250.0,382.0" fill="none" stroke="#3a0c09" stroke-width="0.55" stroke-linecap="round"/>
<path d="M262.0,384.0 L266.0,388.0 L274.0,390.0 L278.0,396.0 L276.0,401.0 L266.0,402.0 L264.0,398.0 L260.0,390.0Z" fill="#f9d6d2" stroke="#f9d6d2" stroke-width="0.7"/>
<path d="M262.0,384.0L266.0,388.0M266.0,388.0L274.0,390.0M274.0,390.0L278.0,396.0M278.0,396.0L276.0,401.0M276.0,401.0L266.0,402.0M266.0,402.0L264.0,398.0M264.0,398.0L260.0,390.0M260.0,390.0L262.0,384.0" fill="none" stroke="#3a0c09" stroke-width="0.55" stroke-linecap="round"/>
<path d="M266.0,377.0 L276.0,376.0 L290.0,378.0 L298.0,376.4 L304.0,382.0 L302.0,388.0 L292.0,390.0 L280.0,389.0 L274.0,390.0 L266.0,388.0 L262.0,384.0 L260.0,380.0Z" fill="#9c271b" stroke="#9c271b" stroke-width="0.7"/>
<path d="M266.0,377.0L276.0,376.0M276.0,376.0L290.0,378.0M290.0,378.0L298.0,376.4M298.0,376.4L304.0,382.0M304.0,382.0L302.0,388.0M302.0,388.0L292.0,390.0M292.0,390.0L280.0,389.0M280.0,389.0L274.0,390.0M274.0,390.0L266.0,388.0M266.0,388.0L262.0,384.0M262.0,384.0L260.0,380.0M260.0,380.0L266.0,377.0" fill="none" stroke="#3a0c09" stroke-width="0.55" stroke-linecap="round"/>
<path d="M268.0,370.0 L285.0,367.0 L285.0,373.0 L290.0,377.6 L276.0,376.0 L266.0,377.0Z" fill="#cb3226" stroke="#cb3226" stroke-width="0.7"/>
<path d="M268.0,370.0L285.0,367.0M285.0,367.0L285.0,373.0M285.0,373.0L290.0,377.6M290.0,377.6L276.0,376.0M276.0,376.0L266.0,377.0M266.0,377.0L268.0,370.0" fill="none" stroke="#3a0c09" stroke-width="0.55" stroke-linecap="round"/>
<path d="M311.0,366.0 L320.0,366.0 L328.0,362.0 L336.0,354.0 L344.0,348.0 L350.0,349.0 L354.0,354.0 L358.0,366.0 L360.6,375.2 L345.4,362.8 L330.4,365.2 L318.0,370.0 L307.8,372.8Z" fill="#9c271b" stroke="#9c271b" stroke-width="0.7"/>
<path d="M311.0,366.0L320.0,366.0M320.0,366.0L328.0,362.0M328.0,362.0L336.0,354.0M336.0,354.0L344.0,348.0M344.0,348.0L350.0,349.0M350.0,349.0L354.0,354.0M354.0,354.0L358.0,366.0M358.0,366.0L360.6,375.2M360.6,375.2L345.4,362.8M345.4,362.8L330.4,365.2M330.4,365.2L318.0,370.0M318.0,370.0L307.8,372.8M307.8,372.8L311.0,366.0" fill="none" stroke="#3a0c09" stroke-width="0.55" stroke-linecap="round"/>
<path d="M303.0,371.0 L307.8,372.8 L318.0,370.0 L330.4,365.2 L345.4,362.8 L360.6,375.2 L363.0,378.0 L364.0,388.0 L368.0,398.0 L340.0,396.0 L312.0,390.0 L304.0,390.0 L304.0,382.0 L298.0,376.4Z" fill="#8d2219" stroke="#8d2219" stroke-width="0.7"/>
<path d="M303.0,371.0L307.8,372.8M307.8,372.8L318.0,370.0M318.0,370.0L330.4,365.2M330.4,365.2L345.4,362.8M345.4,362.8L360.6,375.2M360.6,375.2L363.0,378.0M363.0,378.0L364.0,388.0M364.0,388.0L368.0,398.0M368.0,398.0L340.0,396.0M340.0,396.0L312.0,390.0M312.0,390.0L304.0,390.0M304.0,390.0L304.0,382.0M304.0,382.0L298.0,376.4M298.0,376.4L303.0,371.0" fill="none" stroke="#3a0c09" stroke-width="0.55" stroke-linecap="round"/>
<path d="M320.0,342.0 L330.0,338.0 L344.0,330.0 L350.0,342.0 L350.0,349.0 L344.0,348.0 L336.0,354.0 L328.0,362.0 L320.0,366.0 L318.0,370.0 L311.0,366.0 L310.0,358.0 L314.0,350.0Z" fill="#e7695d" stroke="#e7695d" stroke-width="0.7"/>
<path d="M320.0,342.0L330.0,338.0M330.0,338.0L344.0,330.0M344.0,330.0L350.0,342.0M350.0,342.0L350.0,349.0M350.0,349.0L344.0,348.0M344.0,348.0L336.0,354.0M336.0,354.0L328.0,362.0M328.0,362.0L320.0,366.0M320.0,366.0L318.0,370.0M318.0,370.0L311.0,366.0M311.0,366.0L310.0,358.0M310.0,358.0L314.0,350.0M314.0,350.0L320.0,342.0" fill="none" stroke="#3a0c09" stroke-width="0.55" stroke-linecap="round"/>
<path d="M312.0,390.0 L324.0,394.0 L336.0,392.0 L340.0,386.0 L348.0,382.0 L363.0,378.0 L364.0,388.0 L368.0,398.0 L374.0,404.0 L363.0,407.0 L366.0,416.0 L356.0,414.0 L344.0,416.0 L336.0,414.0 L324.0,410.0 L312.0,412.0 L308.0,408.0 L320.0,400.0 L328.0,396.0Z" fill="#801f16" stroke="#801f16" stroke-width="0.7"/>
<path d="M312.0,390.0L324.0,394.0M324.0,394.0L336.0,392.0M336.0,392.0L340.0,386.0M340.0,386.0L348.0,382.0M348.0,382.0L363.0,378.0M363.0,378.0L364.0,388.0M364.0,388.0L368.0,398.0M368.0,398.0L374.0,404.0M374.0,404.0L363.0,407.0M363.0,407.0L366.0,416.0M366.0,416.0L356.0,414.0M356.0,414.0L344.0,416.0M344.0,416.0L336.0,414.0M336.0,414.0L324.0,410.0M324.0,410.0L312.0,412.0M312.0,412.0L308.0,408.0M308.0,408.0L320.0,400.0M320.0,400.0L328.0,396.0M328.0,396.0L312.0,390.0" fill="none" stroke="#3a0c09" stroke-width="0.55" stroke-linecap="round"/>
<path d="M352.0,390.0 L363.0,384.0 L364.0,388.0 L368.0,398.0 L374.0,404.0 L363.0,407.0 L358.0,400.0Z" fill="#57160f" stroke="#57160f" stroke-width="0.7"/>
<path d="M352.0,390.0L363.0,384.0M363.0,384.0L364.0,388.0M364.0,388.0L368.0,398.0M368.0,398.0L374.0,404.0M374.0,404.0L363.0,407.0M363.0,407.0L358.0,400.0M358.0,400.0L352.0,390.0" fill="none" stroke="#3a0c09" stroke-width="0.55" stroke-linecap="round"/>
<path d="M292.0,390.0 L302.0,388.0 L304.0,390.0 L308.0,396.0 L300.0,402.0 L288.0,408.0 L282.0,410.0 L284.0,407.0 L280.0,403.0 L286.0,398.0Z" fill="#e7695d" stroke="#e7695d" stroke-width="0.7"/>
<path d="M292.0,390.0L302.0,388.0M302.0,388.0L304.0,390.0M304.0,390.0L308.0,396.0M308.0,396.0L300.0,402.0M300.0,402.0L288.0,408.0M288.0,408.0L282.0,410.0M282.0,410.0L284.0,407.0M284.0,407.0L280.0,403.0M280.0,403.0L286.0,398.0M286.0,398.0L292.0,390.0" fill="none" stroke="#3a0c09" stroke-width="0.55" stroke-linecap="round"/>
<path d="M304.0,390.0 L312.0,390.0 L328.0,396.0 L320.0,400.0 L314.0,404.0 L308.0,396.0Z" fill="#f9d6d2" stroke="#f9d6d2" stroke-width="0.7"/>
<path d="M304.0,390.0L312.0,390.0M312.0,390.0L328.0,396.0M328.0,396.0L320.0,400.0M320.0,400.0L314.0,404.0M314.0,404.0L308.0,396.0M308.0,396.0L304.0,390.0" fill="none" stroke="#3a0c09" stroke-width="0.55" stroke-linecap="round"/>
<path d="M288.0,408.0 L300.0,402.0 L308.0,404.0 L312.0,412.0 L318.0,415.0 L312.0,419.0 L300.0,419.0 L290.0,416.0Z" fill="#f9d6d2" stroke="#f9d6d2" stroke-width="0.7"/>
<path d="M288.0,408.0L300.0,402.0M300.0,402.0L308.0,404.0M308.0,404.0L312.0,412.0M312.0,412.0L318.0,415.0M318.0,415.0L312.0,419.0M312.0,419.0L300.0,419.0M300.0,419.0L290.0,416.0M290.0,416.0L288.0,408.0" fill="none" stroke="#3a0c09" stroke-width="0.55" stroke-linecap="round"/>
<path d="M312.0,419.0 L318.0,415.0 L324.0,410.0 L336.0,414.0 L340.0,420.0 L336.0,424.0 L332.0,428.0 L320.0,428.0 L304.0,426.0 L296.0,423.0 L300.0,419.0Z" fill="#e7695d" stroke="#e7695d" stroke-width="0.7"/>
<path d="M312.0,419.0L318.0,415.0M318.0,415.0L324.0,410.0M324.0,410.0L336.0,414.0M336.0,414.0L340.0,420.0M340.0,420.0L336.0,424.0M336.0,424.0L332.0,428.0M332.0,428.0L320.0,428.0M320.0,428.0L304.0,426.0M304.0,426.0L296.0,423.0M296.0,423.0L300.0,419.0M300.0,419.0L312.0,419.0" fill="none" stroke="#3a0c09" stroke-width="0.55" stroke-linecap="round"/>
<path d="M296.0,423.0 L304.0,426.0 L320.0,428.0 L332.0,428.0 L336.0,432.0 L328.0,434.0 L316.0,437.0 L306.0,439.0 L298.0,439.0 L296.0,430.0Z" fill="#f9d6d2" stroke="#f9d6d2" stroke-width="0.7"/>
<path d="M296.0,423.0L304.0,426.0M304.0,426.0L320.0,428.0M320.0,428.0L332.0,428.0M332.0,428.0L336.0,432.0M336.0,432.0L328.0,434.0M328.0,434.0L316.0,437.0M316.0,437.0L306.0,439.0M306.0,439.0L298.0,439.0M298.0,439.0L296.0,430.0M296.0,430.0L296.0,423.0" fill="none" stroke="#3a0c09" stroke-width="0.55" stroke-linecap="round"/>
<path d="M276.0,416.0 L284.0,414.0 L290.0,416.0 L300.0,419.0 L296.0,423.0 L296.0,430.0 L288.0,430.0 L280.0,428.0 L274.0,421.0Z" fill="#9c271b" stroke="#9c271b" stroke-width="0.7"/>
<path d="M276.0,416.0L284.0,414.0M284.0,414.0L290.0,416.0M290.0,416.0L300.0,419.0M300.0,419.0L296.0,423.0M296.0,423.0L296.0,430.0M296.0,430.0L288.0,430.0M288.0,430.0L280.0,428.0M280.0,428.0L274.0,421.0M274.0,421.0L276.0,416.0" fill="none" stroke="#3a0c09" stroke-width="0.55" stroke-linecap="round"/>
<path d="M336.0,414.0 L344.0,416.0 L356.0,414.0 L366.0,416.0 L372.0,420.0 L370.0,430.0 L366.0,434.0 L362.0,442.0 L352.0,446.0 L344.0,444.0 L340.0,436.0 L336.0,432.0 L332.0,428.0 L336.0,424.0 L340.0,420.0Z" fill="#801f16" stroke="#801f16" stroke-width="0.7"/>
<path d="M336.0,414.0L344.0,416.0M344.0,416.0L356.0,414.0M356.0,414.0L366.0,416.0M366.0,416.0L372.0,420.0M372.0,420.0L370.0,430.0M370.0,430.0L366.0,434.0M366.0,434.0L362.0,442.0M362.0,442.0L352.0,446.0M352.0,446.0L344.0,444.0M344.0,444.0L340.0,436.0M340.0,436.0L336.0,432.0M336.0,432.0L332.0,428.0M332.0,428.0L336.0,424.0M336.0,424.0L340.0,420.0M340.0,420.0L336.0,414.0" fill="none" stroke="#3a0c09" stroke-width="0.55" stroke-linecap="round"/>
<path d="M368.0,431.0 L381.0,431.0 L380.0,439.0 L374.0,448.0 L370.0,446.0 L366.0,438.0Z" fill="#f3a69e" stroke="#f3a69e" stroke-width="0.7"/>
<path d="M368.0,431.0L381.0,431.0M381.0,431.0L380.0,439.0M380.0,439.0L374.0,448.0M374.0,448.0L370.0,446.0M370.0,446.0L366.0,438.0M366.0,438.0L368.0,431.0" fill="none" stroke="#3a0c09" stroke-width="0.55" stroke-linecap="round"/>
<path d="M372.0,420.0 L380.0,424.0 L388.0,422.0 L392.0,426.0 L390.0,434.0 L400.0,440.0 L398.0,448.0 L392.0,452.0 L386.0,458.0 L380.0,452.0 L374.0,448.0 L380.0,439.0 L381.0,431.0 L370.0,430.0Z" fill="#57160f" stroke="#57160f" stroke-width="0.7"/>
<path d="M372.0,420.0L380.0,424.0M380.0,424.0L388.0,422.0M388.0,422.0L392.0,426.0M392.0,426.0L390.0,434.0M390.0,434.0L400.0,440.0M400.0,440.0L398.0,448.0M398.0,448.0L392.0,452.0M392.0,452.0L386.0,458.0M386.0,458.0L380.0,452.0M380.0,452.0L374.0,448.0M374.0,448.0L380.0,439.0M380.0,439.0L381.0,431.0M381.0,431.0L370.0,430.0M370.0,430.0L372.0,420.0" fill="none" stroke="#3a0c09" stroke-width="0.55" stroke-linecap="round"/>
<path d="M392.0,426.0 L404.0,429.0 L408.0,438.0 L416.0,450.0 L428.0,458.0 L439.6,463.0 L439.6,464.8 L406.0,464.8 L406.0,454.0 L398.0,448.0 L400.0,440.0 L390.0,434.0Z" fill="#9c271b" stroke="#9c271b" stroke-width="0.7"/>
<path d="M392.0,426.0L404.0,429.0M404.0,429.0L408.0,438.0M408.0,438.0L416.0,450.0M416.0,450.0L428.0,458.0M428.0,458.0L439.6,463.0M406.0,464.8L406.0,454.0M406.0,454.0L398.0,448.0M398.0,448.0L400.0,440.0M400.0,440.0L390.0,434.0M390.0,434.0L392.0,426.0" fill="none" stroke="#3a0c09" stroke-width="0.55" stroke-linecap="round"/>
<path d="M344.0,444.0 L352.0,446.0 L362.0,442.0 L370.0,446.0 L374.0,448.0 L380.0,452.0 L386.0,458.0 L392.0,452.0 L398.0,448.0 L406.0,454.0 L406.0,464.8 L312.0,464.8 L320.0,458.0 L332.0,454.0 L340.0,450.0Z" fill="#cb3226" stroke="#cb3226" stroke-width="0.7"/>
<path d="M344.0,444.0L352.0,446.0M352.0,446.0L362.0,442.0M362.0,442.0L370.0,446.0M370.0,446.0L374.0,448.0M374.0,448.0L380.0,452.0M380.0,452.0L386.0,458.0M386.0,458.0L392.0,452.0M392.0,452.0L398.0,448.0M398.0,448.0L406.0,454.0M406.0,454.0L406.0,464.8M312.0,464.8L320.0,458.0M320.0,458.0L332.0,454.0M332.0,454.0L340.0,450.0M340.0,450.0L344.0,444.0" fill="none" stroke="#3a0c09" stroke-width="0.55" stroke-linecap="round"/>
<path d="M306.0,439.0 L316.0,437.0 L328.0,434.0 L336.0,432.0 L340.0,436.0 L344.0,444.0 L340.0,450.0 L332.0,454.0 L320.0,458.0 L312.0,450.0 L308.0,444.0Z" fill="#9c271b" stroke="#9c271b" stroke-width="0.7"/>
<path d="M306.0,439.0L316.0,437.0M316.0,437.0L328.0,434.0M328.0,434.0L336.0,432.0M336.0,432.0L340.0,436.0M340.0,436.0L344.0,444.0M344.0,444.0L340.0,450.0M340.0,450.0L332.0,454.0M332.0,454.0L320.0,458.0M320.0,458.0L312.0,450.0M312.0,450.0L308.0,444.0M308.0,444.0L306.0,439.0" fill="none" stroke="#3a0c09" stroke-width="0.55" stroke-linecap="round"/>
<path d="M298.0,439.0 L306.0,439.0 L308.0,444.0 L312.0,450.0 L320.0,458.0 L312.0,464.8 L304.0,464.8 L304.0,454.0 L300.0,446.0Z" fill="#e7695d" stroke="#e7695d" stroke-width="0.7"/>
<path d="M298.0,439.0L306.0,439.0M306.0,439.0L308.0,444.0M308.0,444.0L312.0,450.0M312.0,450.0L320.0,458.0M320.0,458.0L312.0,464.8M304.0,464.8L304.0,454.0M304.0,454.0L300.0,446.0M300.0,446.0L298.0,439.0" fill="none" stroke="#3a0c09" stroke-width="0.55" stroke-linecap="round"/>
<path d="M260.0,421.0 L274.0,421.0 L280.0,428.0 L280.0,434.0 L276.0,440.0 L268.0,442.0 L260.0,444.0 L250.0,442.0 L249.0,434.0 L252.0,428.0Z" fill="#e7695d" stroke="#e7695d" stroke-width="0.7"/>
<path d="M260.0,421.0L274.0,421.0M274.0,421.0L280.0,428.0M280.0,428.0L280.0,434.0M280.0,434.0L276.0,440.0M276.0,440.0L268.0,442.0M268.0,442.0L260.0,444.0M260.0,444.0L250.0,442.0M250.0,442.0L249.0,434.0M249.0,434.0L252.0,428.0M252.0,428.0L260.0,421.0" fill="none" stroke="#3a0c09" stroke-width="0.55" stroke-linecap="round"/>
<path d="M264.0,427.0 L274.0,426.0 L279.0,432.0 L274.0,438.0 L266.0,438.0 L260.0,433.0Z" fill="#cb3226" stroke="#cb3226" stroke-width="0.7"/>
<path d="M264.0,427.0L274.0,426.0M274.0,426.0L279.0,432.0M279.0,432.0L274.0,438.0M274.0,438.0L266.0,438.0M266.0,438.0L260.0,433.0M260.0,433.0L264.0,427.0" fill="none" stroke="#3a0c09" stroke-width="0.55" stroke-linecap="round"/>
<path d="M280.0,428.0 L288.0,430.0 L296.0,430.0 L298.0,439.0 L298.0,444.0 L290.0,440.0 L280.0,442.0 L276.0,440.0 L280.0,434.0Z" fill="#9c271b" stroke="#9c271b" stroke-width="0.7"/>
<path d="M280.0,428.0L288.0,430.0M288.0,430.0L296.0,430.0M296.0,430.0L298.0,439.0M298.0,439.0L298.0,444.0M298.0,444.0L290.0,440.0M290.0,440.0L280.0,442.0M280.0,442.0L276.0,440.0M276.0,440.0L280.0,434.0M280.0,434.0L280.0,428.0" fill="none" stroke="#3a0c09" stroke-width="0.55" stroke-linecap="round"/>
<path d="M250.0,442.0 L260.0,444.0 L268.0,442.0 L276.0,446.0 L275.0,454.0 L280.0,460.0 L276.0,464.8 L244.0,464.8 L248.0,460.0 L253.0,454.0 L248.0,448.0Z" fill="#9c271b" stroke="#9c271b" stroke-width="0.7"/>
<path d="M250.0,442.0L260.0,444.0M260.0,444.0L268.0,442.0M268.0,442.0L276.0,446.0M276.0,446.0L275.0,454.0M275.0,454.0L280.0,460.0M280.0,460.0L276.0,464.8M244.0,464.8L248.0,460.0M248.0,460.0L253.0,454.0M253.0,454.0L248.0,448.0M248.0,448.0L250.0,442.0" fill="none" stroke="#3a0c09" stroke-width="0.55" stroke-linecap="round"/>
<path d="M280.0,442.0 L290.0,440.0 L298.0,444.0 L300.0,450.0 L296.0,458.0 L288.0,462.0 L280.0,460.0 L275.0,454.0 L276.0,446.0Z" fill="#57160f" stroke="#57160f" stroke-width="0.7"/>
<path d="M280.0,442.0L290.0,440.0M290.0,440.0L298.0,444.0M298.0,444.0L300.0,450.0M300.0,450.0L296.0,458.0M296.0,458.0L288.0,462.0M288.0,462.0L280.0,460.0M280.0,460.0L275.0,454.0M275.0,454.0L276.0,446.0M276.0,446.0L280.0,442.0" fill="none" stroke="#3a0c09" stroke-width="0.55" stroke-linecap="round"/>
<path d="M285.0,367.0 L294.0,365.0 L302.0,366.0 L303.0,371.0 L298.0,376.0 L290.0,377.6 L285.0,373.0Z" fill="#000000" stroke="#000000" stroke-width="0.7"/>
<path d="M285.0,367.0L294.0,365.0M294.0,365.0L302.0,366.0M302.0,366.0L303.0,371.0M303.0,371.0L298.0,376.0M298.0,376.0L290.0,377.6M290.0,377.6L285.0,373.0M285.0,373.0L285.0,367.0" fill="none" stroke="#3a0c09" stroke-width="0.55" stroke-linecap="round"/>
<path d="M363.0,407.0 L370.0,405.0 L376.0,404.0 L386.0,409.0 L390.0,416.0 L388.0,422.0 L380.0,424.0 L372.0,420.0 L366.0,416.0Z" fill="#000000" stroke="#000000" stroke-width="0.7"/>
<path d="M363.0,407.0L370.0,405.0M370.0,405.0L376.0,404.0M376.0,404.0L386.0,409.0M386.0,409.0L390.0,416.0M390.0,416.0L388.0,422.0M388.0,422.0L380.0,424.0M380.0,424.0L372.0,420.0M372.0,420.0L366.0,416.0M366.0,416.0L363.0,407.0" fill="none" stroke="#3a0c09" stroke-width="0.55" stroke-linecap="round"/>
<path d="M256.0,420.0 L278.0,420.0 L296.0,424.0 L300.0,432.0 L296.0,442.0 L288.0,440.0 L280.0,442.0 L270.0,448.0 L254.0,448.0 L249.0,440.0 L250.0,430.0Z" fill="#e7695d" stroke="#e7695d" stroke-width="0.7"/>
<path d="M278.0,420.0L296.0,424.0M296.0,424.0L300.0,432.0M300.0,432.0L296.0,442.0M296.0,442.0L288.0,440.0M288.0,440.0L280.0,442.0M280.0,442.0L270.0,448.0M270.0,448.0L254.0,448.0M254.0,448.0L249.0,440.0M249.0,440.0L250.0,430.0M250.0,430.0L256.0,420.0" fill="none" stroke="#3a0c09" stroke-width="0.55" stroke-linecap="round"/>
<path d="M260.0,429.0 L270.0,425.0 L278.0,429.0 L280.0,436.0 L272.0,440.0 L263.0,438.0Z" fill="#cb3226" stroke="#cb3226" stroke-width="0.7"/>
<path d="M260.0,429.0L270.0,425.0M270.0,425.0L278.0,429.0M278.0,429.0L280.0,436.0M280.0,436.0L272.0,440.0M272.0,440.0L263.0,438.0M263.0,438.0L260.0,429.0" fill="none" stroke="#3a0c09" stroke-width="0.55" stroke-linecap="round"/>
<path d="M254.0,448.0 L270.0,448.0 L280.0,447.0 L276.0,452.0 L275.0,460.0 L278.0,467.0 L270.0,470.0 L260.0,471.0 L256.0,467.0 L250.0,466.0 L244.0,466.0 L250.0,456.0Z" fill="#801f16" stroke="#801f16" stroke-width="0.7"/>
<path d="M254.0,448.0L270.0,448.0M270.0,448.0L280.0,447.0M280.0,447.0L276.0,452.0M276.0,452.0L275.0,460.0M275.0,460.0L278.0,467.0M278.0,467.0L270.0,470.0M270.0,470.0L260.0,471.0M260.0,471.0L256.0,467.0M256.0,467.0L250.0,466.0M250.0,466.0L244.0,466.0M244.0,466.0L250.0,456.0M250.0,456.0L254.0,448.0" fill="none" stroke="#3a0c09" stroke-width="0.55" stroke-linecap="round"/>
<path d="M280.0,442.0 L288.0,440.0 L296.0,442.0 L299.0,450.0 L304.0,456.0 L300.0,463.0 L290.0,465.0 L284.0,469.0 L278.0,467.0 L275.0,460.0 L276.0,452.0 L280.0,447.0Z" fill="#57160f" stroke="#57160f" stroke-width="0.7"/>
<path d="M280.0,442.0L288.0,440.0M288.0,440.0L296.0,442.0M296.0,442.0L299.0,450.0M299.0,450.0L304.0,456.0M304.0,456.0L300.0,463.0M300.0,463.0L290.0,465.0M290.0,465.0L284.0,469.0M284.0,469.0L278.0,467.0M278.0,467.0L275.0,460.0M275.0,460.0L276.0,452.0M276.0,452.0L280.0,447.0M280.0,447.0L280.0,442.0" fill="none" stroke="#3a0c09" stroke-width="0.55" stroke-linecap="round"/>
<path d="M241.0,468.0 L244.0,466.0 L250.0,466.0 L256.0,467.0 L259.0,472.0 L256.0,480.0 L256.0,486.0 L252.0,489.0 L243.0,478.0Z" fill="#9c271b" stroke="#9c271b" stroke-width="0.7"/>
<path d="M241.0,468.0L244.0,466.0M244.0,466.0L250.0,466.0M250.0,466.0L256.0,467.0M256.0,467.0L259.0,472.0M259.0,472.0L256.0,480.0M256.0,480.0L256.0,486.0M256.0,486.0L252.0,489.0M252.0,489.0L243.0,478.0M243.0,478.0L241.0,468.0" fill="none" stroke="#3a0c09" stroke-width="0.55" stroke-linecap="round"/>
<path d="M259.0,472.0 L268.0,473.0 L267.0,480.0 L263.0,487.0 L256.0,486.0 L256.0,480.0Z" fill="#f3a69e" stroke="#f3a69e" stroke-width="0.7"/>
<path d="M259.0,472.0L268.0,473.0M268.0,473.0L267.0,480.0M267.0,480.0L263.0,487.0M263.0,487.0L256.0,486.0M256.0,486.0L256.0,480.0M256.0,480.0L259.0,472.0" fill="none" stroke="#3a0c09" stroke-width="0.55" stroke-linecap="round"/>
<path d="M268.0,473.0 L284.0,471.0 L282.0,479.0 L276.0,485.0 L269.0,484.0 L267.0,480.0Z" fill="#cb3226" stroke="#cb3226" stroke-width="0.7"/>
<path d="M268.0,473.0L284.0,471.0M284.0,471.0L282.0,479.0M282.0,479.0L276.0,485.0M276.0,485.0L269.0,484.0M269.0,484.0L267.0,480.0M267.0,480.0L268.0,473.0" fill="none" stroke="#3a0c09" stroke-width="0.55" stroke-linecap="round"/>
<path d="M269.0,467.6 L280.0,467.0 L281.0,472.4 L270.0,473.6Z" fill="#f9d6d2" stroke="#f9d6d2" stroke-width="0.7"/>
<path d="M269.0,467.6L280.0,467.0M280.0,467.0L281.0,472.4M281.0,472.4L270.0,473.6M270.0,473.6L269.0,467.6" fill="none" stroke="#3a0c09" stroke-width="0.55" stroke-linecap="round"/>
<path d="M263.0,487.0 L269.0,484.0 L276.0,485.0 L286.0,489.0 L292.0,493.0 L288.0,498.0 L278.0,496.0 L270.0,500.0 L263.0,490.0Z" fill="#f9d6d2" stroke="#f9d6d2" stroke-width="0.7"/>
<path d="M263.0,487.0L269.0,484.0M269.0,484.0L276.0,485.0M276.0,485.0L286.0,489.0M286.0,489.0L292.0,493.0M292.0,493.0L288.0,498.0M288.0,498.0L278.0,496.0M278.0,496.0L270.0,500.0M270.0,500.0L263.0,490.0M263.0,490.0L263.0,487.0" fill="none" stroke="#3a0c09" stroke-width="0.55" stroke-linecap="round"/>
<path d="M270.0,500.0 L278.0,496.0 L288.0,498.0 L286.0,500.0 L276.0,509.0Z" fill="#e7695d" stroke="#e7695d" stroke-width="0.7"/>
<path d="M270.0,500.0L278.0,496.0M278.0,496.0L288.0,498.0M288.0,498.0L286.0,500.0M286.0,500.0L276.0,509.0M276.0,509.0L270.0,500.0" fill="none" stroke="#3a0c09" stroke-width="0.55" stroke-linecap="round"/>
<path d="M284.0,471.0 L294.0,470.0 L300.0,478.0 L302.0,488.0 L305.0,497.0 L302.0,500.0 L294.0,497.0 L292.0,493.0 L286.0,489.0 L282.0,479.0Z" fill="#801f16" stroke="#801f16" stroke-width="0.7"/>
<path d="M284.0,471.0L294.0,470.0M294.0,470.0L300.0,478.0M300.0,478.0L302.0,488.0M302.0,488.0L305.0,497.0M305.0,497.0L302.0,500.0M302.0,500.0L294.0,497.0M294.0,497.0L292.0,493.0M292.0,493.0L286.0,489.0M286.0,489.0L282.0,479.0M282.0,479.0L284.0,471.0" fill="none" stroke="#3a0c09" stroke-width="0.55" stroke-linecap="round"/>
<path d="M294.0,470.0 L306.0,472.0 L316.0,478.0 L324.0,486.0 L320.0,496.0 L322.0,508.0 L324.0,518.0 L318.0,519.0 L314.0,514.0 L308.0,504.0 L305.0,497.0 L302.0,488.0 L300.0,478.0Z" fill="#9c271b" stroke="#9c271b" stroke-width="0.7"/>
<path d="M294.0,470.0L306.0,472.0M306.0,472.0L316.0,478.0M316.0,478.0L324.0,486.0M324.0,486.0L320.0,496.0M320.0,496.0L322.0,508.0M322.0,508.0L324.0,518.0M324.0,518.0L318.0,519.0M318.0,519.0L314.0,514.0M314.0,514.0L308.0,504.0M308.0,504.0L305.0,497.0M305.0,497.0L302.0,488.0M302.0,488.0L300.0,478.0M300.0,478.0L294.0,470.0" fill="none" stroke="#3a0c09" stroke-width="0.55" stroke-linecap="round"/>
<path d="M297.0,425.0 L306.0,429.0 L320.0,430.0 L332.0,428.0 L334.0,433.0 L324.0,436.0 L312.0,436.0 L304.0,440.0 L298.0,437.0Z" fill="#f9d6d2" stroke="#f9d6d2" stroke-width="0.7"/>
<path d="M297.0,425.0L306.0,429.0M306.0,429.0L320.0,430.0M320.0,430.0L332.0,428.0M332.0,428.0L334.0,433.0M334.0,433.0L324.0,436.0M324.0,436.0L312.0,436.0M312.0,436.0L304.0,440.0M304.0,440.0L298.0,437.0M298.0,437.0L297.0,425.0" fill="none" stroke="#3a0c09" stroke-width="0.55" stroke-linecap="round"/>
<path d="M304.0,440.0 L312.0,436.0 L316.0,446.0 L314.0,454.0 L308.0,457.0 L303.0,450.0Z" fill="#e7695d" stroke="#e7695d" stroke-width="0.7"/>
<path d="M304.0,440.0L312.0,436.0M312.0,436.0L316.0,446.0M316.0,446.0L314.0,454.0M314.0,454.0L308.0,457.0M308.0,457.0L303.0,450.0M303.0,450.0L304.0,440.0" fill="none" stroke="#3a0c09" stroke-width="0.55" stroke-linecap="round"/>
<path d="M312.0,436.0 L324.0,436.0 L332.0,440.0 L340.0,446.0 L344.0,450.0 L338.0,454.0 L328.0,456.0 L320.0,459.0 L314.0,454.0 L316.0,446.0Z" fill="#9c271b" stroke="#9c271b" stroke-width="0.7"/>
<path d="M312.0,436.0L324.0,436.0M324.0,436.0L332.0,440.0M332.0,440.0L340.0,446.0M340.0,446.0L344.0,450.0M344.0,450.0L338.0,454.0M338.0,454.0L328.0,456.0M328.0,456.0L320.0,459.0M320.0,459.0L314.0,454.0M314.0,454.0L316.0,446.0M316.0,446.0L312.0,436.0" fill="none" stroke="#3a0c09" stroke-width="0.55" stroke-linecap="round"/>
<path d="M334.0,433.0 L344.0,434.0 L343.0,442.0 L336.0,444.0 L332.0,440.0 L324.0,436.0Z" fill="#e7695d" stroke="#e7695d" stroke-width="0.7"/>
<path d="M334.0,433.0L344.0,434.0M344.0,434.0L343.0,442.0M343.0,442.0L336.0,444.0M336.0,444.0L332.0,440.0M332.0,440.0L324.0,436.0M324.0,436.0L334.0,433.0" fill="none" stroke="#3a0c09" stroke-width="0.55" stroke-linecap="round"/>
<path d="M334.0,424.0 L340.0,420.0 L370.0,420.0 L372.0,430.0 L368.0,432.0 L367.0,440.0 L360.0,443.0 L352.0,446.0 L343.0,442.0 L344.0,434.0 L334.0,433.0 L332.0,428.0Z" fill="#9c271b" stroke="#9c271b" stroke-width="0.7"/>
<path d="M334.0,424.0L340.0,420.0M370.0,420.0L372.0,430.0M372.0,430.0L368.0,432.0M368.0,432.0L367.0,440.0M367.0,440.0L360.0,443.0M360.0,443.0L352.0,446.0M352.0,446.0L343.0,442.0M343.0,442.0L344.0,434.0M344.0,434.0L334.0,433.0M334.0,433.0L332.0,428.0M332.0,428.0L334.0,424.0" fill="none" stroke="#3a0c09" stroke-width="0.55" stroke-linecap="round"/>
<path d="M368.0,432.0 L381.0,431.6 L380.0,440.0 L374.0,448.0 L370.0,446.0 L367.0,440.0Z" fill="#f3a69e" stroke="#f3a69e" stroke-width="0.7"/>
<path d="M368.0,432.0L381.0,431.6M381.0,431.6L380.0,440.0M380.0,440.0L374.0,448.0M374.0,448.0L370.0,446.0M370.0,446.0L367.0,440.0M367.0,440.0L368.0,432.0" fill="none" stroke="#3a0c09" stroke-width="0.55" stroke-linecap="round"/>
<path d="M344.0,450.0 L352.0,446.0 L360.0,443.0 L367.0,440.0 L370.0,446.0 L374.0,448.0 L380.0,452.0 L382.0,456.0 L372.0,462.0 L360.0,465.0 L352.0,470.0 L348.0,467.0 L346.0,460.0 L340.0,455.0 L338.0,454.0Z" fill="#cb3226" stroke="#cb3226" stroke-width="0.7"/>
<path d="M344.0,450.0L352.0,446.0M352.0,446.0L360.0,443.0M360.0,443.0L367.0,440.0M367.0,440.0L370.0,446.0M370.0,446.0L374.0,448.0M374.0,448.0L380.0,452.0M380.0,452.0L382.0,456.0M382.0,456.0L372.0,462.0M372.0,462.0L360.0,465.0M360.0,465.0L352.0,470.0M352.0,470.0L348.0,467.0M348.0,467.0L346.0,460.0M346.0,460.0L340.0,455.0M340.0,455.0L338.0,454.0M338.0,454.0L344.0,450.0" fill="none" stroke="#3a0c09" stroke-width="0.55" stroke-linecap="round"/>
<path d="M320.0,459.0 L328.0,456.0 L338.0,454.0 L340.0,455.0 L346.0,460.0 L348.0,467.0 L340.0,469.0 L328.0,469.0 L322.0,466.0Z" fill="#cb3226" stroke="#cb3226" stroke-width="0.7"/>
<path d="M320.0,459.0L328.0,456.0M328.0,456.0L338.0,454.0M338.0,454.0L340.0,455.0M340.0,455.0L346.0,460.0M346.0,460.0L348.0,467.0M348.0,467.0L340.0,469.0M340.0,469.0L328.0,469.0M328.0,469.0L322.0,466.0M322.0,466.0L320.0,459.0" fill="none" stroke="#3a0c09" stroke-width="0.55" stroke-linecap="round"/>
<path d="M308.0,457.0 L314.0,454.0 L320.0,459.0 L322.0,466.0 L328.0,469.0 L324.0,472.0 L316.0,472.0 L306.0,472.0 L300.0,463.0 L304.0,456.0Z" fill="#9c271b" stroke="#9c271b" stroke-width="0.7"/>
<path d="M308.0,457.0L314.0,454.0M314.0,454.0L320.0,459.0M320.0,459.0L322.0,466.0M322.0,466.0L328.0,469.0M328.0,469.0L324.0,472.0M324.0,472.0L316.0,472.0M316.0,472.0L306.0,472.0M306.0,472.0L300.0,463.0M300.0,463.0L304.0,456.0M304.0,456.0L308.0,457.0" fill="none" stroke="#3a0c09" stroke-width="0.55" stroke-linecap="round"/>
<path d="M392.0,426.0 L406.0,430.0 L408.0,440.0 L412.0,450.0 L424.0,458.0 L436.0,464.0 L448.0,469.0 L459.6,472.0 L459.6,554.8 L432.0,554.8 L438.0,544.0 L444.0,536.0 L440.0,528.0 L434.0,520.0 L432.0,515.0 L420.0,511.0 L408.0,510.0 L406.0,504.0 L408.0,496.0 L404.0,486.0 L400.0,478.0 L402.0,468.0 L407.0,460.0 L406.0,454.0 L398.0,448.0 L400.0,440.0 L390.0,434.0Z" fill="#cb3226" stroke="#cb3226" stroke-width="0.7"/>
<path d="M392.0,426.0L406.0,430.0M406.0,430.0L408.0,440.0M408.0,440.0L412.0,450.0M412.0,450.0L424.0,458.0M424.0,458.0L436.0,464.0M436.0,464.0L448.0,469.0M448.0,469.0L459.6,472.0M432.0,554.8L438.0,544.0M438.0,544.0L444.0,536.0M444.0,536.0L440.0,528.0M440.0,528.0L434.0,520.0M434.0,520.0L432.0,515.0M432.0,515.0L420.0,511.0M420.0,511.0L408.0,510.0M408.0,510.0L406.0,504.0M406.0,504.0L408.0,496.0M408.0,496.0L404.0,486.0M404.0,486.0L400.0,478.0M400.0,478.0L402.0,468.0M402.0,468.0L407.0,460.0M407.0,460.0L406.0,454.0M406.0,454.0L398.0,448.0M398.0,448.0L400.0,440.0M400.0,440.0L390.0,434.0M390.0,434.0L392.0,426.0" fill="none" stroke="#3a0c09" stroke-width="0.55" stroke-linecap="round"/>
<path d="M352.0,470.0 L360.0,465.0 L372.0,462.0 L382.0,456.0 L386.0,457.0 L392.0,452.0 L398.0,448.0 L406.0,454.0 L407.0,460.0 L402.0,468.0 L400.0,478.0 L404.0,486.0 L396.0,488.0 L384.0,484.0 L372.0,480.0 L360.0,478.0 L354.0,476.0Z" fill="#9c271b" stroke="#9c271b" stroke-width="0.7"/>
<path d="M352.0,470.0L360.0,465.0M360.0,465.0L372.0,462.0M372.0,462.0L382.0,456.0M382.0,456.0L386.0,457.0M386.0,457.0L392.0,452.0M392.0,452.0L398.0,448.0M398.0,448.0L406.0,454.0M406.0,454.0L407.0,460.0M407.0,460.0L402.0,468.0M402.0,468.0L400.0,478.0M400.0,478.0L404.0,486.0M404.0,486.0L396.0,488.0M396.0,488.0L384.0,484.0M384.0,484.0L372.0,480.0M372.0,480.0L360.0,478.0M360.0,478.0L354.0,476.0M354.0,476.0L352.0,470.0" fill="none" stroke="#3a0c09" stroke-width="0.55" stroke-linecap="round"/>
<path d="M324.0,472.0 L328.0,469.0 L340.0,469.0 L348.0,467.0 L352.0,470.0 L354.0,476.0 L360.0,478.0 L372.0,480.0 L384.0,484.0 L396.0,488.0 L404.0,486.0 L408.0,496.0 L406.0,504.0 L408.0,510.0 L400.0,514.0 L390.0,512.0 L380.0,514.0 L372.0,516.0 L368.0,520.0 L360.0,510.0 L352.0,500.0 L344.0,492.0 L332.0,488.0 L324.0,486.0 L316.0,478.0Z" fill="#801f16" stroke="#801f16" stroke-width="0.7"/>
<path d="M324.0,472.0L328.0,469.0M328.0,469.0L340.0,469.0M340.0,469.0L348.0,467.0M348.0,467.0L352.0,470.0M352.0,470.0L354.0,476.0M354.0,476.0L360.0,478.0M360.0,478.0L372.0,480.0M372.0,480.0L384.0,484.0M384.0,484.0L396.0,488.0M396.0,488.0L404.0,486.0M404.0,486.0L408.0,496.0M408.0,496.0L406.0,504.0M406.0,504.0L408.0,510.0M408.0,510.0L400.0,514.0M400.0,514.0L390.0,512.0M390.0,512.0L380.0,514.0M380.0,514.0L372.0,516.0M372.0,516.0L368.0,520.0M368.0,520.0L360.0,510.0M360.0,510.0L352.0,500.0M352.0,500.0L344.0,492.0M344.0,492.0L332.0,488.0M332.0,488.0L324.0,486.0M324.0,486.0L316.0,478.0M316.0,478.0L324.0,472.0" fill="none" stroke="#3a0c09" stroke-width="0.55" stroke-linecap="round"/>
<path d="M306.0,472.0 L316.0,472.0 L324.0,472.0 L335.0,475.0 L332.0,482.0 L324.0,486.0 L316.0,478.0Z" fill="#cb3226" stroke="#cb3226" stroke-width="0.7"/>
<path d="M306.0,472.0L316.0,472.0M316.0,472.0L324.0,472.0M324.0,472.0L335.0,475.0M335.0,475.0L332.0,482.0M332.0,482.0L324.0,486.0M324.0,486.0L316.0,478.0M316.0,478.0L306.0,472.0" fill="none" stroke="#3a0c09" stroke-width="0.55" stroke-linecap="round"/>
<path d="M372.0,516.0 L380.0,514.0 L390.0,512.0 L400.0,514.0 L398.0,522.0 L400.0,532.0 L396.0,538.0 L386.0,542.0 L380.0,540.0 L374.0,532.0Z" fill="#9c271b" stroke="#9c271b" stroke-width="0.7"/>
<path d="M372.0,516.0L380.0,514.0M380.0,514.0L390.0,512.0M390.0,512.0L400.0,514.0M400.0,514.0L398.0,522.0M398.0,522.0L400.0,532.0M400.0,532.0L396.0,538.0M396.0,538.0L386.0,542.0M386.0,542.0L380.0,540.0M380.0,540.0L374.0,532.0M374.0,532.0L372.0,516.0" fill="none" stroke="#3a0c09" stroke-width="0.55" stroke-linecap="round"/>
<path d="M408.0,510.0 L420.0,511.0 L432.0,515.0 L434.0,520.0 L426.0,524.0 L420.0,528.0 L414.0,532.0 L408.0,536.0 L402.0,538.0 L400.0,532.0 L398.0,522.0 L400.0,514.0Z" fill="#420f0b" stroke="#420f0b" stroke-width="0.7"/>
<path d="M408.0,510.0L420.0,511.0M420.0,511.0L432.0,515.0M432.0,515.0L434.0,520.0M434.0,520.0L426.0,524.0M426.0,524.0L420.0,528.0M420.0,528.0L414.0,532.0M414.0,532.0L408.0,536.0M408.0,536.0L402.0,538.0M402.0,538.0L400.0,532.0M400.0,532.0L398.0,522.0M398.0,522.0L400.0,514.0M400.0,514.0L408.0,510.0" fill="none" stroke="#3a0c09" stroke-width="0.55" stroke-linecap="round"/>
<path d="M386.0,541.0 L394.0,539.0 L397.0,544.0 L394.0,547.6 L387.0,546.4Z" fill="#420f0b" stroke="#420f0b" stroke-width="0.7"/>
<path d="M386.0,541.0L394.0,539.0M394.0,539.0L397.0,544.0M397.0,544.0L394.0,547.6M394.0,547.6L387.0,546.4M387.0,546.4L386.0,541.0" fill="none" stroke="#3a0c09" stroke-width="0.55" stroke-linecap="round"/>
<path d="M400.0,537.0 L407.0,536.0 L408.0,545.0 L400.0,546.4Z" fill="#f3a69e" stroke="#f3a69e" stroke-width="0.7"/>
<path d="M400.0,537.0L407.0,536.0M407.0,536.0L408.0,545.0M408.0,545.0L400.0,546.4M400.0,546.4L400.0,537.0" fill="none" stroke="#3a0c09" stroke-width="0.55" stroke-linecap="round"/>
<path d="M414.0,532.0 L420.0,528.0 L426.0,532.0 L428.0,540.0 L420.0,546.0 L408.0,545.0 L408.0,536.0Z" fill="#e7695d" stroke="#e7695d" stroke-width="0.7"/>
<path d="M414.0,532.0L420.0,528.0M420.0,528.0L426.0,532.0M426.0,532.0L428.0,540.0M428.0,540.0L420.0,546.0M420.0,546.0L408.0,545.0M408.0,545.0L408.0,536.0M408.0,536.0L414.0,532.0" fill="none" stroke="#3a0c09" stroke-width="0.55" stroke-linecap="round"/>
<path d="M426.0,524.0 L434.0,520.0 L440.0,528.0 L444.0,536.0 L438.0,544.0 L432.0,554.8 L430.0,550.0 L420.0,546.0 L428.0,540.0 L426.0,532.0 L420.0,528.0Z" fill="#cb3226" stroke="#cb3226" stroke-width="0.7"/>
<path d="M426.0,524.0L434.0,520.0M434.0,520.0L440.0,528.0M440.0,528.0L444.0,536.0M444.0,536.0L438.0,544.0M438.0,544.0L432.0,554.8M432.0,554.8L430.0,550.0M430.0,550.0L420.0,546.0M420.0,546.0L428.0,540.0M428.0,540.0L426.0,532.0M426.0,532.0L420.0,528.0M420.0,528.0L426.0,524.0" fill="none" stroke="#3a0c09" stroke-width="0.55" stroke-linecap="round"/>
<path d="M436.0,508.0 L446.0,506.0 L452.0,516.0 L450.0,528.0 L444.0,536.0 L440.0,528.0 L434.0,520.0 L432.0,515.0Z" fill="#9c271b" stroke="#9c271b" stroke-width="0.7"/>
<path d="M436.0,508.0L446.0,506.0M446.0,506.0L452.0,516.0M452.0,516.0L450.0,528.0M450.0,528.0L444.0,536.0M444.0,536.0L440.0,528.0M440.0,528.0L434.0,520.0M434.0,520.0L432.0,515.0M432.0,515.0L436.0,508.0" fill="none" stroke="#3a0c09" stroke-width="0.55" stroke-linecap="round"/>
<path d="M452.0,516.0 L459.6,514.0 L459.6,554.8 L450.0,554.8 L452.0,540.0 L450.0,528.0Z" fill="#9c271b" stroke="#9c271b" stroke-width="0.7"/>
<path d="M452.0,516.0L459.6,514.0M450.0,554.8L452.0,540.0M452.0,540.0L450.0,528.0M450.0,528.0L452.0,516.0" fill="none" stroke="#3a0c09" stroke-width="0.55" stroke-linecap="round"/>
<path d="M370.0,420.0 L390.0,420.0 L392.0,426.0 L390.0,434.0 L400.0,440.0 L398.0,448.0 L392.0,452.0 L386.0,457.0 L380.0,452.0 L374.0,448.0 L380.0,440.0 L381.0,431.6 L372.0,430.0Z" fill="#57160f" stroke="#57160f" stroke-width="0.7"/>
<path d="M390.0,420.0L392.0,426.0M392.0,426.0L390.0,434.0M390.0,434.0L400.0,440.0M400.0,440.0L398.0,448.0M398.0,448.0L392.0,452.0M392.0,452.0L386.0,457.0M386.0,457.0L380.0,452.0M380.0,452.0L374.0,448.0M374.0,448.0L380.0,440.0M380.0,440.0L381.0,431.6M381.0,431.6L372.0,430.0M372.0,430.0L370.0,420.0" fill="none" stroke="#3a0c09" stroke-width="0.55" stroke-linecap="round"/>
<path d="M400.0,430.0 L408.0,430.0 L410.0,440.0 L416.0,450.0 L426.0,458.0 L438.0,463.0 L450.0,468.0 L464.0,470.0 L466.0,478.0 L460.0,484.0 L464.0,496.0 L466.0,510.0 L460.0,516.0 L452.0,514.0 L444.0,506.0 L434.0,510.0 L418.0,510.0 L408.0,506.0 L400.0,496.0Z" fill="#cb3226" stroke="#cb3226" stroke-width="0.7"/>
<path d="M408.0,430.0L410.0,440.0M410.0,440.0L416.0,450.0M416.0,450.0L426.0,458.0M426.0,458.0L438.0,463.0M438.0,463.0L450.0,468.0M450.0,468.0L464.0,470.0M464.0,470.0L466.0,478.0M466.0,478.0L460.0,484.0M460.0,484.0L464.0,496.0M464.0,496.0L466.0,510.0M466.0,510.0L460.0,516.0M460.0,516.0L452.0,514.0M452.0,514.0L444.0,506.0M444.0,506.0L434.0,510.0M434.0,510.0L418.0,510.0M418.0,510.0L408.0,506.0M408.0,506.0L400.0,496.0" fill="none" stroke="#3a0c09" stroke-width="0.55" stroke-linecap="round"/>
<path d="M400.0,450.0 L406.0,452.0 L407.0,464.0 L400.0,470.0Z" fill="#9c271b" stroke="#9c271b" stroke-width="0.7"/>
<path d="M400.0,450.0L406.0,452.0M406.0,452.0L407.0,464.0M407.0,464.0L400.0,470.0" fill="none" stroke="#3a0c09" stroke-width="0.55" stroke-linecap="round"/>
<path d="M400.0,490.0 L408.0,496.0 L408.0,506.0 L400.0,514.0Z" fill="#9c271b" stroke="#9c271b" stroke-width="0.7"/>
<path d="M400.0,490.0L408.0,496.0M408.0,496.0L408.0,506.0M408.0,506.0L400.0,514.0" fill="none" stroke="#3a0c09" stroke-width="0.55" stroke-linecap="round"/>
<path d="M464.0,470.0 L480.0,470.0 L491.0,470.0 L492.0,482.0 L494.0,490.0 L488.0,496.0 L476.0,498.0 L466.0,500.0 L464.0,496.0 L460.0,484.0 L466.0,478.0Z" fill="#9c271b" stroke="#9c271b" stroke-width="0.7"/>
<path d="M464.0,470.0L480.0,470.0M480.0,470.0L491.0,470.0M491.0,470.0L492.0,482.0M492.0,482.0L494.0,490.0M494.0,490.0L488.0,496.0M488.0,496.0L476.0,498.0M476.0,498.0L466.0,500.0M466.0,500.0L464.0,496.0M464.0,496.0L460.0,484.0M460.0,484.0L466.0,478.0M466.0,478.0L464.0,470.0" fill="none" stroke="#3a0c09" stroke-width="0.55" stroke-linecap="round"/>
<path d="M459.0,485.0 L469.0,484.0 L470.0,494.0 L464.0,499.0 L460.0,494.0Z" fill="#cb3226" stroke="#cb3226" stroke-width="0.7"/>
<path d="M459.0,485.0L469.0,484.0M469.0,484.0L470.0,494.0M470.0,494.0L464.0,499.0M464.0,499.0L460.0,494.0M460.0,494.0L459.0,485.0" fill="none" stroke="#3a0c09" stroke-width="0.55" stroke-linecap="round"/>
<path d="M491.0,470.0 L504.0,469.6 L512.0,474.0 L520.0,480.0 L522.0,485.0 L516.0,488.0 L518.0,494.0 L512.0,498.0 L510.0,510.0 L511.0,520.0 L504.0,528.0 L494.0,532.0 L486.0,529.0 L480.0,528.0 L488.0,518.0 L494.0,506.0 L496.0,496.0 L494.0,490.0 L492.0,482.0Z" fill="#57160f" stroke="#57160f" stroke-width="0.7"/>
<path d="M491.0,470.0L504.0,469.6M504.0,469.6L512.0,474.0M512.0,474.0L520.0,480.0M520.0,480.0L522.0,485.0M522.0,485.0L516.0,488.0M516.0,488.0L518.0,494.0M518.0,494.0L512.0,498.0M512.0,498.0L510.0,510.0M510.0,510.0L511.0,520.0M511.0,520.0L504.0,528.0M504.0,528.0L494.0,532.0M494.0,532.0L486.0,529.0M486.0,529.0L480.0,528.0M480.0,528.0L488.0,518.0M488.0,518.0L494.0,506.0M494.0,506.0L496.0,496.0M496.0,496.0L494.0,490.0M494.0,490.0L492.0,482.0M492.0,482.0L491.0,470.0" fill="none" stroke="#3a0c09" stroke-width="0.55" stroke-linecap="round"/>
<path d="M466.0,500.0 L476.0,498.0 L488.0,496.0 L496.0,496.0 L494.0,506.0 L488.0,518.0 L480.0,528.0 L474.0,526.0 L466.0,518.0 L466.0,510.0Z" fill="#9c271b" stroke="#9c271b" stroke-width="0.7"/>
<path d="M466.0,500.0L476.0,498.0M476.0,498.0L488.0,496.0M488.0,496.0L496.0,496.0M496.0,496.0L494.0,506.0M494.0,506.0L488.0,518.0M488.0,518.0L480.0,528.0M480.0,528.0L474.0,526.0M474.0,526.0L466.0,518.0M466.0,518.0L466.0,510.0M466.0,510.0L466.0,500.0" fill="none" stroke="#3a0c09" stroke-width="0.55" stroke-linecap="round"/>
<path d="M522.0,485.0 L524.0,485.0 L540.0,488.0 L542.0,500.0 L543.0,510.0 L538.0,513.0 L530.0,516.0 L524.0,522.0 L516.0,520.0 L511.0,520.0 L510.0,510.0 L512.0,498.0 L518.0,494.0 L516.0,488.0Z" fill="#9c271b" stroke="#9c271b" stroke-width="0.7"/>
<path d="M522.0,485.0L524.0,485.0M524.0,485.0L540.0,488.0M540.0,488.0L542.0,500.0M542.0,500.0L543.0,510.0M543.0,510.0L538.0,513.0M538.0,513.0L530.0,516.0M530.0,516.0L524.0,522.0M524.0,522.0L516.0,520.0M516.0,520.0L511.0,520.0M511.0,520.0L510.0,510.0M510.0,510.0L512.0,498.0M512.0,498.0L518.0,494.0M518.0,494.0L516.0,488.0M516.0,488.0L522.0,485.0" fill="none" stroke="#3a0c09" stroke-width="0.55" stroke-linecap="round"/>
<path d="M540.0,488.0 L552.0,489.0 L556.0,496.0 L564.0,508.0 L566.0,514.0 L562.0,520.0 L562.0,530.0 L560.0,538.0 L556.0,546.0 L548.0,550.0 L544.0,546.0 L536.0,542.0 L534.0,530.0 L532.0,522.0 L528.0,516.0 L538.0,513.0 L543.0,510.0 L542.0,500.0Z" fill="#f3a69e" stroke="#f3a69e" stroke-width="0.7"/>
<path d="M540.0,488.0L552.0,489.0M552.0,489.0L556.0,496.0M556.0,496.0L564.0,508.0M564.0,508.0L566.0,514.0M566.0,514.0L562.0,520.0M562.0,520.0L562.0,530.0M562.0,530.0L560.0,538.0M560.0,538.0L556.0,546.0M556.0,546.0L548.0,550.0M548.0,550.0L544.0,546.0M544.0,546.0L536.0,542.0M536.0,542.0L534.0,530.0M534.0,530.0L532.0,522.0M532.0,522.0L528.0,516.0M528.0,516.0L538.0,513.0M538.0,513.0L543.0,510.0M543.0,510.0L542.0,500.0M542.0,500.0L540.0,488.0" fill="none" stroke="#3a0c09" stroke-width="0.55" stroke-linecap="round"/>
<path d="M566.0,514.0 L572.0,514.0 L576.0,524.0 L580.0,530.0 L579.0,542.0 L570.0,544.0 L562.0,540.0 L560.0,538.0 L562.0,530.0 L562.0,520.0Z" fill="#f9d6d2" stroke="#f9d6d2" stroke-width="0.7"/>
<path d="M566.0,514.0L572.0,514.0M572.0,514.0L576.0,524.0M576.0,524.0L580.0,530.0M580.0,530.0L579.0,542.0M579.0,542.0L570.0,544.0M570.0,544.0L562.0,540.0M562.0,540.0L560.0,538.0M560.0,538.0L562.0,530.0M562.0,530.0L562.0,520.0M562.0,520.0L566.0,514.0" fill="none" stroke="#3a0c09" stroke-width="0.55" stroke-linecap="round"/>
<path d="M494.0,532.0 L504.0,528.0 L511.0,520.0 L516.0,520.0 L524.0,522.0 L530.0,516.0 L532.0,522.0 L534.0,530.0 L536.0,542.0 L530.0,541.0 L520.0,542.0 L512.0,548.0 L504.0,548.0 L496.0,544.0 L488.0,538.0 L482.0,536.0 L486.0,529.0Z" fill="#9c271b" stroke="#9c271b" stroke-width="0.7"/>
<path d="M494.0,532.0L504.0,528.0M504.0,528.0L511.0,520.0M511.0,520.0L516.0,520.0M516.0,520.0L524.0,522.0M524.0,522.0L530.0,516.0M530.0,516.0L532.0,522.0M532.0,522.0L534.0,530.0M534.0,530.0L536.0,542.0M536.0,542.0L530.0,541.0M530.0,541.0L520.0,542.0M520.0,542.0L512.0,548.0M512.0,548.0L504.0,548.0M504.0,548.0L496.0,544.0M496.0,544.0L488.0,538.0M488.0,538.0L482.0,536.0M482.0,536.0L486.0,529.0M486.0,529.0L494.0,532.0" fill="none" stroke="#3a0c09" stroke-width="0.55" stroke-linecap="round"/>
<path d="M512.0,548.0 L520.0,542.0 L530.0,541.0 L536.0,542.0 L544.0,546.0 L548.0,550.0 L548.0,558.0 L544.0,564.8 L510.0,564.8 L506.0,558.0 L502.0,550.0 L504.0,548.0Z" fill="#801f16" stroke="#801f16" stroke-width="0.7"/>
<path d="M512.0,548.0L520.0,542.0M520.0,542.0L530.0,541.0M530.0,541.0L536.0,542.0M536.0,542.0L544.0,546.0M544.0,546.0L548.0,550.0M548.0,550.0L548.0,558.0M548.0,558.0L544.0,564.8M510.0,564.8L506.0,558.0M506.0,558.0L502.0,550.0M502.0,550.0L504.0,548.0M504.0,548.0L512.0,548.0" fill="none" stroke="#3a0c09" stroke-width="0.55" stroke-linecap="round"/>
<path d="M472.0,538.0 L482.0,536.0 L488.0,538.0 L496.0,544.0 L504.0,548.0 L502.0,550.0 L506.0,558.0 L510.0,564.8 L480.0,564.8 L478.0,558.0 L472.0,550.0 L468.0,544.0Z" fill="#e7695d" stroke="#e7695d" stroke-width="0.7"/>
<path d="M472.0,538.0L482.0,536.0M482.0,536.0L488.0,538.0M488.0,538.0L496.0,544.0M496.0,544.0L504.0,548.0M504.0,548.0L502.0,550.0M502.0,550.0L506.0,558.0M506.0,558.0L510.0,564.8M480.0,564.8L478.0,558.0M478.0,558.0L472.0,550.0M472.0,550.0L468.0,544.0M468.0,544.0L472.0,538.0" fill="none" stroke="#3a0c09" stroke-width="0.55" stroke-linecap="round"/>
<path d="M400.0,514.0 L408.0,510.0 L418.0,510.0 L426.0,514.0 L433.0,516.0 L430.0,524.0 L422.0,528.0 L414.0,532.0 L406.0,534.0 L400.0,536.0Z" fill="#420f0b" stroke="#420f0b" stroke-width="0.7"/>
<path d="M400.0,514.0L408.0,510.0M408.0,510.0L418.0,510.0M418.0,510.0L426.0,514.0M426.0,514.0L433.0,516.0M433.0,516.0L430.0,524.0M430.0,524.0L422.0,528.0M422.0,528.0L414.0,532.0M414.0,532.0L406.0,534.0M406.0,534.0L400.0,536.0" fill="none" stroke="#3a0c09" stroke-width="0.55" stroke-linecap="round"/>
<path d="M434.0,510.0 L444.0,506.0 L452.0,514.0 L450.0,524.0 L446.0,532.0 L440.0,534.0 L435.0,528.0 L433.0,516.0Z" fill="#9c271b" stroke="#9c271b" stroke-width="0.7"/>
<path d="M434.0,510.0L444.0,506.0M444.0,506.0L452.0,514.0M452.0,514.0L450.0,524.0M450.0,524.0L446.0,532.0M446.0,532.0L440.0,534.0M440.0,534.0L435.0,528.0M435.0,528.0L433.0,516.0M433.0,516.0L434.0,510.0" fill="none" stroke="#3a0c09" stroke-width="0.55" stroke-linecap="round"/>
<path d="M414.0,532.0 L422.0,528.0 L427.0,534.0 L426.0,542.0 L418.0,545.0 L410.0,544.0 L408.0,538.0Z" fill="#e7695d" stroke="#e7695d" stroke-width="0.7"/>
<path d="M414.0,532.0L422.0,528.0M422.0,528.0L427.0,534.0M427.0,534.0L426.0,542.0M426.0,542.0L418.0,545.0M418.0,545.0L410.0,544.0M410.0,544.0L408.0,538.0M408.0,538.0L414.0,532.0" fill="none" stroke="#3a0c09" stroke-width="0.55" stroke-linecap="round"/>
<path d="M400.0,536.0 L406.0,534.0 L408.0,538.0 L410.0,544.0 L400.0,547.0Z" fill="#f3a69e" stroke="#f3a69e" stroke-width="0.7"/>
<path d="M400.0,536.0L406.0,534.0M406.0,534.0L408.0,538.0M408.0,538.0L410.0,544.0M410.0,544.0L400.0,547.0" fill="none" stroke="#3a0c09" stroke-width="0.55" stroke-linecap="round"/>
<path d="M422.0,528.0 L430.0,524.0 L435.0,528.0 L440.0,534.0 L443.0,539.0 L438.0,546.0 L432.0,550.0 L426.0,542.0 L427.0,534.0Z" fill="#cb3226" stroke="#cb3226" stroke-width="0.7"/>
<path d="M422.0,528.0L430.0,524.0M430.0,524.0L435.0,528.0M435.0,528.0L440.0,534.0M440.0,534.0L443.0,539.0M443.0,539.0L438.0,546.0M438.0,546.0L432.0,550.0M432.0,550.0L426.0,542.0M426.0,542.0L427.0,534.0M427.0,534.0L422.0,528.0" fill="none" stroke="#3a0c09" stroke-width="0.55" stroke-linecap="round"/>
<path d="M446.0,532.0 L450.0,524.0 L460.0,516.0 L466.0,518.0 L474.0,526.0 L480.0,528.0 L486.0,529.0 L482.0,536.0 L472.0,538.0 L468.0,544.0 L472.0,550.0 L478.0,558.0 L480.0,564.8 L433.0,564.8 L432.0,558.0 L432.0,550.0 L438.0,546.0 L443.0,539.0Z" fill="#9c271b" stroke="#9c271b" stroke-width="0.7"/>
<path d="M446.0,532.0L450.0,524.0M450.0,524.0L460.0,516.0M460.0,516.0L466.0,518.0M466.0,518.0L474.0,526.0M474.0,526.0L480.0,528.0M480.0,528.0L486.0,529.0M486.0,529.0L482.0,536.0M482.0,536.0L472.0,538.0M472.0,538.0L468.0,544.0M468.0,544.0L472.0,550.0M472.0,550.0L478.0,558.0M478.0,558.0L480.0,564.8M433.0,564.8L432.0,558.0M432.0,558.0L432.0,550.0M432.0,550.0L438.0,546.0M438.0,546.0L443.0,539.0M443.0,539.0L446.0,532.0" fill="none" stroke="#3a0c09" stroke-width="0.55" stroke-linecap="round"/>
<path d="M576.0,524.0 L580.0,530.0 L588.0,534.0 L600.0,534.0 L602.0,542.0 L598.0,550.0 L600.0,558.0 L598.0,564.8 L574.0,564.8 L576.0,554.0 L580.0,546.0 L579.0,542.0Z" fill="#420f0b" stroke="#420f0b" stroke-width="0.7"/>
<path d="M576.0,524.0L580.0,530.0M580.0,530.0L588.0,534.0M588.0,534.0L600.0,534.0M600.0,534.0L602.0,542.0M602.0,542.0L598.0,550.0M598.0,550.0L600.0,558.0M600.0,558.0L598.0,564.8M574.0,564.8L576.0,554.0M576.0,554.0L580.0,546.0M580.0,546.0L579.0,542.0M579.0,542.0L576.0,524.0" fill="none" stroke="#3a0c09" stroke-width="0.55" stroke-linecap="round"/>
<path d="M600.0,534.0 L616.0,530.0 L630.0,527.0 L639.6,525.0 L639.6,554.0 L630.0,552.0 L626.0,546.0 L618.0,542.0 L610.0,546.0 L602.0,542.0Z" fill="#801f16" stroke="#801f16" stroke-width="0.7"/>
<path d="M600.0,534.0L616.0,530.0M616.0,530.0L630.0,527.0M630.0,527.0L639.6,525.0M639.6,554.0L630.0,552.0M630.0,552.0L626.0,546.0M626.0,546.0L618.0,542.0M618.0,542.0L610.0,546.0M610.0,546.0L602.0,542.0M602.0,542.0L600.0,534.0" fill="none" stroke="#3a0c09" stroke-width="0.55" stroke-linecap="round"/>
<path d="M602.0,542.0 L610.0,546.0 L618.0,542.0 L626.0,546.0 L628.0,556.0 L626.0,564.8 L598.0,564.8 L600.0,558.0 L598.0,550.0Z" fill="#cb3226" stroke="#cb3226" stroke-width="0.7"/>
<path d="M602.0,542.0L610.0,546.0M610.0,546.0L618.0,542.0M618.0,542.0L626.0,546.0M626.0,546.0L628.0,556.0M628.0,556.0L626.0,564.8M598.0,564.8L600.0,558.0M600.0,558.0L598.0,550.0M598.0,550.0L602.0,542.0" fill="none" stroke="#3a0c09" stroke-width="0.55" stroke-linecap="round"/>
<path d="M548.0,550.0 L556.0,546.0 L560.0,538.0 L562.0,540.0 L570.0,544.0 L579.0,542.0 L580.0,546.0 L576.0,554.0 L574.0,564.8 L544.0,564.8 L548.0,558.0Z" fill="#cb3226" stroke="#cb3226" stroke-width="0.7"/>
<path d="M548.0,550.0L556.0,546.0M556.0,546.0L560.0,538.0M560.0,538.0L562.0,540.0M562.0,540.0L570.0,544.0M570.0,544.0L579.0,542.0M579.0,542.0L580.0,546.0M580.0,546.0L576.0,554.0M576.0,554.0L574.0,564.8M544.0,564.8L548.0,558.0M548.0,558.0L548.0,550.0" fill="none" stroke="#3a0c09" stroke-width="0.55" stroke-linecap="round"/>
<path d="M428.0,546.0 L434.0,539.0 L470.0,539.0 L468.0,547.0 L476.0,557.0 L480.0,565.0 L476.0,573.0 L472.0,577.0 L476.0,585.0 L480.0,591.0 L486.0,599.0 L484.0,603.0 L478.0,607.0 L470.0,611.0 L466.0,617.0 L458.0,619.0 L448.0,622.0 L440.0,616.0 L436.0,611.0 L428.0,605.0 L423.0,597.0 L424.0,593.0 L430.0,581.0 L433.0,571.0 L432.0,559.0Z" fill="#9c271b" stroke="#9c271b" stroke-width="0.7"/>
<path d="M428.0,546.0L434.0,539.0M470.0,539.0L468.0,547.0M468.0,547.0L476.0,557.0M476.0,557.0L480.0,565.0M480.0,565.0L476.0,573.0M476.0,573.0L472.0,577.0M472.0,577.0L476.0,585.0M476.0,585.0L480.0,591.0M480.0,591.0L486.0,599.0M486.0,599.0L484.0,603.0M484.0,603.0L478.0,607.0M478.0,607.0L470.0,611.0M470.0,611.0L466.0,617.0M466.0,617.0L458.0,619.0M458.0,619.0L448.0,622.0M448.0,622.0L440.0,616.0M440.0,616.0L436.0,611.0M436.0,611.0L428.0,605.0M428.0,605.0L423.0,597.0M423.0,597.0L424.0,593.0M424.0,593.0L430.0,581.0M430.0,581.0L433.0,571.0M433.0,571.0L432.0,559.0M432.0,559.0L428.0,546.0" fill="none" stroke="#3a0c09" stroke-width="0.55" stroke-linecap="round"/>
<path d="M440.0,601.0 L448.0,595.0 L458.0,599.0 L466.0,605.0 L472.0,608.0 L466.0,617.0 L458.0,619.0 L448.0,622.0 L441.0,616.0 L440.0,609.0Z" fill="#f3a69e" stroke="#f3a69e" stroke-width="0.7"/>
<path d="M440.0,601.0L448.0,595.0M448.0,595.0L458.0,599.0M458.0,599.0L466.0,605.0M466.0,605.0L472.0,608.0M472.0,608.0L466.0,617.0M466.0,617.0L458.0,619.0M458.0,619.0L448.0,622.0M448.0,622.0L441.0,616.0M441.0,616.0L440.0,609.0M440.0,609.0L440.0,601.0" fill="none" stroke="#3a0c09" stroke-width="0.55" stroke-linecap="round"/>
<path d="M470.0,539.0 L488.0,539.0 L496.0,545.0 L504.0,550.0 L506.0,559.0 L503.0,563.0 L502.0,573.0 L498.0,579.0 L490.0,585.0 L482.0,590.0 L480.0,591.0 L476.0,585.0 L472.0,577.0 L476.0,573.0 L480.0,565.0 L476.0,557.0 L468.0,547.0Z" fill="#e7695d" stroke="#e7695d" stroke-width="0.7"/>
<path d="M488.0,539.0L496.0,545.0M496.0,545.0L504.0,550.0M504.0,550.0L506.0,559.0M506.0,559.0L503.0,563.0M503.0,563.0L502.0,573.0M502.0,573.0L498.0,579.0M498.0,579.0L490.0,585.0M490.0,585.0L482.0,590.0M482.0,590.0L480.0,591.0M480.0,591.0L476.0,585.0M476.0,585.0L472.0,577.0M472.0,577.0L476.0,573.0M476.0,573.0L480.0,565.0M480.0,565.0L476.0,557.0M476.0,557.0L468.0,547.0M468.0,547.0L470.0,539.0" fill="none" stroke="#3a0c09" stroke-width="0.55" stroke-linecap="round"/>
<path d="M503.0,563.0 L512.0,562.0 L520.0,564.0 L530.0,565.0 L531.0,569.0 L528.0,577.0 L526.0,587.0 L530.0,593.0 L528.0,599.0 L525.0,607.0 L524.0,613.0 L512.0,616.0 L508.0,615.0 L500.0,611.0 L502.0,608.0 L510.0,603.0 L510.0,598.0 L504.0,594.0 L498.0,596.0 L490.0,600.0 L486.0,599.0 L480.0,591.0 L482.0,590.0 L490.0,585.0 L498.0,579.0 L502.0,573.0Z" fill="#e7695d" stroke="#e7695d" stroke-width="0.7"/>
<path d="M503.0,563.0L512.0,562.0M512.0,562.0L520.0,564.0M520.0,564.0L530.0,565.0M530.0,565.0L531.0,569.0M531.0,569.0L528.0,577.0M528.0,577.0L526.0,587.0M526.0,587.0L530.0,593.0M530.0,593.0L528.0,599.0M528.0,599.0L525.0,607.0M525.0,607.0L524.0,613.0M524.0,613.0L512.0,616.0M512.0,616.0L508.0,615.0M508.0,615.0L500.0,611.0M500.0,611.0L502.0,608.0M502.0,608.0L510.0,603.0M510.0,603.0L510.0,598.0M510.0,598.0L504.0,594.0M504.0,594.0L498.0,596.0M498.0,596.0L490.0,600.0M490.0,600.0L486.0,599.0M486.0,599.0L480.0,591.0M480.0,591.0L482.0,590.0M482.0,590.0L490.0,585.0M490.0,585.0L498.0,579.0M498.0,579.0L502.0,573.0M502.0,573.0L503.0,563.0" fill="none" stroke="#3a0c09" stroke-width="0.55" stroke-linecap="round"/>
<path d="M504.0,550.0 L512.0,545.0 L520.0,541.0 L536.0,541.0 L544.0,545.0 L550.0,551.0 L549.0,559.0 L544.0,565.0 L538.0,569.0 L530.0,565.0 L520.0,564.0 L512.0,562.0 L506.0,559.0Z" fill="#801f16" stroke="#801f16" stroke-width="0.7"/>
<path d="M504.0,550.0L512.0,545.0M512.0,545.0L520.0,541.0M520.0,541.0L536.0,541.0M536.0,541.0L544.0,545.0M544.0,545.0L550.0,551.0M550.0,551.0L549.0,559.0M549.0,559.0L544.0,565.0M544.0,565.0L538.0,569.0M538.0,569.0L530.0,565.0M530.0,565.0L520.0,564.0M520.0,564.0L512.0,562.0M512.0,562.0L506.0,559.0M506.0,559.0L504.0,550.0" fill="none" stroke="#3a0c09" stroke-width="0.55" stroke-linecap="round"/>
<path d="M488.0,539.0 L532.0,539.0 L536.0,541.0 L520.0,541.0 L512.0,545.0 L504.0,550.0 L496.0,545.0Z" fill="#9c271b" stroke="#9c271b" stroke-width="0.7"/>
<path d="M532.0,539.0L536.0,541.0M536.0,541.0L520.0,541.0M520.0,541.0L512.0,545.0M512.0,545.0L504.0,550.0M504.0,550.0L496.0,545.0M496.0,545.0L488.0,539.0" fill="none" stroke="#3a0c09" stroke-width="0.55" stroke-linecap="round"/>
<path d="M531.0,569.0 L538.0,569.0 L544.0,565.0 L549.0,559.0 L558.0,557.0 L560.0,569.0 L566.0,577.0 L570.0,593.0 L566.0,607.0 L556.0,611.0 L540.0,613.0 L524.0,613.0 L525.0,607.0 L528.0,599.0 L530.0,593.0 L526.0,587.0 L528.0,577.0Z" fill="#cb3226" stroke="#cb3226" stroke-width="0.7"/>
<path d="M531.0,569.0L538.0,569.0M538.0,569.0L544.0,565.0M544.0,565.0L549.0,559.0M549.0,559.0L558.0,557.0M558.0,557.0L560.0,569.0M560.0,569.0L566.0,577.0M566.0,577.0L570.0,593.0M570.0,593.0L566.0,607.0M566.0,607.0L556.0,611.0M556.0,611.0L540.0,613.0M540.0,613.0L524.0,613.0M524.0,613.0L525.0,607.0M525.0,607.0L528.0,599.0M528.0,599.0L530.0,593.0M530.0,593.0L526.0,587.0M526.0,587.0L528.0,577.0M528.0,577.0L531.0,569.0" fill="none" stroke="#3a0c09" stroke-width="0.55" stroke-linecap="round"/>
<path d="M550.0,565.0 L558.0,561.0 L564.0,573.0 L566.0,585.0 L568.0,597.0 L564.0,609.0 L558.0,609.0 L556.0,597.0 L552.0,585.0 L548.0,575.0Z" fill="#e7695d" stroke="#e7695d" stroke-width="0.7"/>
<path d="M550.0,565.0L558.0,561.0M558.0,561.0L564.0,573.0M564.0,573.0L566.0,585.0M566.0,585.0L568.0,597.0M568.0,597.0L564.0,609.0M564.0,609.0L558.0,609.0M558.0,609.0L556.0,597.0M556.0,597.0L552.0,585.0M552.0,585.0L548.0,575.0M548.0,575.0L550.0,565.0" fill="none" stroke="#3a0c09" stroke-width="0.55" stroke-linecap="round"/>
<path d="M558.0,557.0 L564.0,551.0 L574.0,551.0 L576.0,561.0 L580.0,571.0 L578.0,583.0 L570.0,593.0 L566.0,577.0 L560.0,569.0Z" fill="#9c271b" stroke="#9c271b" stroke-width="0.7"/>
<path d="M558.0,557.0L564.0,551.0M564.0,551.0L574.0,551.0M574.0,551.0L576.0,561.0M576.0,561.0L580.0,571.0M580.0,571.0L578.0,583.0M578.0,583.0L570.0,593.0M570.0,593.0L566.0,577.0M566.0,577.0L560.0,569.0M560.0,569.0L558.0,557.0" fill="none" stroke="#3a0c09" stroke-width="0.55" stroke-linecap="round"/>
<path d="M576.0,543.0 L588.0,539.0 L600.0,547.0 L600.0,561.0 L608.0,567.0 L620.0,567.0 L628.0,573.0 L630.0,585.0 L636.0,597.0 L639.6,605.0 L639.6,635.0 L632.0,639.0 L626.0,631.0 L614.0,629.0 L606.0,623.0 L600.0,615.0 L602.0,605.0 L592.0,601.0 L584.0,597.0 L582.0,585.0 L580.0,571.0 L576.0,561.0 L574.0,551.0Z" fill="#420f0b" stroke="#420f0b" stroke-width="0.7"/>
<path d="M576.0,543.0L588.0,539.0M588.0,539.0L600.0,547.0M600.0,547.0L600.0,561.0M600.0,561.0L608.0,567.0M608.0,567.0L620.0,567.0M620.0,567.0L628.0,573.0M628.0,573.0L630.0,585.0M630.0,585.0L636.0,597.0M636.0,597.0L639.6,605.0M639.6,635.0L632.0,639.0M632.0,639.0L626.0,631.0M626.0,631.0L614.0,629.0M614.0,629.0L606.0,623.0M606.0,623.0L600.0,615.0M600.0,615.0L602.0,605.0M602.0,605.0L592.0,601.0M592.0,601.0L584.0,597.0M584.0,597.0L582.0,585.0M582.0,585.0L580.0,571.0M580.0,571.0L576.0,561.0M576.0,561.0L574.0,551.0M574.0,551.0L576.0,543.0" fill="none" stroke="#3a0c09" stroke-width="0.55" stroke-linecap="round"/>
<path d="M600.0,547.0 L610.0,551.0 L616.0,543.0 L626.0,549.0 L628.0,559.0 L620.0,567.0 L608.0,567.0 L600.0,561.0Z" fill="#cb3226" stroke="#cb3226" stroke-width="0.7"/>
<path d="M600.0,547.0L610.0,551.0M610.0,551.0L616.0,543.0M616.0,543.0L626.0,549.0M626.0,549.0L628.0,559.0M628.0,559.0L620.0,567.0M620.0,567.0L608.0,567.0M608.0,567.0L600.0,561.0M600.0,561.0L600.0,547.0" fill="none" stroke="#3a0c09" stroke-width="0.55" stroke-linecap="round"/>
<path d="M620.0,539.0 L639.6,539.0 L639.6,605.0 L636.0,597.0 L630.0,585.0 L628.0,573.0 L620.0,567.0 L628.0,559.0 L626.0,549.0Z" fill="#801f16" stroke="#801f16" stroke-width="0.7"/>
<path d="M639.6,605.0L636.0,597.0M636.0,597.0L630.0,585.0M630.0,585.0L628.0,573.0M628.0,573.0L620.0,567.0M620.0,567.0L628.0,559.0M628.0,559.0L626.0,549.0M626.0,549.0L620.0,539.0" fill="none" stroke="#3a0c09" stroke-width="0.55" stroke-linecap="round"/>
<path d="M570.0,593.0 L578.0,583.0 L582.0,585.0 L584.0,597.0 L592.0,601.0 L602.0,605.0 L600.0,615.0 L606.0,623.0 L600.0,627.0 L594.0,631.0 L586.0,637.0 L576.0,635.0 L570.0,633.0 L566.0,625.0 L560.0,629.0 L554.0,625.0 L556.0,619.0 L566.0,615.0 L566.0,607.0Z" fill="#801f16" stroke="#801f16" stroke-width="0.7"/>
<path d="M570.0,593.0L578.0,583.0M578.0,583.0L582.0,585.0M582.0,585.0L584.0,597.0M584.0,597.0L592.0,601.0M592.0,601.0L602.0,605.0M602.0,605.0L600.0,615.0M600.0,615.0L606.0,623.0M606.0,623.0L600.0,627.0M600.0,627.0L594.0,631.0M594.0,631.0L586.0,637.0M586.0,637.0L576.0,635.0M576.0,635.0L570.0,633.0M570.0,633.0L566.0,625.0M566.0,625.0L560.0,629.0M560.0,629.0L554.0,625.0M554.0,625.0L556.0,619.0M556.0,619.0L566.0,615.0M566.0,615.0L566.0,607.0M566.0,607.0L570.0,593.0" fill="none" stroke="#3a0c09" stroke-width="0.55" stroke-linecap="round"/>
<path d="M512.0,616.0 L524.0,613.0 L540.0,613.0 L556.0,611.0 L566.0,607.0 L566.0,615.0 L556.0,619.0 L554.0,625.0 L560.0,629.0 L566.0,625.0 L570.0,633.0 L576.0,635.0 L586.0,637.0 L594.0,631.0 L600.0,627.0 L606.0,623.0 L614.0,629.0 L626.0,631.0 L632.0,639.0 L639.6,635.0 L639.6,661.0 L547.0,661.0 L548.0,647.0 L540.0,645.0 L528.0,639.0 L520.0,629.0Z" fill="#cb3226" stroke="#cb3226" stroke-width="0.7"/>
<path d="M512.0,616.0L524.0,613.0M524.0,613.0L540.0,613.0M540.0,613.0L556.0,611.0M556.0,611.0L566.0,607.0M566.0,607.0L566.0,615.0M566.0,615.0L556.0,619.0M556.0,619.0L554.0,625.0M554.0,625.0L560.0,629.0M560.0,629.0L566.0,625.0M566.0,625.0L570.0,633.0M570.0,633.0L576.0,635.0M576.0,635.0L586.0,637.0M586.0,637.0L594.0,631.0M594.0,631.0L600.0,627.0M600.0,627.0L606.0,623.0M606.0,623.0L614.0,629.0M614.0,629.0L626.0,631.0M626.0,631.0L632.0,639.0M632.0,639.0L639.6,635.0M639.6,661.0L547.0,661.0M547.0,661.0L548.0,647.0M548.0,647.0L540.0,645.0M540.0,645.0L528.0,639.0M528.0,639.0L520.0,629.0M520.0,629.0L512.0,616.0" fill="none" stroke="#3a0c09" stroke-width="0.55" stroke-linecap="round"/>
<path d="M532.0,539.0 L556.0,539.0 L558.0,547.0 L550.0,551.0 L544.0,545.0 L536.0,541.0Z" fill="#f3a69e" stroke="#f3a69e" stroke-width="0.7"/>
<path d="M556.0,539.0L558.0,547.0M558.0,547.0L550.0,551.0M550.0,551.0L544.0,545.0M544.0,545.0L536.0,541.0M536.0,541.0L532.0,539.0" fill="none" stroke="#3a0c09" stroke-width="0.55" stroke-linecap="round"/>
<path d="M556.0,539.0 L580.0,539.0 L572.0,545.0 L558.0,547.0Z" fill="#f9d6d2" stroke="#f9d6d2" stroke-width="0.7"/>
<path d="M580.0,539.0L572.0,545.0M572.0,545.0L558.0,547.0M558.0,547.0L556.0,539.0" fill="none" stroke="#3a0c09" stroke-width="0.55" stroke-linecap="round"/>
<path d="M550.0,551.0 L558.0,547.0 L572.0,545.0 L576.0,543.0 L574.0,551.0 L564.0,551.0 L558.0,557.0 L549.0,559.0Z" fill="#cb3226" stroke="#cb3226" stroke-width="0.7"/>
<path d="M550.0,551.0L558.0,547.0M558.0,547.0L572.0,545.0M572.0,545.0L576.0,543.0M576.0,543.0L574.0,551.0M574.0,551.0L564.0,551.0M564.0,551.0L558.0,557.0M558.0,557.0L549.0,559.0M549.0,559.0L550.0,551.0" fill="none" stroke="#3a0c09" stroke-width="0.55" stroke-linecap="round"/>
<path d="M400.0,539.0 L428.0,539.0 L428.0,546.0 L410.0,545.0 L400.0,547.0Z" fill="#e7695d" stroke="#e7695d" stroke-width="0.7"/>
<path d="M428.0,539.0L428.0,546.0M428.0,546.0L410.0,545.0M410.0,545.0L400.0,547.0" fill="none" stroke="#3a0c09" stroke-width="0.55" stroke-linecap="round"/>
<path d="M626.0,539.0 L642.0,539.0 L645.0,551.0 L644.0,559.0 L648.0,569.0 L658.0,572.0 L662.0,579.0 L670.0,583.0 L680.0,589.0 L688.0,593.0 L694.0,601.0 L703.0,606.0 L702.0,617.0 L696.0,627.0 L700.0,633.0 L704.0,638.0 L696.0,643.0 L686.0,649.0 L680.0,655.0 L676.0,661.0 L648.0,661.0 L652.0,656.0 L668.0,653.0 L667.0,641.0 L660.0,638.0 L648.0,637.0 L634.0,639.0 L635.0,629.0 L631.0,623.0 L632.0,613.0 L640.0,605.0 L635.0,597.0 L632.0,587.0 L629.0,577.0 L628.0,569.0 L626.0,559.0 L628.0,551.0Z" fill="#801f16" stroke="#801f16" stroke-width="0.7"/>
<path d="M642.0,539.0L645.0,551.0M645.0,551.0L644.0,559.0M644.0,559.0L648.0,569.0M648.0,569.0L658.0,572.0M658.0,572.0L662.0,579.0M662.0,579.0L670.0,583.0M670.0,583.0L680.0,589.0M680.0,589.0L688.0,593.0M688.0,593.0L694.0,601.0M694.0,601.0L703.0,606.0M703.0,606.0L702.0,617.0M702.0,617.0L696.0,627.0M696.0,627.0L700.0,633.0M700.0,633.0L704.0,638.0M704.0,638.0L696.0,643.0M696.0,643.0L686.0,649.0M686.0,649.0L680.0,655.0M680.0,655.0L676.0,661.0M676.0,661.0L648.0,661.0M648.0,661.0L652.0,656.0M652.0,656.0L668.0,653.0M668.0,653.0L667.0,641.0M667.0,641.0L660.0,638.0M660.0,638.0L648.0,637.0M648.0,637.0L634.0,639.0M634.0,639.0L635.0,629.0M635.0,629.0L631.0,623.0M631.0,623.0L632.0,613.0M632.0,613.0L640.0,605.0M640.0,605.0L635.0,597.0M635.0,597.0L632.0,587.0M632.0,587.0L629.0,577.0M629.0,577.0L628.0,569.0M628.0,569.0L626.0,559.0M626.0,559.0L628.0,551.0M628.0,551.0L626.0,539.0" fill="none" stroke="#3a0c09" stroke-width="0.55" stroke-linecap="round"/>
<path d="M576.0,551.0 L588.0,539.0 L626.0,539.0 L628.0,551.0 L626.0,559.0 L616.0,567.0 L628.0,569.0 L629.0,577.0 L632.0,587.0 L635.0,597.0 L640.0,605.0 L632.0,613.0 L631.0,623.0 L635.0,629.0 L634.0,639.0 L628.0,633.0 L616.0,630.0 L612.0,625.0 L604.0,626.0 L599.0,619.0 L600.0,609.0 L594.0,601.0 L586.0,595.0 L582.0,585.0 L584.0,577.0 L578.0,569.0 L576.0,559.0Z" fill="#420f0b" stroke="#420f0b" stroke-width="0.7"/>
<path d="M576.0,551.0L588.0,539.0M626.0,539.0L628.0,551.0M628.0,551.0L626.0,559.0M626.0,559.0L616.0,567.0M616.0,567.0L628.0,569.0M628.0,569.0L629.0,577.0M629.0,577.0L632.0,587.0M632.0,587.0L635.0,597.0M635.0,597.0L640.0,605.0M640.0,605.0L632.0,613.0M632.0,613.0L631.0,623.0M631.0,623.0L635.0,629.0M635.0,629.0L634.0,639.0M634.0,639.0L628.0,633.0M628.0,633.0L616.0,630.0M616.0,630.0L612.0,625.0M612.0,625.0L604.0,626.0M604.0,626.0L599.0,619.0M599.0,619.0L600.0,609.0M600.0,609.0L594.0,601.0M594.0,601.0L586.0,595.0M586.0,595.0L582.0,585.0M582.0,585.0L584.0,577.0M584.0,577.0L578.0,569.0M578.0,569.0L576.0,559.0M576.0,559.0L576.0,551.0" fill="none" stroke="#3a0c09" stroke-width="0.55" stroke-linecap="round"/>
<path d="M600.0,547.0 L610.0,551.0 L616.0,543.0 L626.0,549.0 L628.0,559.0 L620.0,567.0 L608.0,566.0 L602.0,561.0Z" fill="#cb3226" stroke="#cb3226" stroke-width="0.7"/>
<path d="M600.0,547.0L610.0,551.0M610.0,551.0L616.0,543.0M616.0,543.0L626.0,549.0M626.0,549.0L628.0,559.0M628.0,559.0L620.0,567.0M620.0,567.0L608.0,566.0M608.0,566.0L602.0,561.0M602.0,561.0L600.0,547.0" fill="none" stroke="#3a0c09" stroke-width="0.55" stroke-linecap="round"/>
<path d="M520.0,615.0 L540.0,611.0 L564.0,610.0 L568.0,619.0 L566.0,627.0 L570.0,635.0 L580.0,639.0 L590.0,633.0 L596.0,625.0 L604.0,626.0 L612.0,625.0 L616.0,630.0 L628.0,633.0 L634.0,639.0 L648.0,637.0 L660.0,638.0 L667.0,641.0 L668.0,653.0 L652.0,656.0 L648.0,661.0 L547.0,661.0 L548.0,647.0 L540.0,643.0 L530.0,637.0 L520.0,629.0Z" fill="#cb3226" stroke="#cb3226" stroke-width="0.7"/>
<path d="M520.0,615.0L540.0,611.0M540.0,611.0L564.0,610.0M564.0,610.0L568.0,619.0M568.0,619.0L566.0,627.0M566.0,627.0L570.0,635.0M570.0,635.0L580.0,639.0M580.0,639.0L590.0,633.0M590.0,633.0L596.0,625.0M596.0,625.0L604.0,626.0M604.0,626.0L612.0,625.0M612.0,625.0L616.0,630.0M616.0,630.0L628.0,633.0M628.0,633.0L634.0,639.0M634.0,639.0L648.0,637.0M648.0,637.0L660.0,638.0M660.0,638.0L667.0,641.0M667.0,641.0L668.0,653.0M668.0,653.0L652.0,656.0M652.0,656.0L648.0,661.0M648.0,661.0L547.0,661.0M547.0,661.0L548.0,647.0M548.0,647.0L540.0,643.0M540.0,643.0L530.0,637.0M530.0,637.0L520.0,629.0" fill="none" stroke="#3a0c09" stroke-width="0.55" stroke-linecap="round"/>
<path d="M570.0,593.0 L578.0,581.0 L582.0,585.0 L586.0,595.0 L594.0,601.0 L600.0,609.0 L599.0,619.0 L604.0,626.0 L596.0,625.0 L590.0,633.0 L580.0,639.0 L570.0,635.0 L566.0,627.0 L568.0,619.0 L564.0,610.0 L566.0,599.0Z" fill="#801f16" stroke="#801f16" stroke-width="0.7"/>
<path d="M570.0,593.0L578.0,581.0M578.0,581.0L582.0,585.0M582.0,585.0L586.0,595.0M586.0,595.0L594.0,601.0M594.0,601.0L600.0,609.0M600.0,609.0L599.0,619.0M599.0,619.0L604.0,626.0M604.0,626.0L596.0,625.0M596.0,625.0L590.0,633.0M590.0,633.0L580.0,639.0M580.0,639.0L570.0,635.0M570.0,635.0L566.0,627.0M566.0,627.0L568.0,619.0M568.0,619.0L564.0,610.0M564.0,610.0L566.0,599.0M566.0,599.0L570.0,593.0" fill="none" stroke="#3a0c09" stroke-width="0.55" stroke-linecap="round"/>
<path d="M558.0,557.0 L564.0,551.0 L574.0,551.0 L576.0,559.0 L578.0,569.0 L584.0,577.0 L582.0,585.0 L578.0,581.0 L570.0,593.0 L566.0,583.0 L560.0,571.0Z" fill="#9c271b" stroke="#9c271b" stroke-width="0.7"/>
<path d="M558.0,557.0L564.0,551.0M564.0,551.0L574.0,551.0M574.0,551.0L576.0,559.0M576.0,559.0L578.0,569.0M578.0,569.0L584.0,577.0M584.0,577.0L582.0,585.0M582.0,585.0L578.0,581.0M578.0,581.0L570.0,593.0M570.0,593.0L566.0,583.0M566.0,583.0L560.0,571.0M560.0,571.0L558.0,557.0" fill="none" stroke="#3a0c09" stroke-width="0.55" stroke-linecap="round"/>
<path d="M616.0,530.0 L630.0,527.0 L637.0,526.0 L640.0,532.0 L642.0,540.0 L645.0,552.0 L644.0,560.0 L628.0,560.0 L626.0,544.0 L624.0,529.0Z" fill="#691912" stroke="#691912" stroke-width="0.7"/>
<path d="M616.0,530.0L630.0,527.0M630.0,527.0L637.0,526.0M637.0,526.0L640.0,532.0M640.0,532.0L642.0,540.0M642.0,540.0L645.0,552.0M645.0,552.0L644.0,560.0M644.0,560.0L628.0,560.0M628.0,560.0L626.0,544.0M626.0,544.0L624.0,529.0M624.0,529.0L616.0,530.0" fill="none" stroke="#3a0c09" stroke-width="0.55" stroke-linecap="round"/>
<path d="M576.0,524.0 L580.0,530.0 L588.0,534.0 L600.0,534.0 L616.0,530.0 L624.0,529.0 L626.0,544.0 L580.0,544.0Z" fill="#420f0b" stroke="#420f0b" stroke-width="0.7"/>
<path d="M576.0,524.0L580.0,530.0M580.0,530.0L588.0,534.0M588.0,534.0L600.0,534.0M600.0,534.0L616.0,530.0M616.0,530.0L624.0,529.0M624.0,529.0L626.0,544.0M626.0,544.0L580.0,544.0M580.0,544.0L576.0,524.0" fill="none" stroke="#3a0c09" stroke-width="0.55" stroke-linecap="round"/>
<path d="M572.4,560.0 L579.0,561.0 L578.0,565.0 L573.0,564.4Z" fill="#f9d6d2" stroke="#f9d6d2" stroke-width="0.7"/>
<path d="M572.4,560.0L579.0,561.0M579.0,561.0L578.0,565.0M578.0,565.0L573.0,564.4M573.0,564.4L572.4,560.0" fill="none" stroke="#3a0c09" stroke-width="0.55" stroke-linecap="round"/>
<path d="M135.2,90.0 L188.0,90.0 L190.4,99.4 L193.9,109.9 L192.7,111.1 L186.8,112.3 L184.5,117.0 L182.1,122.8 L177.5,125.2 L173.9,129.9 L169.2,134.6 L163.4,135.7 L158.7,134.6 L157.5,128.7 L156.3,120.5 L155.2,113.5 L154.0,108.8 L149.3,106.4 L143.5,105.2 L135.2,105.2 L135.2,97.0Z" fill="#e7695d" stroke="#e7695d" stroke-width="0.7"/>
<path d="M188.0,90.0L190.4,99.4M190.4,99.4L193.9,109.9M193.9,109.9L192.7,111.1M192.7,111.1L186.8,112.3M186.8,112.3L184.5,117.0M184.5,117.0L182.1,122.8M182.1,122.8L177.5,125.2M177.5,125.2L173.9,129.9M173.9,129.9L169.2,134.6M169.2,134.6L163.4,135.7M163.4,135.7L158.7,134.6M158.7,134.6L157.5,128.7M157.5,128.7L156.3,120.5M156.3,120.5L155.2,113.5M155.2,113.5L154.0,108.8M154.0,108.8L149.3,106.4M149.3,106.4L143.5,105.2M143.5,105.2L135.2,105.2M135.2,105.2L135.2,97.0M135.2,97.0L135.2,90.0" fill="none" stroke="#3a0c09" stroke-width="0.55" stroke-linecap="round"/>
<path d="M120.0,90.0 L135.2,90.0 L135.2,97.0 L134.1,101.7 L127.0,100.6 L120.0,101.7Z" fill="#57160f" stroke="#57160f" stroke-width="0.7"/>
<path d="M135.2,90.0L135.2,97.0M135.2,97.0L134.1,101.7M134.1,101.7L127.0,100.6M127.0,100.6L120.0,101.7" fill="none" stroke="#3a0c09" stroke-width="0.55" stroke-linecap="round"/>
<path d="M120.0,101.7 L127.0,100.6 L134.1,101.7 L135.2,105.2 L139.9,107.6 L138.8,112.3 L135.2,114.6 L129.4,117.0 L124.7,119.3 L122.3,124.0 L120.0,128.7Z" fill="#cb3226" stroke="#cb3226" stroke-width="0.7"/>
<path d="M120.0,101.7L127.0,100.6M127.0,100.6L134.1,101.7M134.1,101.7L135.2,105.2M135.2,105.2L139.9,107.6M139.9,107.6L138.8,112.3M138.8,112.3L135.2,114.6M135.2,114.6L129.4,117.0M129.4,117.0L124.7,119.3M124.7,119.3L122.3,124.0M122.3,124.0L120.0,128.7" fill="none" stroke="#3a0c09" stroke-width="0.55" stroke-linecap="round"/>
<path d="M135.2,105.2 L143.5,105.2 L149.3,106.4 L149.3,115.8 L148.1,122.8 L145.8,129.9 L147.0,134.6 L145.8,141.6 L147.0,148.6 L145.8,155.7 L142.3,159.2 L148.1,162.7 L149.3,169.0 L120.0,169.0 L120.0,128.7 L122.3,124.0 L124.7,119.3 L129.4,117.0 L135.2,114.6 L138.8,112.3 L139.9,107.6Z" fill="#9c271b" stroke="#9c271b" stroke-width="0.7"/>
<path d="M135.2,105.2L143.5,105.2M143.5,105.2L149.3,106.4M149.3,106.4L149.3,115.8M149.3,115.8L148.1,122.8M148.1,122.8L145.8,129.9M145.8,129.9L147.0,134.6M147.0,134.6L145.8,141.6M145.8,141.6L147.0,148.6M147.0,148.6L145.8,155.7M145.8,155.7L142.3,159.2M142.3,159.2L148.1,162.7M148.1,162.7L149.3,169.0M120.0,128.7L122.3,124.0M122.3,124.0L124.7,119.3M124.7,119.3L129.4,117.0M129.4,117.0L135.2,114.6M135.2,114.6L138.8,112.3M138.8,112.3L139.9,107.6M139.9,107.6L135.2,105.2" fill="none" stroke="#3a0c09" stroke-width="0.55" stroke-linecap="round"/>
<path d="M149.3,106.4 L154.0,108.8 L155.2,113.5 L156.3,120.5 L157.5,128.7 L158.7,134.6 L161.0,139.2 L164.6,142.8 L166.9,148.6 L168.1,154.5 L169.2,159.2 L166.9,163.9 L162.2,165.0 L158.7,169.0 L149.3,169.0 L148.1,162.7 L142.3,159.2 L145.8,155.7 L147.0,148.6 L145.8,141.6 L147.0,134.6 L145.8,129.9 L148.1,122.8 L149.3,115.8Z" fill="#f3a69e" stroke="#f3a69e" stroke-width="0.7"/>
<path d="M149.3,106.4L154.0,108.8M154.0,108.8L155.2,113.5M155.2,113.5L156.3,120.5M156.3,120.5L157.5,128.7M157.5,128.7L158.7,134.6M158.7,134.6L161.0,139.2M161.0,139.2L164.6,142.8M164.6,142.8L166.9,148.6M166.9,148.6L168.1,154.5M168.1,154.5L169.2,159.2M169.2,159.2L166.9,163.9M166.9,163.9L162.2,165.0M162.2,165.0L158.7,169.0M149.3,169.0L148.1,162.7M148.1,162.7L142.3,159.2M142.3,159.2L145.8,155.7M145.8,155.7L147.0,148.6M147.0,148.6L145.8,141.6M145.8,141.6L147.0,134.6M147.0,134.6L145.8,129.9M145.8,129.9L148.1,122.8M148.1,122.8L149.3,115.8M149.3,115.8L149.3,106.4" fill="none" stroke="#3a0c09" stroke-width="0.55" stroke-linecap="round"/>
<path d="M147.0,148.6 L154.0,155.7 L158.7,160.4 L162.2,165.0 L158.7,169.0 L149.3,169.0 L148.1,162.7 L142.3,159.2 L145.8,155.7Z" fill="#f3a69e" stroke="#f3a69e" stroke-width="0.7"/>
<path d="M147.0,148.6L154.0,155.7M154.0,155.7L158.7,160.4M158.7,160.4L162.2,165.0M162.2,165.0L158.7,169.0M149.3,169.0L148.1,162.7M148.1,162.7L142.3,159.2M142.3,159.2L145.8,155.7M145.8,155.7L147.0,148.6" fill="none" stroke="#3a0c09" stroke-width="0.55" stroke-linecap="round"/>
<path d="M184.5,117.0 L186.8,112.3 L192.7,111.1 L193.9,109.9 L197.4,118.1 L202.1,125.2 L199.7,127.5 L195.0,127.5 L190.4,129.9 L185.7,129.9 L182.1,128.7 L181.0,125.2 L183.3,122.8Z" fill="#f9d6d2" stroke="#f9d6d2" stroke-width="0.7"/>
<path d="M184.5,117.0L186.8,112.3M186.8,112.3L192.7,111.1M192.7,111.1L193.9,109.9M193.9,109.9L197.4,118.1M197.4,118.1L202.1,125.2M202.1,125.2L199.7,127.5M199.7,127.5L195.0,127.5M195.0,127.5L190.4,129.9M190.4,129.9L185.7,129.9M185.7,129.9L182.1,128.7M182.1,128.7L181.0,125.2M181.0,125.2L183.3,122.8M183.3,122.8L184.5,117.0" fill="none" stroke="#3a0c09" stroke-width="0.55" stroke-linecap="round"/>
<path d="M177.5,125.2 L182.1,122.8 L181.0,125.2 L182.1,128.7 L183.3,133.4 L181.0,136.9 L182.1,140.4 L179.8,143.9 L176.3,148.6 L173.9,145.1 L172.8,139.2 L171.6,135.7 L169.2,134.6 L173.9,129.9Z" fill="#f3a69e" stroke="#f3a69e" stroke-width="0.7"/>
<path d="M177.5,125.2L182.1,122.8M182.1,122.8L181.0,125.2M181.0,125.2L182.1,128.7M182.1,128.7L183.3,133.4M183.3,133.4L181.0,136.9M181.0,136.9L182.1,140.4M182.1,140.4L179.8,143.9M179.8,143.9L176.3,148.6M176.3,148.6L173.9,145.1M173.9,145.1L172.8,139.2M172.8,139.2L171.6,135.7M171.6,135.7L169.2,134.6M169.2,134.6L173.9,129.9M173.9,129.9L177.5,125.2" fill="none" stroke="#3a0c09" stroke-width="0.55" stroke-linecap="round"/>
<path d="M185.7,129.9 L190.4,129.9 L195.0,127.5 L199.7,127.5 L203.2,129.9 L204.4,134.6 L202.1,135.7 L197.4,134.6 L192.7,136.9 L188.0,138.1 L183.3,136.9 L183.3,133.4 L182.1,128.7Z" fill="#f3a69e" stroke="#f3a69e" stroke-width="0.7"/>
<path d="M185.7,129.9L190.4,129.9M190.4,129.9L195.0,127.5M195.0,127.5L199.7,127.5M199.7,127.5L203.2,129.9M203.2,129.9L204.4,134.6M204.4,134.6L202.1,135.7M202.1,135.7L197.4,134.6M197.4,134.6L192.7,136.9M192.7,136.9L188.0,138.1M188.0,138.1L183.3,136.9M183.3,136.9L183.3,133.4M183.3,133.4L182.1,128.7M182.1,128.7L185.7,129.9" fill="none" stroke="#3a0c09" stroke-width="0.55" stroke-linecap="round"/>
<path d="M202.1,125.2 L206.8,128.7 L211.5,127.5 L213.8,131.0 L212.6,136.9 L209.1,135.7 L205.6,139.2 L202.1,135.7 L204.4,134.6 L203.2,129.9Z" fill="#f9d6d2" stroke="#f9d6d2" stroke-width="0.7"/>
<path d="M202.1,125.2L206.8,128.7M206.8,128.7L211.5,127.5M211.5,127.5L213.8,131.0M213.8,131.0L212.6,136.9M212.6,136.9L209.1,135.7M209.1,135.7L205.6,139.2M205.6,139.2L202.1,135.7M202.1,135.7L204.4,134.6M204.4,134.6L203.2,129.9M203.2,129.9L202.1,125.2" fill="none" stroke="#3a0c09" stroke-width="0.55" stroke-linecap="round"/>
<path d="M183.3,136.9 L188.0,138.1 L192.7,136.9 L197.4,134.6 L202.1,135.7 L205.6,139.2 L203.2,142.8 L199.7,146.3 L195.0,145.1 L190.4,143.9 L185.7,145.1 L181.0,143.9 L182.1,140.4 L181.0,136.9Z" fill="#f9d6d2" stroke="#f9d6d2" stroke-width="0.7"/>
<path d="M183.3,136.9L188.0,138.1M188.0,138.1L192.7,136.9M192.7,136.9L197.4,134.6M197.4,134.6L202.1,135.7M202.1,135.7L205.6,139.2M205.6,139.2L203.2,142.8M203.2,142.8L199.7,146.3M199.7,146.3L195.0,145.1M195.0,145.1L190.4,143.9M190.4,143.9L185.7,145.1M185.7,145.1L181.0,143.9M181.0,143.9L182.1,140.4M182.1,140.4L181.0,136.9M181.0,136.9L183.3,136.9" fill="none" stroke="#3a0c09" stroke-width="0.55" stroke-linecap="round"/>
<path d="M163.4,135.7 L169.2,134.6 L171.6,135.7 L172.8,139.2 L173.9,145.1 L171.6,146.3 L169.2,142.8 L166.9,139.2 L164.6,140.4 L161.0,136.3Z" fill="#f3a69e" stroke="#f3a69e" stroke-width="0.7"/>
<path d="M163.4,135.7L169.2,134.6M169.2,134.6L171.6,135.7M171.6,135.7L172.8,139.2M172.8,139.2L173.9,145.1M173.9,145.1L171.6,146.3M171.6,146.3L169.2,142.8M169.2,142.8L166.9,139.2M166.9,139.2L164.6,140.4M164.6,140.4L161.0,136.3M161.0,136.3L163.4,135.7" fill="none" stroke="#3a0c09" stroke-width="0.55" stroke-linecap="round"/>
<path d="M158.7,136.9 L161.0,136.3 L164.6,140.4 L166.9,139.2 L169.2,142.8 L170.4,151.0 L171.6,153.3 L169.2,154.5 L166.9,148.6 L164.6,142.8 L161.0,139.2Z" fill="#ffffff" stroke="#ffffff" stroke-width="0.7"/>
<path d="M158.7,136.9L161.0,136.3M161.0,136.3L164.6,140.4M164.6,140.4L166.9,139.2M166.9,139.2L169.2,142.8M169.2,142.8L170.4,151.0M170.4,151.0L171.6,153.3M171.6,153.3L169.2,154.5M169.2,154.5L166.9,148.6M166.9,148.6L164.6,142.8M164.6,142.8L161.0,139.2M161.0,139.2L158.7,136.9" fill="none" stroke="#3a0c09" stroke-width="0.55" stroke-linecap="round"/>
<path d="M181.0,143.9 L185.7,145.1 L190.4,143.9 L195.0,145.1 L199.7,146.3 L203.2,148.6 L200.9,151.0 L195.0,153.3 L190.4,155.7 L185.7,154.5 L183.3,151.0 L181.0,147.5Z" fill="#9c271b" stroke="#9c271b" stroke-width="0.7"/>
<path d="M181.0,143.9L185.7,145.1M185.7,145.1L190.4,143.9M190.4,143.9L195.0,145.1M195.0,145.1L199.7,146.3M199.7,146.3L203.2,148.6M203.2,148.6L200.9,151.0M200.9,151.0L195.0,153.3M195.0,153.3L190.4,155.7M190.4,155.7L185.7,154.5M185.7,154.5L183.3,151.0M183.3,151.0L181.0,147.5M181.0,147.5L181.0,143.9" fill="none" stroke="#3a0c09" stroke-width="0.55" stroke-linecap="round"/>
<path d="M176.3,148.6 L179.8,143.9 L181.0,147.5 L183.3,151.0 L185.7,154.5 L190.4,155.7 L189.2,160.4 L185.7,162.7 L178.6,160.4 L172.8,161.5 L170.4,158.0 L171.6,153.3 L170.4,151.0 L171.6,146.3 L173.9,145.1Z" fill="#f3a69e" stroke="#f3a69e" stroke-width="0.7"/>
<path d="M176.3,148.6L179.8,143.9M179.8,143.9L181.0,147.5M181.0,147.5L183.3,151.0M183.3,151.0L185.7,154.5M185.7,154.5L190.4,155.7M190.4,155.7L189.2,160.4M189.2,160.4L185.7,162.7M185.7,162.7L178.6,160.4M178.6,160.4L172.8,161.5M172.8,161.5L170.4,158.0M170.4,158.0L171.6,153.3M171.6,153.3L170.4,151.0M170.4,151.0L171.6,146.3M171.6,146.3L173.9,145.1M173.9,145.1L176.3,148.6" fill="none" stroke="#3a0c09" stroke-width="0.55" stroke-linecap="round"/>
<path d="M205.6,139.2 L209.1,135.7 L212.6,136.9 L217.3,143.9 L222.0,151.0 L223.2,158.0 L226.7,169.0 L195.0,169.0 L190.4,162.7 L189.2,160.4 L190.4,155.7 L195.0,153.3 L200.9,151.0 L203.2,148.6 L199.7,146.3 L203.2,142.8Z" fill="#cb3226" stroke="#cb3226" stroke-width="0.7"/>
<path d="M205.6,139.2L209.1,135.7M209.1,135.7L212.6,136.9M212.6,136.9L217.3,143.9M217.3,143.9L222.0,151.0M222.0,151.0L223.2,158.0M223.2,158.0L226.7,169.0M195.0,169.0L190.4,162.7M190.4,162.7L189.2,160.4M189.2,160.4L190.4,155.7M190.4,155.7L195.0,153.3M195.0,153.3L200.9,151.0M200.9,151.0L203.2,148.6M203.2,148.6L199.7,146.3M199.7,146.3L203.2,142.8M203.2,142.8L205.6,139.2" fill="none" stroke="#3a0c09" stroke-width="0.55" stroke-linecap="round"/>
<path d="M172.8,161.5 L178.6,160.4 L185.7,162.7 L190.4,162.7 L195.0,169.0 L175.1,169.0 L171.6,165.0Z" fill="#9c271b" stroke="#9c271b" stroke-width="0.7"/>
<path d="M172.8,161.5L178.6,160.4M178.6,160.4L185.7,162.7M185.7,162.7L190.4,162.7M190.4,162.7L195.0,169.0M175.1,169.0L171.6,165.0M171.6,165.0L172.8,161.5" fill="none" stroke="#3a0c09" stroke-width="0.55" stroke-linecap="round"/>
<path d="M166.9,163.9 L169.2,159.2 L170.4,158.0 L172.8,161.5 L171.6,165.0 L175.1,169.0 L158.7,169.0 L162.2,165.0Z" fill="#e7695d" stroke="#e7695d" stroke-width="0.7"/>
<path d="M166.9,163.9L169.2,159.2M169.2,159.2L170.4,158.0M170.4,158.0L172.8,161.5M172.8,161.5L171.6,165.0M171.6,165.0L175.1,169.0M158.7,169.0L162.2,165.0M162.2,165.0L166.9,163.9" fill="none" stroke="#3a0c09" stroke-width="0.55" stroke-linecap="round"/>
<path d="M103.5,228.7 L109.9,229.3 L113.4,234.0 L110.5,238.7 L108.1,244.6 L106.4,250.4 L104.6,258.6 L103.5,266.8 L101.1,275.0 L92.9,272.7 L91.1,265.7 L85.3,256.3 L92.9,250.4 L95.2,243.4 L97.6,236.3 L99.3,231.7Z" fill="#b62d21" stroke="#b62d21" stroke-width="0.7"/>
<path d="M103.5,228.7L109.9,229.3M109.9,229.3L113.4,234.0M113.4,234.0L110.5,238.7M110.5,238.7L108.1,244.6M108.1,244.6L106.4,250.4M106.4,250.4L104.6,258.6M104.6,258.6L103.5,266.8M103.5,266.8L101.1,275.0M101.1,275.0L92.9,272.7M92.9,272.7L91.1,265.7M91.1,265.7L85.3,256.3M85.3,256.3L92.9,250.4M92.9,250.4L95.2,243.4M95.2,243.4L97.6,236.3M97.6,236.3L99.3,231.7M99.3,231.7L103.5,228.7" fill="none" stroke="#3a0c09" stroke-width="0.55" stroke-linecap="round"/>
<path d="M100.5,213.5 L104.6,210.0 L112.2,208.8 L114.6,214.1 L118.7,217.6 L126.3,217.0 L129.2,219.9 L132.8,224.6 L131.6,229.3 L126.9,230.5 L121.0,231.7 L115.2,229.9 L109.9,229.3 L105.2,227.0 L102.3,225.2 L97.6,228.1 L91.7,232.2 L90.0,232.8 L90.6,229.3 L94.1,225.2 L99.3,221.7Z" fill="#f9d6d2" stroke="#f9d6d2" stroke-width="0.7"/>
<path d="M100.5,213.5L104.6,210.0M104.6,210.0L112.2,208.8M112.2,208.8L114.6,214.1M114.6,214.1L118.7,217.6M118.7,217.6L126.3,217.0M126.3,217.0L129.2,219.9M129.2,219.9L132.8,224.6M132.8,224.6L131.6,229.3M131.6,229.3L126.9,230.5M126.9,230.5L121.0,231.7M121.0,231.7L115.2,229.9M115.2,229.9L109.9,229.3M109.9,229.3L105.2,227.0M105.2,227.0L102.3,225.2M102.3,225.2L97.6,228.1M97.6,228.1L91.7,232.2M91.7,232.2L90.0,232.8M90.0,232.8L90.6,229.3M90.6,229.3L94.1,225.2M94.1,225.2L99.3,221.7M99.3,221.7L100.5,213.5" fill="none" stroke="#3a0c09" stroke-width="0.55" stroke-linecap="round"/>
<path d="M113.4,234.0 L115.2,229.9 L121.0,231.7 L126.9,230.5 L130.4,232.8 L129.2,237.5 L126.9,241.0 L122.2,243.4 L116.3,245.7 L110.5,248.1 L108.1,244.6 L110.5,238.7Z" fill="#f3a69e" stroke="#f3a69e" stroke-width="0.7"/>
<path d="M113.4,234.0L115.2,229.9M115.2,229.9L121.0,231.7M121.0,231.7L126.9,230.5M126.9,230.5L130.4,232.8M130.4,232.8L129.2,237.5M129.2,237.5L126.9,241.0M126.9,241.0L122.2,243.4M122.2,243.4L116.3,245.7M116.3,245.7L110.5,248.1M110.5,248.1L108.1,244.6M108.1,244.6L110.5,238.7M110.5,238.7L113.4,234.0" fill="none" stroke="#3a0c09" stroke-width="0.55" stroke-linecap="round"/>
<path d="M108.1,244.6 L110.5,248.1 L116.3,245.7 L122.2,243.4 L126.9,241.0 L125.7,246.9 L123.4,251.6 L121.0,257.5 L117.5,262.1 L111.7,265.7 L104.6,266.8 L104.6,258.6 L106.4,250.4Z" fill="#f3a69e" stroke="#f3a69e" stroke-width="0.7"/>
<path d="M108.1,244.6L110.5,248.1M110.5,248.1L116.3,245.7M116.3,245.7L122.2,243.4M122.2,243.4L126.9,241.0M126.9,241.0L125.7,246.9M125.7,246.9L123.4,251.6M123.4,251.6L121.0,257.5M121.0,257.5L117.5,262.1M117.5,262.1L111.7,265.7M111.7,265.7L104.6,266.8M104.6,266.8L104.6,258.6M104.6,258.6L106.4,250.4M106.4,250.4L108.1,244.6" fill="none" stroke="#3a0c09" stroke-width="0.55" stroke-linecap="round"/>
<path d="M130.4,232.8 L131.6,229.3 L132.8,224.6 L136.3,227.0 L138.6,230.5 L139.8,235.2 L141.0,239.9 L138.6,244.6 L135.1,249.2 L129.2,251.6 L124.6,253.9 L121.0,257.5 L123.4,251.6 L125.7,246.9 L126.9,241.0 L129.2,237.5Z" fill="#f9d6d2" stroke="#f9d6d2" stroke-width="0.7"/>
<path d="M130.4,232.8L131.6,229.3M131.6,229.3L132.8,224.6M132.8,224.6L136.3,227.0M136.3,227.0L138.6,230.5M138.6,230.5L139.8,235.2M139.8,235.2L141.0,239.9M141.0,239.9L138.6,244.6M138.6,244.6L135.1,249.2M135.1,249.2L129.2,251.6M129.2,251.6L124.6,253.9M124.6,253.9L121.0,257.5M121.0,257.5L123.4,251.6M123.4,251.6L125.7,246.9M125.7,246.9L126.9,241.0M126.9,241.0L129.2,237.5M129.2,237.5L130.4,232.8" fill="none" stroke="#3a0c09" stroke-width="0.55" stroke-linecap="round"/>
<path d="M124.6,204.7 L131.6,204.1 L138.6,205.9 L139.8,211.7 L141.0,217.6 L143.3,221.1 L138.6,223.5 L132.8,224.6 L129.2,219.9 L126.3,217.0 L124.0,211.7Z" fill="#e7695d" stroke="#e7695d" stroke-width="0.7"/>
<path d="M124.6,204.7L131.6,204.1M131.6,204.1L138.6,205.9M138.6,205.9L139.8,211.7M139.8,211.7L141.0,217.6M141.0,217.6L143.3,221.1M143.3,221.1L138.6,223.5M138.6,223.5L132.8,224.6M132.8,224.6L129.2,219.9M129.2,219.9L126.3,217.0M126.3,217.0L124.0,211.7M124.0,211.7L124.6,204.7" fill="none" stroke="#3a0c09" stroke-width="0.55" stroke-linecap="round"/>
<path d="M138.6,205.9 L145.7,205.3 L150.4,205.9 L157.4,208.2 L164.4,209.4 L167.4,211.7 L166.2,218.8 L165.6,227.0 L167.9,235.2 L166.8,241.0 L162.1,245.7 L157.4,250.4 L153.9,249.2 L152.7,239.9 L149.2,235.2 L144.5,234.0 L141.0,238.7 L138.6,230.5 L136.3,227.0 L132.8,224.6 L138.6,223.5 L143.3,221.1 L141.0,217.6 L139.8,211.7Z" fill="#8d2219" stroke="#8d2219" stroke-width="0.7"/>
<path d="M138.6,205.9L145.7,205.3M145.7,205.3L150.4,205.9M150.4,205.9L157.4,208.2M157.4,208.2L164.4,209.4M164.4,209.4L167.4,211.7M167.4,211.7L166.2,218.8M166.2,218.8L165.6,227.0M165.6,227.0L167.9,235.2M167.9,235.2L166.8,241.0M166.8,241.0L162.1,245.7M162.1,245.7L157.4,250.4M157.4,250.4L153.9,249.2M153.9,249.2L152.7,239.9M152.7,239.9L149.2,235.2M149.2,235.2L144.5,234.0M144.5,234.0L141.0,238.7M141.0,238.7L138.6,230.5M138.6,230.5L136.3,227.0M136.3,227.0L132.8,224.6M132.8,224.6L138.6,223.5M138.6,223.5L143.3,221.1M143.3,221.1L141.0,217.6M141.0,217.6L139.8,211.7M139.8,211.7L138.6,205.9" fill="none" stroke="#3a0c09" stroke-width="0.55" stroke-linecap="round"/>
<path d="M186.1,215.8 L192.6,213.5 L201.9,211.7 L204.3,217.6 L201.9,225.8 L199.6,231.7 L191.4,234.0 L186.1,230.5 L184.9,224.6Z" fill="#cb3226" stroke="#cb3226" stroke-width="0.7"/>
<path d="M186.1,215.8L192.6,213.5M192.6,213.5L201.9,211.7M201.9,211.7L204.3,217.6M204.3,217.6L201.9,225.8M201.9,225.8L199.6,231.7M199.6,231.7L191.4,234.0M191.4,234.0L186.1,230.5M186.1,230.5L184.9,224.6M184.9,224.6L186.1,215.8" fill="none" stroke="#3a0c09" stroke-width="0.55" stroke-linecap="round"/>
<path d="M252.3,310.0 L269.9,310.0 L269.9,313.5 L265.2,312.3 L255.8,314.7 L252.3,318.2 L250.5,324.1 L246.4,321.7 L247.6,317.0Z" fill="#9c271b" stroke="#9c271b" stroke-width="0.7"/>
<path d="M269.9,310.0L269.9,313.5M269.9,313.5L265.2,312.3M265.2,312.3L255.8,314.7M255.8,314.7L252.3,318.2M252.3,318.2L250.5,324.1M250.5,324.1L246.4,321.7M246.4,321.7L247.6,317.0M247.6,317.0L252.3,310.0" fill="none" stroke="#3a0c09" stroke-width="0.55" stroke-linecap="round"/>
<path d="M246.4,321.7 L250.5,324.1 L248.8,331.1 L249.3,339.3 L252.3,342.8 L246.4,345.2 L245.2,349.9 L247.6,354.6 L245.2,359.2 L240.6,361.6 L237.0,356.9 L240.6,351.0 L240.0,344.0 L240.6,335.8 L242.9,327.6Z" fill="#e7695d" stroke="#e7695d" stroke-width="0.7"/>
<path d="M246.4,321.7L250.5,324.1M250.5,324.1L248.8,331.1M248.8,331.1L249.3,339.3M249.3,339.3L252.3,342.8M252.3,342.8L246.4,345.2M246.4,345.2L245.2,349.9M245.2,349.9L247.6,354.6M247.6,354.6L245.2,359.2M245.2,359.2L240.6,361.6M240.6,361.6L237.0,356.9M237.0,356.9L240.6,351.0M240.6,351.0L240.0,344.0M240.0,344.0L240.6,335.8M240.6,335.8L242.9,327.6M242.9,327.6L246.4,321.7" fill="none" stroke="#3a0c09" stroke-width="0.55" stroke-linecap="round"/>
<path d="M255.8,314.7 L265.2,312.3 L269.9,313.5 L272.2,317.0 L279.2,318.2 L282.8,321.7 L283.9,327.6 L279.2,329.9 L274.6,331.1 L268.7,333.5 L262.8,337.0 L257.0,340.5 L252.3,342.8 L249.3,339.3 L248.8,331.1 L250.5,324.1 L252.3,318.2Z" fill="#f9d6d2" stroke="#f9d6d2" stroke-width="0.7"/>
<path d="M255.8,314.7L265.2,312.3M265.2,312.3L269.9,313.5M269.9,313.5L272.2,317.0M272.2,317.0L279.2,318.2M279.2,318.2L282.8,321.7M282.8,321.7L283.9,327.6M283.9,327.6L279.2,329.9M279.2,329.9L274.6,331.1M274.6,331.1L268.7,333.5M268.7,333.5L262.8,337.0M262.8,337.0L257.0,340.5M257.0,340.5L252.3,342.8M252.3,342.8L249.3,339.3M249.3,339.3L248.8,331.1M248.8,331.1L250.5,324.1M250.5,324.1L252.3,318.2M252.3,318.2L255.8,314.7" fill="none" stroke="#3a0c09" stroke-width="0.55" stroke-linecap="round"/>
<path d="M283.9,327.6 L285.1,331.1 L281.6,335.8 L279.2,339.3 L271.0,341.7 L265.2,345.2 L260.5,347.5 L257.0,345.2 L257.0,340.5 L262.8,337.0 L268.7,333.5 L274.6,331.1 L279.2,329.9Z" fill="#9c271b" stroke="#9c271b" stroke-width="0.7"/>
<path d="M283.9,327.6L285.1,331.1M285.1,331.1L281.6,335.8M281.6,335.8L279.2,339.3M279.2,339.3L271.0,341.7M271.0,341.7L265.2,345.2M265.2,345.2L260.5,347.5M260.5,347.5L257.0,345.2M257.0,345.2L257.0,340.5M257.0,340.5L262.8,337.0M262.8,337.0L268.7,333.5M268.7,333.5L274.6,331.1M274.6,331.1L279.2,329.9M279.2,329.9L283.9,327.6" fill="none" stroke="#3a0c09" stroke-width="0.55" stroke-linecap="round"/>
<path d="M285.1,331.1 L288.6,333.5 L291.0,339.3 L292.1,344.0 L287.5,344.0 L283.9,341.7 L281.6,335.8Z" fill="#f9d6d2" stroke="#f9d6d2" stroke-width="0.7"/>
<path d="M285.1,331.1L288.6,333.5M288.6,333.5L291.0,339.3M291.0,339.3L292.1,344.0M292.1,344.0L287.5,344.0M287.5,344.0L283.9,341.7M283.9,341.7L281.6,335.8M281.6,335.8L285.1,331.1" fill="none" stroke="#3a0c09" stroke-width="0.55" stroke-linecap="round"/>
<path d="M269.9,310.0 L285.1,310.0 L283.9,315.9 L279.2,318.2 L272.2,317.0 L269.9,313.5Z" fill="#9c271b" stroke="#9c271b" stroke-width="0.7"/>
<path d="M285.1,310.0L283.9,315.9M283.9,315.9L279.2,318.2M279.2,318.2L272.2,317.0M272.2,317.0L269.9,313.5M269.9,313.5L269.9,310.0" fill="none" stroke="#3a0c09" stroke-width="0.55" stroke-linecap="round"/>
<path d="M285.1,310.0 L305.0,310.0 L306.2,314.7 L305.0,320.6 L302.7,326.4 L300.4,332.3 L299.2,337.0 L296.8,341.7 L293.3,344.0 L292.1,344.0 L291.0,339.3 L288.6,333.5 L285.1,331.1 L283.9,327.6 L282.8,321.7 L283.9,315.9Z" fill="#9c271b" stroke="#9c271b" stroke-width="0.7"/>
<path d="M305.0,310.0L306.2,314.7M306.2,314.7L305.0,320.6M305.0,320.6L302.7,326.4M302.7,326.4L300.4,332.3M300.4,332.3L299.2,337.0M299.2,337.0L296.8,341.7M296.8,341.7L293.3,344.0M293.3,344.0L292.1,344.0M292.1,344.0L291.0,339.3M291.0,339.3L288.6,333.5M288.6,333.5L285.1,331.1M285.1,331.1L283.9,327.6M283.9,327.6L282.8,321.7M282.8,321.7L283.9,315.9M283.9,315.9L285.1,310.0" fill="none" stroke="#3a0c09" stroke-width="0.55" stroke-linecap="round"/>
<path d="M306.2,310.0 L328.5,310.0 L333.2,317.0 L339.0,325.2 L335.5,329.9 L332.0,333.5 L329.7,331.1 L323.8,328.8 L320.3,325.2 L322.6,319.4 L319.1,315.9 L312.1,318.2 L306.2,320.6 L306.2,314.7Z" fill="#9c271b" stroke="#9c271b" stroke-width="0.7"/>
<path d="M328.5,310.0L333.2,317.0M333.2,317.0L339.0,325.2M339.0,325.2L335.5,329.9M335.5,329.9L332.0,333.5M332.0,333.5L329.7,331.1M329.7,331.1L323.8,328.8M323.8,328.8L320.3,325.2M320.3,325.2L322.6,319.4M322.6,319.4L319.1,315.9M319.1,315.9L312.1,318.2M312.1,318.2L306.2,320.6M306.2,320.6L306.2,314.7M306.2,314.7L306.2,310.0" fill="none" stroke="#3a0c09" stroke-width="0.55" stroke-linecap="round"/>
<path d="M306.2,320.6 L312.1,318.2 L319.1,315.9 L322.6,319.4 L320.3,325.2 L314.4,326.4 L308.6,325.2 L305.0,322.9Z" fill="#e7695d" stroke="#e7695d" stroke-width="0.7"/>
<path d="M306.2,320.6L312.1,318.2M312.1,318.2L319.1,315.9M319.1,315.9L322.6,319.4M322.6,319.4L320.3,325.2M320.3,325.2L314.4,326.4M314.4,326.4L308.6,325.2M308.6,325.2L305.0,322.9M305.0,322.9L306.2,320.6" fill="none" stroke="#3a0c09" stroke-width="0.55" stroke-linecap="round"/>
<path d="M302.7,326.4 L308.6,325.2 L314.4,326.4 L312.1,332.3 L310.9,338.1 L305.0,339.3 L300.4,337.0 L300.4,332.3Z" fill="#e7695d" stroke="#e7695d" stroke-width="0.7"/>
<path d="M302.7,326.4L308.6,325.2M308.6,325.2L314.4,326.4M314.4,326.4L312.1,332.3M312.1,332.3L310.9,338.1M310.9,338.1L305.0,339.3M305.0,339.3L300.4,337.0M300.4,337.0L300.4,332.3M300.4,332.3L302.7,326.4" fill="none" stroke="#3a0c09" stroke-width="0.55" stroke-linecap="round"/>
<path d="M314.4,326.4 L320.3,325.2 L323.8,328.8 L329.7,331.1 L332.0,335.8 L327.3,340.5 L321.5,344.0 L316.8,341.7 L310.9,338.1 L312.1,332.3Z" fill="#cb3226" stroke="#cb3226" stroke-width="0.7"/>
<path d="M314.4,326.4L320.3,325.2M320.3,325.2L323.8,328.8M323.8,328.8L329.7,331.1M329.7,331.1L332.0,335.8M332.0,335.8L327.3,340.5M327.3,340.5L321.5,344.0M321.5,344.0L316.8,341.7M316.8,341.7L310.9,338.1M310.9,338.1L312.1,332.3M312.1,332.3L314.4,326.4" fill="none" stroke="#3a0c09" stroke-width="0.55" stroke-linecap="round"/>
<path d="M339.0,325.2 L346.1,333.5 L349.6,341.7 L351.4,347.5 L346.1,346.3 L340.2,351.0 L335.5,356.9 L328.5,360.4 L326.1,365.1 L320.3,366.3 L316.8,368.6 L313.2,365.1 L312.1,359.2 L314.4,352.2 L316.8,347.5 L321.5,344.0 L327.3,340.5 L332.0,335.8 L332.0,333.5 L335.5,329.9Z" fill="#e7695d" stroke="#e7695d" stroke-width="0.7"/>
<path d="M339.0,325.2L346.1,333.5M346.1,333.5L349.6,341.7M349.6,341.7L351.4,347.5M351.4,347.5L346.1,346.3M346.1,346.3L340.2,351.0M340.2,351.0L335.5,356.9M335.5,356.9L328.5,360.4M328.5,360.4L326.1,365.1M326.1,365.1L320.3,366.3M320.3,366.3L316.8,368.6M316.8,368.6L313.2,365.1M313.2,365.1L312.1,359.2M312.1,359.2L314.4,352.2M314.4,352.2L316.8,347.5M316.8,347.5L321.5,344.0M321.5,344.0L327.3,340.5M327.3,340.5L332.0,335.8M332.0,335.8L332.0,333.5M332.0,333.5L335.5,329.9M335.5,329.9L339.0,325.2" fill="none" stroke="#3a0c09" stroke-width="0.55" stroke-linecap="round"/>
<path d="M351.4,347.5 L351.9,349.9 L354.3,359.2 L356.6,368.6 L361.3,375.7 L347.3,376.8 L335.5,373.3 L326.1,375.7 L319.1,375.7 L312.1,371.0 L316.8,368.6 L320.3,366.3 L326.1,365.1 L328.5,360.4 L335.5,356.9 L340.2,351.0 L346.1,346.3Z" fill="#9c271b" stroke="#9c271b" stroke-width="0.7"/>
<path d="M351.4,347.5L351.9,349.9M351.9,349.9L354.3,359.2M354.3,359.2L356.6,368.6M356.6,368.6L361.3,375.7M361.3,375.7L347.3,376.8M347.3,376.8L335.5,373.3M335.5,373.3L326.1,375.7M326.1,375.7L319.1,375.7M319.1,375.7L312.1,371.0M312.1,371.0L316.8,368.6M316.8,368.6L320.3,366.3M320.3,366.3L326.1,365.1M326.1,365.1L328.5,360.4M328.5,360.4L335.5,356.9M335.5,356.9L340.2,351.0M340.2,351.0L346.1,346.3M346.1,346.3L351.4,347.5" fill="none" stroke="#3a0c09" stroke-width="0.55" stroke-linecap="round"/>
<path d="M319.1,375.7 L326.1,375.7 L335.5,373.3 L347.3,376.8 L361.3,375.7 L363.7,382.7 L364.8,389.0 L332.0,389.0 L326.1,382.7Z" fill="#8d2219" stroke="#8d2219" stroke-width="0.7"/>
<path d="M319.1,375.7L326.1,375.7M326.1,375.7L335.5,373.3M335.5,373.3L347.3,376.8M347.3,376.8L361.3,375.7M361.3,375.7L363.7,382.7M363.7,382.7L364.8,389.0M332.0,389.0L326.1,382.7M326.1,382.7L319.1,375.7" fill="none" stroke="#3a0c09" stroke-width="0.55" stroke-linecap="round"/>
<path d="M300.4,337.0 L305.0,339.3 L310.9,338.1 L316.8,341.7 L321.5,344.0 L316.8,347.5 L312.1,346.3 L307.4,348.7 L302.7,349.9 L299.2,345.2Z" fill="#e7695d" stroke="#e7695d" stroke-width="0.7"/>
<path d="M300.4,337.0L305.0,339.3M305.0,339.3L310.9,338.1M310.9,338.1L316.8,341.7M316.8,341.7L321.5,344.0M321.5,344.0L316.8,347.5M316.8,347.5L312.1,346.3M312.1,346.3L307.4,348.7M307.4,348.7L302.7,349.9M302.7,349.9L299.2,345.2M299.2,345.2L300.4,337.0" fill="none" stroke="#3a0c09" stroke-width="0.55" stroke-linecap="round"/>
<path d="M307.4,348.7 L312.1,346.3 L314.4,352.2 L312.1,359.2 L309.7,361.6 L306.2,363.9 L303.9,359.2 L301.5,354.6 L302.7,349.9Z" fill="#f3a69e" stroke="#f3a69e" stroke-width="0.7"/>
<path d="M307.4,348.7L312.1,346.3M312.1,346.3L314.4,352.2M314.4,352.2L312.1,359.2M312.1,359.2L309.7,361.6M309.7,361.6L306.2,363.9M306.2,363.9L303.9,359.2M303.9,359.2L301.5,354.6M301.5,354.6L302.7,349.9M302.7,349.9L307.4,348.7" fill="none" stroke="#3a0c09" stroke-width="0.55" stroke-linecap="round"/>
<path d="M260.5,347.5 L265.2,345.2 L271.0,344.0 L274.6,345.2 L273.4,351.0 L269.9,355.7 L264.0,356.9 L259.3,355.7 L257.6,351.0Z" fill="#f9d6d2" stroke="#f9d6d2" stroke-width="0.7"/>
<path d="M260.5,347.5L265.2,345.2M265.2,345.2L271.0,344.0M271.0,344.0L274.6,345.2M274.6,345.2L273.4,351.0M273.4,351.0L269.9,355.7M269.9,355.7L264.0,356.9M264.0,356.9L259.3,355.7M259.3,355.7L257.6,351.0M257.6,351.0L260.5,347.5" fill="none" stroke="#3a0c09" stroke-width="0.55" stroke-linecap="round"/>
<path d="M274.6,345.2 L279.2,344.0 L282.8,347.5 L281.6,354.6 L280.4,360.4 L276.9,361.6 L273.4,356.9 L273.4,351.0Z" fill="#f3a69e" stroke="#f3a69e" stroke-width="0.7"/>
<path d="M274.6,345.2L279.2,344.0M279.2,344.0L282.8,347.5M282.8,347.5L281.6,354.6M281.6,354.6L280.4,360.4M280.4,360.4L276.9,361.6M276.9,361.6L273.4,356.9M273.4,356.9L273.4,351.0M273.4,351.0L274.6,345.2" fill="none" stroke="#3a0c09" stroke-width="0.55" stroke-linecap="round"/>
<path d="M282.8,344.0 L287.5,344.0 L292.1,344.0 L291.0,349.9 L288.6,354.6 L285.1,353.4 L282.8,347.5Z" fill="#f9d6d2" stroke="#f9d6d2" stroke-width="0.7"/>
<path d="M282.8,344.0L287.5,344.0M287.5,344.0L292.1,344.0M292.1,344.0L291.0,349.9M291.0,349.9L288.6,354.6M288.6,354.6L285.1,353.4M285.1,353.4L282.8,347.5M282.8,347.5L282.8,344.0" fill="none" stroke="#3a0c09" stroke-width="0.55" stroke-linecap="round"/>
<path d="M282.8,347.5 L285.1,353.4 L288.6,354.6 L291.0,349.9 L293.3,344.0 L296.8,345.2 L299.2,345.2 L302.7,349.9 L301.5,354.6 L303.9,359.2 L300.4,362.8 L295.7,360.4 L291.0,359.2 L285.1,360.4 L281.6,359.2 L281.6,354.6Z" fill="#cb3226" stroke="#cb3226" stroke-width="0.7"/>
<path d="M282.8,347.5L285.1,353.4M285.1,353.4L288.6,354.6M288.6,354.6L291.0,349.9M291.0,349.9L293.3,344.0M293.3,344.0L296.8,345.2M296.8,345.2L299.2,345.2M299.2,345.2L302.7,349.9M302.7,349.9L301.5,354.6M301.5,354.6L303.9,359.2M303.9,359.2L300.4,362.8M300.4,362.8L295.7,360.4M295.7,360.4L291.0,359.2M291.0,359.2L285.1,360.4M285.1,360.4L281.6,359.2M281.6,359.2L281.6,354.6M281.6,354.6L282.8,347.5" fill="none" stroke="#3a0c09" stroke-width="0.55" stroke-linecap="round"/>
<path d="M246.4,345.2 L252.3,342.8 L257.0,345.2 L257.6,351.0 L259.3,355.7 L253.5,355.7 L247.6,354.6 L245.2,349.9Z" fill="#cb3226" stroke="#cb3226" stroke-width="0.7"/>
<path d="M246.4,345.2L252.3,342.8M252.3,342.8L257.0,345.2M257.0,345.2L257.6,351.0M257.6,351.0L259.3,355.7M259.3,355.7L253.5,355.7M253.5,355.7L247.6,354.6M247.6,354.6L245.2,349.9M245.2,349.9L246.4,345.2" fill="none" stroke="#3a0c09" stroke-width="0.55" stroke-linecap="round"/>
<path d="M247.6,354.6 L253.5,355.7 L259.3,355.7 L264.0,356.9 L269.9,355.7 L273.4,356.9 L276.9,361.6 L280.4,360.4 L281.6,363.9 L279.2,368.6 L276.9,373.3 L272.2,374.5 L267.5,368.6 L262.8,366.3 L259.3,361.6 L253.5,361.6 L248.8,359.2Z" fill="#cb3226" stroke="#cb3226" stroke-width="0.7"/>
<path d="M247.6,354.6L253.5,355.7M253.5,355.7L259.3,355.7M259.3,355.7L264.0,356.9M264.0,356.9L269.9,355.7M269.9,355.7L273.4,356.9M273.4,356.9L276.9,361.6M276.9,361.6L280.4,360.4M280.4,360.4L281.6,363.9M281.6,363.9L279.2,368.6M279.2,368.6L276.9,373.3M276.9,373.3L272.2,374.5M272.2,374.5L267.5,368.6M267.5,368.6L262.8,366.3M262.8,366.3L259.3,361.6M259.3,361.6L253.5,361.6M253.5,361.6L248.8,359.2M248.8,359.2L247.6,354.6" fill="none" stroke="#3a0c09" stroke-width="0.55" stroke-linecap="round"/>
<path d="M230.0,365.1 L232.3,362.8 L237.0,356.9 L240.6,361.6 L245.2,359.2 L248.8,359.2 L253.5,361.6 L259.3,361.6 L262.8,366.3 L267.5,368.6 L265.2,373.3 L261.7,376.8 L262.8,382.7 L260.5,386.2 L258.1,389.0 L233.5,389.0 L235.9,385.0 L230.0,380.4Z" fill="#801f16" stroke="#801f16" stroke-width="0.7"/>
<path d="M230.0,365.1L232.3,362.8M232.3,362.8L237.0,356.9M237.0,356.9L240.6,361.6M240.6,361.6L245.2,359.2M245.2,359.2L248.8,359.2M248.8,359.2L253.5,361.6M253.5,361.6L259.3,361.6M259.3,361.6L262.8,366.3M262.8,366.3L267.5,368.6M267.5,368.6L265.2,373.3M265.2,373.3L261.7,376.8M261.7,376.8L262.8,382.7M262.8,382.7L260.5,386.2M260.5,386.2L258.1,389.0M233.5,389.0L235.9,385.0M235.9,385.0L230.0,380.4" fill="none" stroke="#3a0c09" stroke-width="0.55" stroke-linecap="round"/>
<path d="M248.8,381.5 L259.3,380.4 L261.1,385.0 L258.1,389.0 L249.9,389.0Z" fill="#cb3226" stroke="#cb3226" stroke-width="0.7"/>
<path d="M248.8,381.5L259.3,380.4M259.3,380.4L261.1,385.0M261.1,385.0L258.1,389.0M249.9,389.0L248.8,381.5" fill="none" stroke="#3a0c09" stroke-width="0.55" stroke-linecap="round"/>
<path d="M265.2,373.3 L272.2,374.5 L276.9,373.3 L279.2,368.6 L281.6,363.9 L286.3,367.5 L286.3,373.3 L289.8,377.4 L295.7,376.8 L300.4,373.3 L305.0,378.0 L312.1,382.7 L319.1,389.0 L265.2,389.0 L262.8,382.7 L261.7,376.8Z" fill="#9c271b" stroke="#9c271b" stroke-width="0.7"/>
<path d="M265.2,373.3L272.2,374.5M272.2,374.5L276.9,373.3M276.9,373.3L279.2,368.6M279.2,368.6L281.6,363.9M281.6,363.9L286.3,367.5M286.3,367.5L286.3,373.3M286.3,373.3L289.8,377.4M289.8,377.4L295.7,376.8M295.7,376.8L300.4,373.3M300.4,373.3L305.0,378.0M305.0,378.0L312.1,382.7M312.1,382.7L319.1,389.0M265.2,389.0L262.8,382.7M262.8,382.7L261.7,376.8M261.7,376.8L265.2,373.3" fill="none" stroke="#3a0c09" stroke-width="0.55" stroke-linecap="round"/>
<path d="M303.3,366.3 L306.2,363.9 L312.1,371.0 L319.1,375.7 L326.1,382.7 L332.0,389.0 L319.1,389.0 L312.1,382.7 L305.0,378.0 L300.4,373.3 L303.9,369.8Z" fill="#801f16" stroke="#801f16" stroke-width="0.7"/>
<path d="M303.3,366.3L306.2,363.9M306.2,363.9L312.1,371.0M312.1,371.0L319.1,375.7M319.1,375.7L326.1,382.7M326.1,382.7L332.0,389.0M319.1,389.0L312.1,382.7M312.1,382.7L305.0,378.0M305.0,378.0L300.4,373.3M300.4,373.3L303.9,369.8M303.9,369.8L303.3,366.3" fill="none" stroke="#3a0c09" stroke-width="0.55" stroke-linecap="round"/>
<path d="M281.6,359.2 L285.1,360.4 L291.0,359.2 L295.7,360.4 L300.4,362.8 L303.3,366.3 L298.0,365.1 L292.1,366.3 L286.3,367.5 L281.6,363.9Z" fill="#9c271b" stroke="#9c271b" stroke-width="0.7"/>
<path d="M281.6,359.2L285.1,360.4M285.1,360.4L291.0,359.2M291.0,359.2L295.7,360.4M295.7,360.4L300.4,362.8M300.4,362.8L303.3,366.3M303.3,366.3L298.0,365.1M298.0,365.1L292.1,366.3M292.1,366.3L286.3,367.5M286.3,367.5L281.6,363.9M281.6,363.9L281.6,359.2" fill="none" stroke="#3a0c09" stroke-width="0.55" stroke-linecap="round"/>
<path d="M286.3,367.5 L292.1,366.3 L298.0,365.1 L303.3,366.3 L303.9,369.8 L300.4,373.3 L295.7,376.8 L289.8,377.4 L286.3,373.3Z" fill="#000000" stroke="#000000" stroke-width="0.7"/>
<path d="M286.3,367.5L292.1,366.3M292.1,366.3L298.0,365.1M298.0,365.1L303.3,366.3M303.3,366.3L303.9,369.8M303.9,369.8L300.4,373.3M300.4,373.3L295.7,376.8M295.7,376.8L289.8,377.4M289.8,377.4L286.3,373.3M286.3,373.3L286.3,367.5" fill="none" stroke="#3a0c09" stroke-width="0.55" stroke-linecap="round"/>
<path d="M233.5,388.5 L237.0,385.0 L248.8,385.0 L251.1,389.7 L257.0,392.0 L258.1,396.7 L255.8,400.2 L252.3,393.2 L244.1,392.0 L237.0,393.2Z" fill="#801f16" stroke="#801f16" stroke-width="0.7"/>
<path d="M233.5,388.5L237.0,385.0M248.8,385.0L251.1,389.7M251.1,389.7L257.0,392.0M257.0,392.0L258.1,396.7M258.1,396.7L255.8,400.2M255.8,400.2L252.3,393.2M252.3,393.2L244.1,392.0M244.1,392.0L237.0,393.2M237.0,393.2L233.5,388.5" fill="none" stroke="#3a0c09" stroke-width="0.55" stroke-linecap="round"/>
<path d="M248.8,385.0 L260.5,385.0 L262.8,390.9 L265.2,396.7 L264.0,400.2 L255.8,400.2 L258.1,396.7 L257.0,392.0 L251.1,389.7Z" fill="#cb3226" stroke="#cb3226" stroke-width="0.7"/>
<path d="M260.5,385.0L262.8,390.9M262.8,390.9L265.2,396.7M265.2,396.7L264.0,400.2M264.0,400.2L255.8,400.2M255.8,400.2L258.1,396.7M258.1,396.7L257.0,392.0M257.0,392.0L251.1,389.7M251.1,389.7L248.8,385.0" fill="none" stroke="#3a0c09" stroke-width="0.55" stroke-linecap="round"/>
<path d="M260.5,385.0 L265.2,387.3 L269.9,389.7 L275.7,392.0 L276.9,396.7 L278.1,401.4 L269.9,402.6 L264.0,400.2 L265.2,396.7 L262.8,390.9Z" fill="#f9d6d2" stroke="#f9d6d2" stroke-width="0.7"/>
<path d="M260.5,385.0L265.2,387.3M265.2,387.3L269.9,389.7M269.9,389.7L275.7,392.0M275.7,392.0L276.9,396.7M276.9,396.7L278.1,401.4M278.1,401.4L269.9,402.6M269.9,402.6L264.0,400.2M264.0,400.2L265.2,396.7M265.2,396.7L262.8,390.9M262.8,390.9L260.5,385.0" fill="none" stroke="#3a0c09" stroke-width="0.55" stroke-linecap="round"/>
<path d="M262.8,385.0 L305.0,385.0 L302.7,389.7 L295.7,392.0 L288.6,394.4 L281.6,395.6 L276.9,396.7 L275.7,392.0 L269.9,389.7 L265.2,387.3Z" fill="#9c271b" stroke="#9c271b" stroke-width="0.7"/>
<path d="M305.0,385.0L302.7,389.7M302.7,389.7L295.7,392.0M295.7,392.0L288.6,394.4M288.6,394.4L281.6,395.6M281.6,395.6L276.9,396.7M276.9,396.7L275.7,392.0M275.7,392.0L269.9,389.7M269.9,389.7L265.2,387.3M265.2,387.3L262.8,385.0" fill="none" stroke="#3a0c09" stroke-width="0.55" stroke-linecap="round"/>
<path d="M276.9,396.7 L281.6,395.6 L288.6,394.4 L295.7,395.6 L291.0,400.2 L285.1,403.8 L280.4,403.8 L278.1,401.4Z" fill="#e7695d" stroke="#e7695d" stroke-width="0.7"/>
<path d="M276.9,396.7L281.6,395.6M281.6,395.6L288.6,394.4M288.6,394.4L295.7,395.6M295.7,395.6L291.0,400.2M291.0,400.2L285.1,403.8M285.1,403.8L280.4,403.8M280.4,403.8L278.1,401.4M278.1,401.4L276.9,396.7" fill="none" stroke="#3a0c09" stroke-width="0.55" stroke-linecap="round"/>
<path d="M305.0,385.0 L363.7,385.0 L366.0,394.4 L370.0,406.1 L364.8,412.0 L359.0,413.1 L349.6,415.5 L342.6,420.2 L340.2,421.3 L335.5,419.0 L326.1,415.5 L316.8,414.3 L307.4,414.3 L305.0,408.5 L310.9,406.1 L316.8,403.8 L323.8,404.9 L329.7,401.4 L333.2,396.7 L329.7,395.6 L321.5,393.2 L314.4,393.2 L310.9,389.7 L305.0,390.9 L302.7,389.7Z" fill="#801f16" stroke="#801f16" stroke-width="0.7"/>
<path d="M363.7,385.0L366.0,394.4M366.0,394.4L370.0,406.1M370.0,406.1L364.8,412.0M364.8,412.0L359.0,413.1M359.0,413.1L349.6,415.5M349.6,415.5L342.6,420.2M342.6,420.2L340.2,421.3M340.2,421.3L335.5,419.0M335.5,419.0L326.1,415.5M326.1,415.5L316.8,414.3M316.8,414.3L307.4,414.3M307.4,414.3L305.0,408.5M305.0,408.5L310.9,406.1M310.9,406.1L316.8,403.8M316.8,403.8L323.8,404.9M323.8,404.9L329.7,401.4M329.7,401.4L333.2,396.7M333.2,396.7L329.7,395.6M329.7,395.6L321.5,393.2M321.5,393.2L314.4,393.2M314.4,393.2L310.9,389.7M310.9,389.7L305.0,390.9M305.0,390.9L302.7,389.7M302.7,389.7L305.0,385.0" fill="none" stroke="#3a0c09" stroke-width="0.55" stroke-linecap="round"/>
<path d="M295.7,395.6 L302.7,394.4 L306.2,397.9 L312.1,402.6 L316.8,403.8 L310.9,406.1 L305.0,408.5 L300.4,412.0 L305.0,414.3 L316.8,414.3 L326.1,415.5 L335.5,419.0 L340.2,421.3 L333.2,424.9 L332.0,428.4 L323.8,428.4 L314.4,429.6 L306.2,427.2 L300.4,423.7 L296.8,421.3 L293.3,419.0 L288.6,416.7 L285.1,414.3 L282.2,407.3 L280.4,403.8 L285.1,403.8 L291.0,400.2Z" fill="#e7695d" stroke="#e7695d" stroke-width="0.7"/>
<path d="M295.7,395.6L302.7,394.4M302.7,394.4L306.2,397.9M306.2,397.9L312.1,402.6M312.1,402.6L316.8,403.8M316.8,403.8L310.9,406.1M310.9,406.1L305.0,408.5M305.0,408.5L300.4,412.0M300.4,412.0L305.0,414.3M305.0,414.3L316.8,414.3M316.8,414.3L326.1,415.5M326.1,415.5L335.5,419.0M335.5,419.0L340.2,421.3M340.2,421.3L333.2,424.9M333.2,424.9L332.0,428.4M332.0,428.4L323.8,428.4M323.8,428.4L314.4,429.6M314.4,429.6L306.2,427.2M306.2,427.2L300.4,423.7M300.4,423.7L296.8,421.3M296.8,421.3L293.3,419.0M293.3,419.0L288.6,416.7M288.6,416.7L285.1,414.3M285.1,414.3L282.2,407.3M282.2,407.3L280.4,403.8M280.4,403.8L285.1,403.8M285.1,403.8L291.0,400.2M291.0,400.2L295.7,395.6" fill="none" stroke="#3a0c09" stroke-width="0.55" stroke-linecap="round"/>
<path d="M286.3,413.1 L291.0,408.5 L295.7,404.9 L305.0,403.8 L310.9,406.1 L305.0,408.5 L300.4,412.0 L295.7,414.3 L291.0,415.5Z" fill="#f9d6d2" stroke="#f9d6d2" stroke-width="0.7"/>
<path d="M286.3,413.1L291.0,408.5M291.0,408.5L295.7,404.9M295.7,404.9L305.0,403.8M305.0,403.8L310.9,406.1M310.9,406.1L305.0,408.5M305.0,408.5L300.4,412.0M300.4,412.0L295.7,414.3M295.7,414.3L291.0,415.5M291.0,415.5L286.3,413.1" fill="none" stroke="#3a0c09" stroke-width="0.55" stroke-linecap="round"/>
<path d="M300.4,415.5 L307.4,414.3 L316.8,414.3 L316.8,417.8 L309.7,419.6 L301.5,419.0Z" fill="#f9d6d2" stroke="#f9d6d2" stroke-width="0.7"/>
<path d="M300.4,415.5L307.4,414.3M307.4,414.3L316.8,414.3M316.8,414.3L316.8,417.8M316.8,417.8L309.7,419.6M309.7,419.6L301.5,419.0M301.5,419.0L300.4,415.5" fill="none" stroke="#3a0c09" stroke-width="0.55" stroke-linecap="round"/>
<path d="M305.0,390.9 L310.9,389.7 L314.4,393.2 L321.5,393.2 L329.7,395.6 L333.2,396.7 L328.5,399.1 L321.5,400.2 L316.8,403.8 L312.1,402.6 L306.2,397.9Z" fill="#f9d6d2" stroke="#f9d6d2" stroke-width="0.7"/>
<path d="M305.0,390.9L310.9,389.7M310.9,389.7L314.4,393.2M314.4,393.2L321.5,393.2M321.5,393.2L329.7,395.6M329.7,395.6L333.2,396.7M333.2,396.7L328.5,399.1M328.5,399.1L321.5,400.2M321.5,400.2L316.8,403.8M316.8,403.8L312.1,402.6M312.1,402.6L306.2,397.9M306.2,397.9L305.0,390.9" fill="none" stroke="#3a0c09" stroke-width="0.55" stroke-linecap="round"/>
<path d="M321.5,400.2 L328.5,399.1 L329.7,401.4 L323.8,404.9 L316.8,403.8Z" fill="#e7695d" stroke="#e7695d" stroke-width="0.7"/>
<path d="M321.5,400.2L328.5,399.1M328.5,399.1L329.7,401.4M329.7,401.4L323.8,404.9M323.8,404.9L316.8,403.8M316.8,403.8L321.5,400.2" fill="none" stroke="#3a0c09" stroke-width="0.55" stroke-linecap="round"/>
<path d="M342.6,420.2 L349.6,415.5 L359.0,413.1 L364.8,412.0 L370.0,417.8 L370.0,431.9 L366.0,436.6 L363.7,441.3 L356.6,444.8 L349.6,446.0 L343.7,443.6 L339.0,441.3 L343.7,435.4 L342.6,431.9 L335.5,429.6 L332.0,428.4 L333.2,424.9 L340.2,421.3Z" fill="#9c271b" stroke="#9c271b" stroke-width="0.7"/>
<path d="M342.6,420.2L349.6,415.5M349.6,415.5L359.0,413.1M359.0,413.1L364.8,412.0M364.8,412.0L370.0,417.8M370.0,431.9L366.0,436.6M366.0,436.6L363.7,441.3M363.7,441.3L356.6,444.8M356.6,444.8L349.6,446.0M349.6,446.0L343.7,443.6M343.7,443.6L339.0,441.3M339.0,441.3L343.7,435.4M343.7,435.4L342.6,431.9M342.6,431.9L335.5,429.6M335.5,429.6L332.0,428.4M332.0,428.4L333.2,424.9M333.2,424.9L340.2,421.3M340.2,421.3L342.6,420.2" fill="none" stroke="#3a0c09" stroke-width="0.55" stroke-linecap="round"/>
<path d="M298.0,424.9 L302.7,426.0 L307.4,428.4 L314.4,429.6 L323.8,428.4 L332.0,428.4 L334.4,431.9 L328.5,434.2 L319.1,435.4 L312.1,437.2 L305.0,436.6 L301.5,431.9Z" fill="#f9d6d2" stroke="#f9d6d2" stroke-width="0.7"/>
<path d="M298.0,424.9L302.7,426.0M302.7,426.0L307.4,428.4M307.4,428.4L314.4,429.6M314.4,429.6L323.8,428.4M323.8,428.4L332.0,428.4M332.0,428.4L334.4,431.9M334.4,431.9L328.5,434.2M328.5,434.2L319.1,435.4M319.1,435.4L312.1,437.2M312.1,437.2L305.0,436.6M305.0,436.6L301.5,431.9M301.5,431.9L298.0,424.9" fill="none" stroke="#3a0c09" stroke-width="0.55" stroke-linecap="round"/>
<path d="M296.8,429.6 L301.5,431.9 L305.0,436.6 L306.2,439.5 L300.4,440.1 L298.0,436.6Z" fill="#f9d6d2" stroke="#f9d6d2" stroke-width="0.7"/>
<path d="M296.8,429.6L301.5,431.9M301.5,431.9L305.0,436.6M305.0,436.6L306.2,439.5M306.2,439.5L300.4,440.1M300.4,440.1L298.0,436.6M298.0,436.6L296.8,429.6" fill="none" stroke="#3a0c09" stroke-width="0.55" stroke-linecap="round"/>
<path d="M328.5,434.2 L334.4,431.9 L342.6,431.9 L343.7,435.4 L339.0,441.3 L333.2,444.2 L329.7,440.1Z" fill="#e7695d" stroke="#e7695d" stroke-width="0.7"/>
<path d="M328.5,434.2L334.4,431.9M334.4,431.9L342.6,431.9M342.6,431.9L343.7,435.4M343.7,435.4L339.0,441.3M339.0,441.3L333.2,444.2M333.2,444.2L329.7,440.1M329.7,440.1L328.5,434.2" fill="none" stroke="#3a0c09" stroke-width="0.55" stroke-linecap="round"/>
<path d="M276.9,414.3 L285.1,414.3 L288.6,416.7 L293.3,419.0 L296.8,421.3 L295.7,426.0 L292.1,429.6 L286.3,430.7 L281.6,429.6 L279.2,424.9 L276.9,420.2Z" fill="#9c271b" stroke="#9c271b" stroke-width="0.7"/>
<path d="M276.9,414.3L285.1,414.3M285.1,414.3L288.6,416.7M288.6,416.7L293.3,419.0M293.3,419.0L296.8,421.3M296.8,421.3L295.7,426.0M295.7,426.0L292.1,429.6M292.1,429.6L286.3,430.7M286.3,430.7L281.6,429.6M281.6,429.6L279.2,424.9M279.2,424.9L276.9,420.2M276.9,420.2L276.9,414.3" fill="none" stroke="#3a0c09" stroke-width="0.55" stroke-linecap="round"/>
<path d="M281.6,429.6 L286.3,430.7 L292.1,429.6 L296.8,429.6 L298.0,436.6 L300.4,440.1 L299.2,444.8 L293.3,441.3 L286.3,440.1 L282.8,436.6Z" fill="#9c271b" stroke="#9c271b" stroke-width="0.7"/>
<path d="M281.6,429.6L286.3,430.7M286.3,430.7L292.1,429.6M292.1,429.6L296.8,429.6M296.8,429.6L298.0,436.6M298.0,436.6L300.4,440.1M300.4,440.1L299.2,444.8M299.2,444.8L293.3,441.3M293.3,441.3L286.3,440.1M286.3,440.1L282.8,436.6M282.8,436.6L281.6,429.6" fill="none" stroke="#3a0c09" stroke-width="0.55" stroke-linecap="round"/>
<path d="M253.5,424.9 L259.3,420.8 L268.7,420.2 L274.6,421.3 L279.2,424.9 L281.6,429.6 L282.8,436.6 L279.2,440.1 L276.9,443.6 L271.0,444.8 L268.7,450.7 L262.8,447.1 L257.0,446.0 L252.3,447.1 L248.8,441.3 L250.5,436.6 L249.9,431.9Z" fill="#e7695d" stroke="#e7695d" stroke-width="0.7"/>
<path d="M253.5,424.9L259.3,420.8M259.3,420.8L268.7,420.2M268.7,420.2L274.6,421.3M274.6,421.3L279.2,424.9M279.2,424.9L281.6,429.6M281.6,429.6L282.8,436.6M282.8,436.6L279.2,440.1M279.2,440.1L276.9,443.6M276.9,443.6L271.0,444.8M271.0,444.8L268.7,450.7M268.7,450.7L262.8,447.1M262.8,447.1L257.0,446.0M257.0,446.0L252.3,447.1M252.3,447.1L248.8,441.3M248.8,441.3L250.5,436.6M250.5,436.6L249.9,431.9M249.9,431.9L253.5,424.9" fill="none" stroke="#3a0c09" stroke-width="0.55" stroke-linecap="round"/>
<path d="M261.7,433.1 L268.7,431.9 L273.4,429.6 L276.9,427.2 L280.4,430.7 L281.6,436.6 L276.9,440.1 L272.2,441.3 L266.3,440.1 L260.5,436.6Z" fill="#cb3226" stroke="#cb3226" stroke-width="0.7"/>
<path d="M261.7,433.1L268.7,431.9M268.7,431.9L273.4,429.6M273.4,429.6L276.9,427.2M276.9,427.2L280.4,430.7M280.4,430.7L281.6,436.6M281.6,436.6L276.9,440.1M276.9,440.1L272.2,441.3M272.2,441.3L266.3,440.1M266.3,440.1L260.5,436.6M260.5,436.6L261.7,433.1" fill="none" stroke="#3a0c09" stroke-width="0.55" stroke-linecap="round"/>
<path d="M259.3,428.4 L265.2,425.5 L271.0,426.0 L273.4,429.6 L268.7,431.9 L261.7,433.1 L258.7,431.3Z" fill="#f3a69e" stroke="#f3a69e" stroke-width="0.7"/>
<path d="M259.3,428.4L265.2,425.5M265.2,425.5L271.0,426.0M271.0,426.0L273.4,429.6M273.4,429.6L268.7,431.9M268.7,431.9L261.7,433.1M261.7,433.1L258.7,431.3M258.7,431.3L259.3,428.4" fill="none" stroke="#3a0c09" stroke-width="0.55" stroke-linecap="round"/>
<path d="M250.5,437.2 L255.8,436.6 L260.5,436.6 L266.3,440.1 L268.7,444.8 L262.8,447.1 L257.0,446.0 L252.3,447.1Z" fill="#f3a69e" stroke="#f3a69e" stroke-width="0.7"/>
<path d="M250.5,437.2L255.8,436.6M255.8,436.6L260.5,436.6M260.5,436.6L266.3,440.1M266.3,440.1L268.7,444.8M268.7,444.8L262.8,447.1M262.8,447.1L257.0,446.0M257.0,446.0L252.3,447.1M252.3,447.1L250.5,437.2" fill="none" stroke="#3a0c09" stroke-width="0.55" stroke-linecap="round"/>
<path d="M268.7,444.8 L272.2,443.6 L278.1,444.8 L279.2,448.3 L275.7,450.7 L274.6,455.4 L272.2,456.5 L271.0,451.8 L268.7,450.7Z" fill="#f9d6d2" stroke="#f9d6d2" stroke-width="0.7"/>
<path d="M268.7,444.8L272.2,443.6M272.2,443.6L278.1,444.8M278.1,444.8L279.2,448.3M279.2,448.3L275.7,450.7M275.7,450.7L274.6,455.4M274.6,455.4L272.2,456.5M272.2,456.5L271.0,451.8M271.0,451.8L268.7,450.7M268.7,450.7L268.7,444.8" fill="none" stroke="#3a0c09" stroke-width="0.55" stroke-linecap="round"/>
<path d="M279.2,440.1 L286.3,440.1 L293.3,441.3 L299.2,444.8 L302.7,450.7 L300.4,457.7 L296.8,464.0 L276.9,464.0 L274.6,460.0 L274.6,455.4 L275.7,450.7 L279.2,448.3 L278.1,444.8 L276.9,443.6Z" fill="#57160f" stroke="#57160f" stroke-width="0.7"/>
<path d="M279.2,440.1L286.3,440.1M286.3,440.1L293.3,441.3M293.3,441.3L299.2,444.8M299.2,444.8L302.7,450.7M302.7,450.7L300.4,457.7M300.4,457.7L296.8,464.0M276.9,464.0L274.6,460.0M274.6,460.0L274.6,455.4M274.6,455.4L275.7,450.7M275.7,450.7L279.2,448.3M279.2,448.3L278.1,444.8M278.1,444.8L276.9,443.6M276.9,443.6L279.2,440.1" fill="none" stroke="#3a0c09" stroke-width="0.55" stroke-linecap="round"/>
<path d="M252.3,447.1 L257.0,446.0 L262.8,447.1 L268.7,450.7 L271.0,451.8 L272.2,456.5 L274.6,455.4 L274.6,460.0 L276.9,464.0 L244.1,464.0 L246.4,460.0 L252.3,455.4 L251.1,451.8Z" fill="#801f16" stroke="#801f16" stroke-width="0.7"/>
<path d="M252.3,447.1L257.0,446.0M257.0,446.0L262.8,447.1M262.8,447.1L268.7,450.7M268.7,450.7L271.0,451.8M271.0,451.8L272.2,456.5M272.2,456.5L274.6,455.4M274.6,455.4L274.6,460.0M274.6,460.0L276.9,464.0M244.1,464.0L246.4,460.0M246.4,460.0L252.3,455.4M252.3,455.4L251.1,451.8M251.1,451.8L252.3,447.1" fill="none" stroke="#3a0c09" stroke-width="0.55" stroke-linecap="round"/>
<path d="M306.2,439.5 L312.1,437.2 L319.1,435.4 L328.5,434.2 L329.7,440.1 L333.2,444.2 L339.0,441.3 L343.7,443.6 L344.9,448.3 L340.2,453.0 L333.2,455.4 L326.1,457.7 L316.8,457.7 L312.1,450.7 L309.7,443.6Z" fill="#9c271b" stroke="#9c271b" stroke-width="0.7"/>
<path d="M306.2,439.5L312.1,437.2M312.1,437.2L319.1,435.4M319.1,435.4L328.5,434.2M328.5,434.2L329.7,440.1M329.7,440.1L333.2,444.2M333.2,444.2L339.0,441.3M339.0,441.3L343.7,443.6M343.7,443.6L344.9,448.3M344.9,448.3L340.2,453.0M340.2,453.0L333.2,455.4M333.2,455.4L326.1,457.7M326.1,457.7L316.8,457.7M316.8,457.7L312.1,450.7M312.1,450.7L309.7,443.6M309.7,443.6L306.2,439.5" fill="none" stroke="#3a0c09" stroke-width="0.55" stroke-linecap="round"/>
<path d="M300.4,440.1 L306.2,439.5 L309.7,443.6 L312.1,450.7 L316.8,457.7 L314.4,460.0 L308.6,455.4 L303.9,450.7 L299.2,444.8Z" fill="#e7695d" stroke="#e7695d" stroke-width="0.7"/>
<path d="M300.4,440.1L306.2,439.5M306.2,439.5L309.7,443.6M309.7,443.6L312.1,450.7M312.1,450.7L316.8,457.7M316.8,457.7L314.4,460.0M314.4,460.0L308.6,455.4M308.6,455.4L303.9,450.7M303.9,450.7L299.2,444.8M299.2,444.8L300.4,440.1" fill="none" stroke="#3a0c09" stroke-width="0.55" stroke-linecap="round"/>
<path d="M349.6,446.0 L356.6,444.8 L363.7,441.3 L366.0,436.6 L370.0,431.9 L370.0,464.0 L296.8,464.0 L300.4,457.7 L302.7,450.7 L303.9,450.7 L308.6,455.4 L314.4,460.0 L316.8,457.7 L326.1,457.7 L333.2,455.4 L340.2,453.0 L344.9,448.3 L343.7,443.6Z" fill="#cb3226" stroke="#cb3226" stroke-width="0.7"/>
<path d="M349.6,446.0L356.6,444.8M356.6,444.8L363.7,441.3M363.7,441.3L366.0,436.6M366.0,436.6L370.0,431.9M296.8,464.0L300.4,457.7M300.4,457.7L302.7,450.7M302.7,450.7L303.9,450.7M303.9,450.7L308.6,455.4M308.6,455.4L314.4,460.0M314.4,460.0L316.8,457.7M316.8,457.7L326.1,457.7M326.1,457.7L333.2,455.4M333.2,455.4L340.2,453.0M340.2,453.0L344.9,448.3M344.9,448.3L343.7,443.6M343.7,443.6L349.6,446.0" fill="none" stroke="#3a0c09" stroke-width="0.55" stroke-linecap="round"/>
<path d="M364.8,406.1 L370.0,403.8 L370.0,419.0 L366.0,416.7Z" fill="#000000" stroke="#000000" stroke-width="0.7"/>
<path d="M364.8,406.1L370.0,403.8M370.0,419.0L366.0,416.7M366.0,416.7L364.8,406.1" fill="none" stroke="#3a0c09" stroke-width="0.55" stroke-linecap="round"/>
<path d="M401.0,443.5 L409.2,440.0 L412.7,447.0 L419.7,454.1 L429.1,459.9 L439.7,464.6 L451.4,468.1 L464.3,469.9 L464.3,470.5 L461.9,475.2 L459.6,481.0 L464.3,483.4 L471.3,484.6 L469.0,491.6 L467.8,498.6 L467.2,505.7 L465.5,512.7 L463.1,519.0 L456.1,519.0 L452.6,512.7 L447.9,505.7 L442.0,499.8 L435.0,503.3 L433.8,510.4 L429.1,513.9 L422.1,512.7 L416.2,509.2 L408.0,510.4 L406.8,503.3 L409.2,496.3 L405.7,491.6 L402.1,486.9 L399.8,478.7 L401.0,469.3 L405.7,462.3 L406.8,455.2 L403.3,450.6 L397.5,447.0Z" fill="#cb3226" stroke="#cb3226" stroke-width="0.7"/>
<path d="M401.0,443.5L409.2,440.0M409.2,440.0L412.7,447.0M412.7,447.0L419.7,454.1M419.7,454.1L429.1,459.9M429.1,459.9L439.7,464.6M439.7,464.6L451.4,468.1M451.4,468.1L464.3,469.9M464.3,469.9L464.3,470.5M464.3,470.5L461.9,475.2M461.9,475.2L459.6,481.0M459.6,481.0L464.3,483.4M464.3,483.4L471.3,484.6M471.3,484.6L469.0,491.6M469.0,491.6L467.8,498.6M467.8,498.6L467.2,505.7M467.2,505.7L465.5,512.7M465.5,512.7L463.1,519.0M456.1,519.0L452.6,512.7M452.6,512.7L447.9,505.7M447.9,505.7L442.0,499.8M442.0,499.8L435.0,503.3M435.0,503.3L433.8,510.4M433.8,510.4L429.1,513.9M429.1,513.9L422.1,512.7M422.1,512.7L416.2,509.2M416.2,509.2L408.0,510.4M408.0,510.4L406.8,503.3M406.8,503.3L409.2,496.3M409.2,496.3L405.7,491.6M405.7,491.6L402.1,486.9M402.1,486.9L399.8,478.7M399.8,478.7L401.0,469.3M401.0,469.3L405.7,462.3M405.7,462.3L406.8,455.2M406.8,455.2L403.3,450.6M403.3,450.6L397.5,447.0M397.5,447.0L401.0,443.5" fill="none" stroke="#3a0c09" stroke-width="0.55" stroke-linecap="round"/>
<path d="M352.9,474.0 L356.4,468.1 L363.5,465.8 L372.8,463.5 L378.7,458.8 L384.6,457.6 L390.4,451.7 L397.5,447.0 L403.3,450.6 L406.8,455.2 L405.7,462.3 L401.0,469.3 L399.8,478.7 L402.1,486.9 L397.5,486.9 L389.2,485.7 L383.4,482.2 L375.2,481.0 L368.1,479.9 L361.1,477.5 L355.2,478.7Z" fill="#9c271b" stroke="#9c271b" stroke-width="0.7"/>
<path d="M352.9,474.0L356.4,468.1M356.4,468.1L363.5,465.8M363.5,465.8L372.8,463.5M372.8,463.5L378.7,458.8M378.7,458.8L384.6,457.6M384.6,457.6L390.4,451.7M390.4,451.7L397.5,447.0M397.5,447.0L403.3,450.6M403.3,450.6L406.8,455.2M406.8,455.2L405.7,462.3M405.7,462.3L401.0,469.3M401.0,469.3L399.8,478.7M399.8,478.7L402.1,486.9M402.1,486.9L397.5,486.9M397.5,486.9L389.2,485.7M389.2,485.7L383.4,482.2M383.4,482.2L375.2,481.0M375.2,481.0L368.1,479.9M368.1,479.9L361.1,477.5M361.1,477.5L355.2,478.7M355.2,478.7L352.9,474.0" fill="none" stroke="#3a0c09" stroke-width="0.55" stroke-linecap="round"/>
<path d="M340.0,471.7 L352.9,474.0 L355.2,478.7 L361.1,477.5 L368.1,479.9 L375.2,481.0 L383.4,482.2 L389.2,485.7 L397.5,486.9 L402.1,486.9 L405.7,491.6 L409.2,496.3 L406.8,503.3 L408.0,510.4 L403.3,513.9 L391.6,512.7 L384.6,515.0 L375.2,513.9 L370.5,519.0 L367.0,519.0 L359.9,510.4 L355.2,501.0 L350.6,493.9 L344.7,491.6 L340.0,491.6Z" fill="#801f16" stroke="#801f16" stroke-width="0.7"/>
<path d="M340.0,471.7L352.9,474.0M352.9,474.0L355.2,478.7M355.2,478.7L361.1,477.5M361.1,477.5L368.1,479.9M368.1,479.9L375.2,481.0M375.2,481.0L383.4,482.2M383.4,482.2L389.2,485.7M389.2,485.7L397.5,486.9M397.5,486.9L402.1,486.9M402.1,486.9L405.7,491.6M405.7,491.6L409.2,496.3M409.2,496.3L406.8,503.3M406.8,503.3L408.0,510.4M408.0,510.4L403.3,513.9M403.3,513.9L391.6,512.7M391.6,512.7L384.6,515.0M384.6,515.0L375.2,513.9M375.2,513.9L370.5,519.0M367.0,519.0L359.9,510.4M359.9,510.4L355.2,501.0M355.2,501.0L350.6,493.9M350.6,493.9L344.7,491.6M344.7,491.6L340.0,491.6" fill="none" stroke="#3a0c09" stroke-width="0.55" stroke-linecap="round"/>
<path d="M340.0,444.7 L347.0,445.9 L355.2,444.7 L363.5,442.3 L369.3,447.0 L375.2,450.6 L381.0,454.1 L384.6,457.6 L378.7,458.8 L372.8,463.5 L363.5,465.8 L356.4,468.1 L352.9,474.0 L340.0,471.7Z" fill="#cb3226" stroke="#cb3226" stroke-width="0.7"/>
<path d="M340.0,444.7L347.0,445.9M347.0,445.9L355.2,444.7M355.2,444.7L363.5,442.3M363.5,442.3L369.3,447.0M369.3,447.0L375.2,450.6M375.2,450.6L381.0,454.1M381.0,454.1L384.6,457.6M384.6,457.6L378.7,458.8M378.7,458.8L372.8,463.5M372.8,463.5L363.5,465.8M363.5,465.8L356.4,468.1M356.4,468.1L352.9,474.0M352.9,474.0L340.0,471.7" fill="none" stroke="#3a0c09" stroke-width="0.55" stroke-linecap="round"/>
<path d="M374.0,440.0 L398.6,440.0 L401.0,443.5 L397.5,447.0 L390.4,451.7 L384.6,457.6 L381.0,454.1 L375.2,450.6 L374.0,445.9Z" fill="#57160f" stroke="#57160f" stroke-width="0.7"/>
<path d="M398.6,440.0L401.0,443.5M401.0,443.5L397.5,447.0M397.5,447.0L390.4,451.7M390.4,451.7L384.6,457.6M384.6,457.6L381.0,454.1M381.0,454.1L375.2,450.6M375.2,450.6L374.0,445.9M374.0,445.9L374.0,440.0" fill="none" stroke="#3a0c09" stroke-width="0.55" stroke-linecap="round"/>
<path d="M367.6,440.0 L375.2,440.0 L374.6,445.3 L371.7,447.6 L368.7,444.7Z" fill="#f3a69e" stroke="#f3a69e" stroke-width="0.7"/>
<path d="M375.2,440.0L374.6,445.3M374.6,445.3L371.7,447.6M371.7,447.6L368.7,444.7M368.7,444.7L367.6,440.0" fill="none" stroke="#3a0c09" stroke-width="0.55" stroke-linecap="round"/>
<path d="M464.3,470.5 L480.0,470.5 L480.0,519.0 L463.1,519.0 L465.5,512.7 L467.2,505.7 L467.8,498.6 L469.0,491.6 L471.3,484.6 L464.3,483.4 L459.6,481.0 L461.9,475.2Z" fill="#9c271b" stroke="#9c271b" stroke-width="0.7"/>
<path d="M464.3,470.5L480.0,470.5M463.1,519.0L465.5,512.7M465.5,512.7L467.2,505.7M467.2,505.7L467.8,498.6M467.8,498.6L469.0,491.6M469.0,491.6L471.3,484.6M471.3,484.6L464.3,483.4M464.3,483.4L459.6,481.0M459.6,481.0L461.9,475.2M461.9,475.2L464.3,470.5" fill="none" stroke="#3a0c09" stroke-width="0.55" stroke-linecap="round"/>
<path d="M459.6,484.6 L464.3,483.4 L471.3,484.6 L470.2,491.6 L467.8,498.6 L464.3,495.1 L460.8,490.4Z" fill="#cb3226" stroke="#cb3226" stroke-width="0.7"/>
<path d="M459.6,484.6L464.3,483.4M464.3,483.4L471.3,484.6M471.3,484.6L470.2,491.6M470.2,491.6L467.8,498.6M467.8,498.6L464.3,495.1M464.3,495.1L460.8,490.4M460.8,490.4L459.6,484.6" fill="none" stroke="#3a0c09" stroke-width="0.55" stroke-linecap="round"/>
<path d="M403.3,513.9 L408.0,510.4 L416.2,509.2 L422.1,512.7 L429.1,513.9 L433.8,510.4 L435.0,519.0 L401.0,519.0Z" fill="#420f0b" stroke="#420f0b" stroke-width="0.7"/>
<path d="M403.3,513.9L408.0,510.4M408.0,510.4L416.2,509.2M416.2,509.2L422.1,512.7M422.1,512.7L429.1,513.9M429.1,513.9L433.8,510.4M433.8,510.4L435.0,519.0M401.0,519.0L403.3,513.9" fill="none" stroke="#3a0c09" stroke-width="0.55" stroke-linecap="round"/>
<path d="M435.0,503.3 L442.0,499.8 L447.9,505.7 L452.6,512.7 L456.1,519.0 L435.0,519.0 L433.8,510.4Z" fill="#9c271b" stroke="#9c271b" stroke-width="0.7"/>
<path d="M435.0,503.3L442.0,499.8M442.0,499.8L447.9,505.7M447.9,505.7L452.6,512.7M452.6,512.7L456.1,519.0M435.0,519.0L433.8,510.4M433.8,510.4L435.0,503.3" fill="none" stroke="#3a0c09" stroke-width="0.55" stroke-linecap="round"/>
<path d="M370.5,519.0 L375.2,513.9 L384.6,515.0 L391.6,512.7 L403.3,513.9 L401.0,519.0Z" fill="#9c271b" stroke="#9c271b" stroke-width="0.7"/>
<path d="M370.5,519.0L375.2,513.9M375.2,513.9L384.6,515.0M384.6,515.0L391.6,512.7M391.6,512.7L403.3,513.9M403.3,513.9L401.0,519.0" fill="none" stroke="#3a0c09" stroke-width="0.55" stroke-linecap="round"/>
<path d="M400.2,470.2 L405.3,462.7 L415.3,462.7 L420.3,470.2 L417.8,485.3 L410.3,497.8 L402.7,487.8 L400.2,470.2M420.3,482.8 L427.8,480.3 L440.4,495.3 L445.4,502.8 L435.4,500.3 L425.3,495.3 L420.3,482.8M437.9,475.3 L450.4,472.7 L460.4,482.8 L465.5,495.3 L465.5,510.4 L457.9,515.4 L450.4,505.4 L440.4,495.3 L437.9,485.3 L437.9,475.3M407.8,505.4 L417.8,490.3 L430.3,500.3 L432.8,510.4 L425.3,515.4 L415.3,510.4 L407.8,505.4M405.3,462.7 L407.8,450.2 L412.8,442.6M420.3,470.2 L430.3,467.7 L437.9,475.3M345.1,450.2 L355.1,442.6 L370.1,445.2 L382.7,457.7M355.1,472.7 L370.1,477.8 L387.7,482.8 L400.2,487.8M372.6,515.4 L387.7,512.9 L400.2,515.4M450.4,472.7 L460.4,472.7 L465.5,470.2M470.5,500.3 L485.5,495.3 L495.6,492.8M505.6,520.4 L520.6,522.9 L533.2,530.4M510.6,497.8 L518.1,485.3 L520.6,475.3M144.0,69.0 L152.0,70.4 L162.0,73.0 L168.0,70.0 L176.0,71.6 L183.0,71.0M450.0,539.0 L452.0,551.0 L448.0,563.0 L444.0,571.0M433.0,571.0 L444.0,571.0 L452.0,576.0 L466.0,574.0 L476.0,573.0M580.0,639.0 L574.0,645.0 L568.0,651.0 L567.0,661.0" fill="none" stroke="#3a0c09" stroke-width="0.55" stroke-linejoin="round" opacity="0.85"/>
</g>
<path d="M68.0,13.0 L75.0,12.4 L81.0,15.6 L89.0,14.4 L98.0,15.0 L104.0,12.4 L110.0,12.4 L111.6,4.4 L119.0,3.6 L125.0,5.6 L128.0,10.0 L134.0,14.0 L142.0,18.4 L149.0,18.0 L154.0,22.0 L158.0,28.0 L162.0,33.0 L170.0,30.0 L175.0,29.6 L176.0,40.0 L180.0,52.0 L183.0,62.0 L184.0,69.0 L187.0,80.0 L189.0,92.0 L191.0,104.0 L194.0,110.0 L198.0,118.0 L202.0,125.0 L200.0,122.0 L208.0,128.0 L213.0,130.0 L214.0,138.0 L220.0,148.0 L224.0,158.0 L226.0,168.0 L232.0,180.0 L240.0,194.0 L248.0,208.0 L250.0,220.0 L255.0,230.0 L252.0,230.0 L260.0,240.0 L272.0,250.0 L284.0,264.0 L296.0,276.0 L308.0,286.0 L318.0,296.0 L328.0,308.0 L336.0,320.0 L344.0,330.0 L350.0,342.0 L354.0,354.0 L358.0,366.0 L363.0,378.0 L364.0,388.0 L368.0,398.0 L374.0,404.0 L386.0,409.0 L390.0,416.0 L392.0,426.0 L404.0,429.0 L408.0,438.0 L416.0,450.0 L426.0,458.0 L438.0,463.0 L450.0,468.0 L464.0,470.0 L480.0,470.0 L492.0,469.0 L504.0,469.6 L512.0,474.0 L520.0,480.0 L524.0,485.0 L540.0,488.0 L552.0,489.0 L556.0,496.0 L564.0,508.0 L572.0,514.0 L576.0,524.0 L580.0,530.0 L588.0,534.0 L600.0,534.0 L616.0,530.0 L630.0,527.0 L637.0,526.0 L640.0,532.0 L642.0,540.0 L645.0,552.0 L644.0,560.0 L648.0,570.0 L658.0,573.0 L662.0,579.0 L670.0,583.0 L680.0,589.0 L688.0,593.0 L694.0,601.0 L703.0,606.0 L702.0,617.0 L696.0,627.0 L700.0,633.0 L704.0,638.0 L696.0,643.0 L686.0,649.0 L680.0,655.0 L676.0,661.0 L547.0,661.0 L548.0,647.0 L540.0,643.0 L530.0,637.0 L520.0,629.0 L512.0,619.0 L508.0,615.0 L500.0,611.0 L502.0,608.0 L510.0,603.0 L510.0,598.0 L504.0,594.0 L498.0,596.0 L490.0,600.0 L484.0,603.0 L478.0,607.0 L470.0,611.0 L466.0,617.0 L458.0,619.0 L448.0,622.0 L440.0,616.0 L436.0,611.0 L428.0,605.0 L423.0,597.0 L424.0,593.0 L430.0,581.0 L433.0,571.0 L432.0,559.0 L428.0,546.0 L410.0,545.0 L400.0,544.0 L394.0,547.0 L386.0,546.0 L380.0,540.0 L374.0,532.0 L368.0,520.0 L360.0,510.0 L352.0,500.0 L344.0,492.0 L332.0,488.0 L324.0,486.0 L320.0,496.0 L322.0,508.0 L324.0,518.0 L318.0,519.0 L314.0,514.0 L308.0,504.0 L302.0,500.0 L294.0,497.0 L286.0,500.0 L276.0,509.0 L270.0,500.0 L263.0,490.0 L256.0,486.0 L252.0,489.0 L243.0,478.0 L241.0,468.0 L250.0,456.0 L254.0,448.0 L249.0,440.0 L250.0,430.0 L252.0,428.0 L260.0,421.0 L274.0,421.0 L276.0,416.0 L280.0,412.0 L284.0,407.0 L280.0,403.0 L266.0,402.0 L258.0,400.0 L252.0,392.0 L238.0,394.0 L234.0,390.0 L238.0,388.0 L236.0,380.0 L230.0,376.0 L228.0,365.0 L228.0,364.8 L236.0,360.0 L240.0,354.0 L240.0,342.0 L244.0,332.0 L248.0,326.0 L246.0,322.0 L250.0,314.0 L256.0,306.0 L260.0,296.0 L252.0,294.0 L240.0,290.0 L230.0,284.0 L224.0,284.0 L222.0,288.0 L218.0,296.0 L215.0,302.0 L208.0,305.6 L205.0,300.0 L204.0,293.0 L198.0,294.0 L192.0,293.0 L189.0,288.0 L187.0,283.0 L190.0,279.0 L192.0,273.0 L188.0,268.0 L185.0,265.0 L186.0,260.0 L192.0,259.0 L198.0,264.0 L199.0,262.0 L206.0,255.0 L202.0,248.0 L194.0,244.0 L190.0,234.0 L190.0,235.0 L185.0,230.0 L187.0,220.0 L188.0,215.0 L169.0,212.0 L166.0,220.0 L165.0,234.0 L168.0,237.0 L164.0,244.0 L158.0,249.0 L154.0,247.0 L152.0,236.0 L146.0,234.0 L140.0,238.0 L136.0,246.0 L130.0,251.0 L122.0,255.0 L114.0,262.0 L104.0,267.0 L100.0,275.0 L91.0,273.0 L90.0,262.0 L86.0,258.0 L93.0,250.0 L97.0,243.0 L99.0,235.0 L100.0,229.0 L93.0,232.0 L90.0,233.0 L90.0,230.0 L95.0,225.0 L100.0,220.0 L101.0,211.0 L112.0,209.0 L116.0,216.0 L126.0,218.0 L124.0,209.0 L127.0,204.0 L130.0,194.0 L136.0,184.0 L134.0,176.0 L126.0,173.0 L120.0,166.0 L112.0,168.0 L103.0,169.0 L97.0,160.0 L89.0,158.0 L95.0,148.0 L97.0,142.0 L92.0,140.0 L86.0,122.0 L79.0,118.0 L77.0,110.0 L88.0,106.0 L84.0,102.0 L90.0,98.0 L93.0,88.0 L88.0,84.0 L87.0,76.0 L82.0,70.0 L90.0,68.0 L93.0,64.0 L98.0,50.0 L108.0,37.0 L100.0,28.0 L90.0,22.0 L80.0,19.0 L69.0,17.0Z" fill="none" stroke="#3a0c09" stroke-width="0.9" stroke-linejoin="round"/>
<path d="M183.1,61.4 L190.2,72.0 L197.4,82.7 L208.0,95.2 L220.5,105.8 L231.2,114.7 L232.6,120.0 L230.3,129.0 L225.8,139.6 L221.4,148.5 L220.5,145.9 L222.3,137.9 L225.8,127.2 L226.2,119.3 L217.6,112.6 L208.6,103.6 L199.9,93.0 L192.9,82.2 L186.2,71.2 L183.0,63.6Z" fill="#e7695d" stroke="#3a0c09" stroke-width="0.7"/>
<path d="M226.2,119.3 L231.2,114.7 L232.6,120.0 L230.3,129.0 L225.8,139.6 L221.4,148.5 L220.5,145.9 L222.3,137.9 L225.8,127.2Z" fill="#cb3226" stroke="#3a0c09" stroke-width="0.5"/>
<path d="M186.7,80.9 L189.4,81.8 L193.8,88.0 L198.3,95.2 L196.5,96.9 L192.0,91.6 L187.6,86.3Z" fill="#e7695d" stroke="#3a0c09" stroke-width="0.5"/>
<path d="M166,0 C170,12 173,22 175,29.6" fill="none" stroke="#333" stroke-width="0.7"/>
<path d="M637,526 L707,498.4" fill="none" stroke="#333" stroke-width="0.8"/>
<path d="M718,615 C716,625 710,632 704,638 M676,661 C674,665 674,670 674,674" fill="none" stroke="#444" stroke-width="0.7"/>
</g>
<g id="panel">
<text x="350.3" y="17.6" font-size="28.63" font-weight="700" fill="#5a1a1c" stroke="#5a1a1c" stroke-width="0.8" stroke-linejoin="round" textLength="508.5" lengthAdjust="spacingAndGlyphs">CASOS POSITIVOS ACUMULADOS</text>
<text x="365.3" y="49.6" font-size="28.63" font-weight="700" fill="#5a1a1c" stroke="#5a1a1c" stroke-width="0.8" stroke-linejoin="round" textLength="480.5" lengthAdjust="spacingAndGlyphs">POR MUNICIPIO DE RESIDENCIA</text>
<rect x="367.5" y="65.0" width="468.2" height="40.0" rx="13.5" ry="13.5" fill="#651b32" />
<text x="431.5" y="96.1" font-size="32.85" font-weight="700" fill="#ffffff" stroke="#ffffff" stroke-width="0.6" stroke-linejoin="round" textLength="342.9" lengthAdjust="spacingAndGlyphs">15 DE JUNIO DEL 2021</text>
<text x="860.4" y="202.1" font-size="52.86" font-weight="700" fill="#84251a" stroke="#84251a" stroke-width="2.2" stroke-linejoin="round" textLength="183.6" lengthAdjust="spacingAndGlyphs">62,969</text>
<text x="737.8" y="242.1" font-size="23.11" font-weight="700" fill="#3f0d10" stroke="#3f0d10" stroke-width="0.8" stroke-linejoin="round" textLength="418.7" lengthAdjust="spacingAndGlyphs">TOTAL DE CASOS CONFIRMADOS</text>
<rect x="734.4" y="258.3" width="190.6" height="40.4" rx="12" ry="12" fill="#d9e8bf" />
<rect x="822.9" y="258.3" width="102.1" height="40.4" rx="10" ry="10" fill="#93b25d" />
<text x="745.8" y="282.8" font-size="13.08" font-weight="700" fill="#2f4a1e" textLength="70.3" lengthAdjust="spacingAndGlyphs">NEGATIVOS</text>
<text x="831.0" y="290.4" font-size="29.86" font-weight="700" fill="#ffffff" stroke="#ffffff" stroke-width="0.9" stroke-linejoin="round" textLength="85.4" lengthAdjust="spacingAndGlyphs">70,869</text>
<rect x="713.0" y="311.2" width="212.0" height="40.8" rx="12" ry="12" fill="#f8abad" />
<rect x="822.9" y="311.2" width="102.1" height="40.8" rx="10" ry="10" fill="#ee1c25" />
<text x="722.8" y="335.8" font-size="13.08" font-weight="700" fill="#5e1218" textLength="92.7" lengthAdjust="spacingAndGlyphs">CONFIRMADOS</text>
<text x="829.5" y="341.4" font-size="29.43" font-weight="700" fill="#ffffff" stroke="#ffffff" stroke-width="0.9" stroke-linejoin="round" textLength="88.0" lengthAdjust="spacingAndGlyphs">62,969</text>
<rect x="968.3" y="258.3" width="205.7" height="40.4" rx="12" ry="12" fill="#d8ecfb" />
<rect x="1079.6" y="258.3" width="94.4" height="40.4" rx="10" ry="10" fill="#1b79c6" />
<text x="978.7" y="282.8" font-size="13.08" font-weight="700" fill="#1d3c58" textLength="95.1" lengthAdjust="spacingAndGlyphs">SOSPECHOSOS</text>
<text x="1084.3" y="290.1" font-size="29.86" font-weight="700" fill="#ffffff" stroke="#ffffff" stroke-width="0.9" stroke-linejoin="round" textLength="85.2" lengthAdjust="spacingAndGlyphs">10,767</text>
<rect x="968.3" y="311.2" width="205.7" height="40.8" rx="12" ry="12" fill="#cecece" />
<rect x="1079.6" y="311.2" width="94.4" height="40.8" rx="10" ry="10" fill="#000000" />
<text x="980.3" y="335.8" font-size="13.08" font-weight="700" fill="#222222" textLength="89.4" lengthAdjust="spacingAndGlyphs">DEFUNCIONES</text>
<text x="1088.5" y="341.4" font-size="29.43" font-weight="700" fill="#ffffff" stroke="#ffffff" stroke-width="0.9" stroke-linejoin="round" textLength="72.7" lengthAdjust="spacingAndGlyphs">9,952</text>
<rect x="760.4" y="403.3" width="165.3" height="37.7" rx="15" ry="15" fill="#f9d6d2" />
<text x="785.1" y="427.4" font-size="16.86" font-weight="700" fill="#fdf0ee" stroke="#fdf0ee" stroke-width="0.4" stroke-linejoin="round" textLength="115.2" lengthAdjust="spacingAndGlyphs">Positivos 1 a 5</text>
<rect x="762.5" y="452.9" width="165.5" height="37.6" rx="15" ry="15" fill="#f3a69e" />
<text x="782.7" y="477.0" font-size="16.86" font-weight="700" fill="#ffffff" stroke="#ffffff" stroke-width="0.4" stroke-linejoin="round" textLength="125.0" lengthAdjust="spacingAndGlyphs">Positivos 6 a 10</text>
<rect x="764.8" y="500.9" width="165.3" height="38.0" rx="15" ry="15" fill="#e7695d" />
<text x="780.1" y="525.4" font-size="16.86" font-weight="700" fill="#ffffff" stroke="#ffffff" stroke-width="0.4" stroke-linejoin="round" textLength="135.6" lengthAdjust="spacingAndGlyphs">Positivos 11 a 20</text>
<rect x="764.8" y="548.4" width="165.3" height="38.0" rx="15" ry="15" fill="#cb3226" />
<text x="780.1" y="572.2" font-size="16.86" font-weight="700" fill="#ffffff" stroke="#ffffff" stroke-width="0.4" stroke-linejoin="round" textLength="135.6" lengthAdjust="spacingAndGlyphs">Positivos 21 a 50</text>
<rect x="941.1" y="403.2" width="190.0" height="37.1" rx="15" ry="15" fill="#a2291d" />
<text x="965.5" y="427.1" font-size="16.86" font-weight="700" fill="#ffffff" stroke="#ffffff" stroke-width="0.4" stroke-linejoin="round" textLength="144.9" lengthAdjust="spacingAndGlyphs">Positivos 51 a 200</text>
<rect x="941.1" y="452.5" width="190.0" height="37.1" rx="15" ry="15" fill="#781d15" />
<text x="960.3" y="475.7" font-size="16.86" font-weight="700" fill="#ffffff" stroke="#ffffff" stroke-width="0.4" stroke-linejoin="round" textLength="154.5" lengthAdjust="spacingAndGlyphs">Positivos 201 a 500</text>
<rect x="941.1" y="500.8" width="190.0" height="37.1" rx="15" ry="15" fill="#57160f" />
<text x="954.7" y="523.6" font-size="16.86" font-weight="700" fill="#ffffff" stroke="#ffffff" stroke-width="0.4" stroke-linejoin="round" textLength="159.4" lengthAdjust="spacingAndGlyphs">Positivos 501 a 1000</text>
<rect x="941.1" y="547.9" width="190.0" height="37.1" rx="15" ry="15" fill="#420f0b" />
<text x="951.8" y="571.1" font-size="16.86" font-weight="700" fill="#ffffff" stroke="#ffffff" stroke-width="0.4" stroke-linejoin="round" textLength="169.7" lengthAdjust="spacingAndGlyphs">Positivos 1001 a 5000</text>
<rect x="941.1" y="595.4" width="190.0" height="37.1" rx="15" ry="15" fill="#000000" />
<text x="972.9" y="619.3" font-size="16.86" font-weight="700" fill="#ffffff" stroke="#ffffff" stroke-width="0.4" stroke-linejoin="round" textLength="127.1" lengthAdjust="spacingAndGlyphs">Positivos &gt; 5000</text>
<text x="8.5" y="54.0" font-size="11.63" font-weight="700" fill="#7a7a7a" textLength="50.9" lengthAdjust="spacingAndGlyphs">San Luis</text>
<text x="14.5" y="68.0" font-size="11.63" font-weight="700" fill="#7a7a7a" textLength="38.9" lengthAdjust="spacingAndGlyphs">Potosí</text>
<text x="24.5" y="197.0" font-size="11.63" font-weight="700" fill="#7a7a7a" textLength="46.9" lengthAdjust="spacingAndGlyphs">Hidalgo</text>
<text x="167.5" y="448.0" font-size="11.63" font-weight="700" fill="#7a7a7a" textLength="42.9" lengthAdjust="spacingAndGlyphs">Puebla</text>
<text x="366.5" y="643.0" font-size="11.63" font-weight="700" fill="#7a7a7a" textLength="44.9" lengthAdjust="spacingAndGlyphs">Oaxaca</text>
<text x="657.0" y="554.0" font-size="11.63" font-weight="700" fill="#7a7a7a" textLength="49.9" lengthAdjust="spacingAndGlyphs">Tabasco</text>
</g>
</svg>
</body></html>
